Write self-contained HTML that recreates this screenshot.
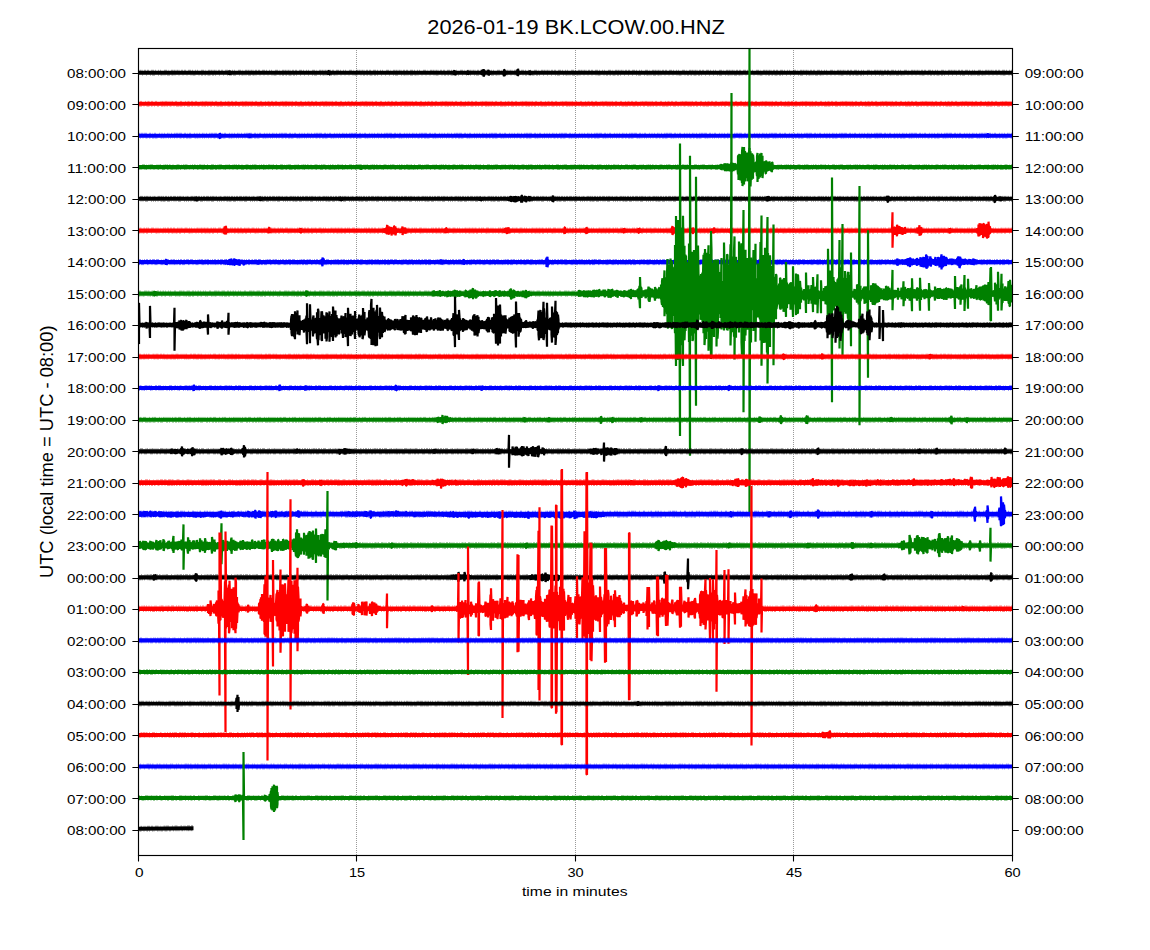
<!DOCTYPE html><html><head><meta charset="utf-8"><style>html,body{margin:0;padding:0;background:#fff;overflow:hidden}svg{display:block}text{font-family:"Liberation Sans",sans-serif;fill:#000}</style></head><body>
<svg width="1150" height="950" viewBox="0 0 1150 950">
<rect width="1150" height="950" fill="#fff"/>
<text x="427.3" y="33.8" font-size="19.6" textLength="297.5" lengthAdjust="spacingAndGlyphs">2026-01-19 BK.LCOW.00.HNZ</text>
<line x1="356.5" y1="48" x2="356.5" y2="855" stroke="#000" stroke-width="0.5" stroke-dasharray="0.8 1.2"/>
<line x1="575.5" y1="48" x2="575.5" y2="855" stroke="#000" stroke-width="0.5" stroke-dasharray="0.8 1.2"/>
<line x1="793.5" y1="48" x2="793.5" y2="855" stroke="#000" stroke-width="0.5" stroke-dasharray="0.8 1.2"/>
<defs><clipPath id="ax"><rect x="138" y="48" width="874.5" height="807"/></clipPath></defs>
<g clip-path="url(#ax)">
<path d="M138 72.7L1012 72.7" stroke="#000000" stroke-width="4.10" fill="none"/>
<path d="M138 70.3L1012 70.3" stroke="#000000" stroke-width="0.80" stroke-dasharray="1.0 3.0 3.0 1.5 0.5 2.0 2.0 0.5 2.0 1.0 2.0 1.0 0.5 1.0 2.0 1.0 2.0 2.0 3.0 1.0 1.0 2.0 1.0 1.0" stroke-dashoffset="15" fill="none" opacity="0.55"/>
<path d="M138 75.1L1012 75.1" stroke="#000000" stroke-width="0.80" stroke-dasharray="1.0 3.0 1.0 3.0 1.0 3.0 1.0 3.0 1.0 1.0 3.0 3.0 1.0 1.5 2.0 1.0 0.5 0.5 1.0 1.5 3.0 1.5 2.0 1.0" stroke-dashoffset="4" fill="none" opacity="0.55"/>
<path d="M227 72.2V73.4l.5 -1.2v1.1l.5 -.1v-.8l.5 -.3v1.3l.5 .6v-2.2l.5 -1.1v4.2l.5 -.7v-2.6l.5 .1v2.2l.5 -.6v-1.1l.5 .1v1l.5 .2v-1.1M326.5 71.9V73.4l.5 -1.5v1.5l.5 0v-1.5l.5 .1v1.3l.5 1.4v-3.7l.5 -.3v3.9l.5 -.2v-2.9l.5 .8v.9l.5 0v-1.1l.5 -.3v1.8l.5 -.5v-.9M452 72.1V73.3l.5 -1.2v1.1l.5 0v-1.4l.5 -.1v1.8l.5 .5v-2.7l.5 -1v4.8l.5 -.9v-2.8l.5 -.2v3l.5 -.6v-1.7l.5 .4v.9l.5 .4v-1.6M465.5 72.1V73.3l.5 -1.3v1.4l.5 -0v-1.1l.5 -.4v1.9l.5 -.2v-1.7l.5 -1.2v4l.5 -.9v-2l.5 .2v1.2l.5 .1v-1.3l.5 -.2v1.4l.5 -.1v-1.1M480 71.9V73.5l.5 -1.8v1.6l.5 -.1v-1.2l.5 -.1v1.6l.5 1.4v-4.1l.5 -.7v4.7l.5 -.7v-2.4l.5 -2.6v7.3l.5 -.6v-5.7l.5 1.4v2l.5 .5v-2.3l.5 .5v1.1l.5 .2v-1.4l.5 -.3v1.6l.5 -.3v-.9l.5 -.3v1.3l.5 .4v-2.2l.5 -1.6v5.5l.5 -.5v-3.6l.5 -.4v3.2l.5 -.7v-1.3l.5 .2v1.2l.5 -0v-1.3l.5 .1v1.1M502 71.9V73.4l.5 -1.2v1.1l.5 -0v-1.1l.5 -.2v1.8l.5 2.6v-6.9l.5 .6v5.6l.5 -1v-3.5l.5 .9v1.4l.5 -.2v-1.5l.5 .2v1.3l.5 0v-1.3M515 72.2V73.3l.5 -1.5v1.8l.5 -.2v-1.6l.5 .3v1.1l.5 .7v-2.5l.5 -2v6.4l.5 -.6v-6.4l.5 3v1.7l.5 .4v-2.1l.5 .3v1.4l.5 -.3v-1.1l.5 .1v1.1M527.5 72.2V73.2l.5 -1v1l.5 -.1v-1l.5 -.1v1.4l.5 -0v-1.5l.5 -1.3v4.2l.5 -.8v-2.2l.5 .4v1l.5 -0v-1l.5 -.2v1.3l.5 -.1v-1.1" stroke="#000000" stroke-width="2.20" fill="none" stroke-linejoin="miter" stroke-miterlimit="1"/>
<path d="M138 103.8L1012 103.8" stroke="#ff0000" stroke-width="4.10" fill="none"/>
<path d="M138 101.4L1012 101.4" stroke="#ff0000" stroke-width="0.80" stroke-dasharray="2.0 3.0 2.0 3.0 1.0 1.5 2.0 1.5 2.0 2.0 2.0 3.0 0.5 1.0 2.0 1.0 3.0 1.0 1.0 1.0 1.0 0.5 1.0 2.0" stroke-dashoffset="3" fill="none" opacity="0.55"/>
<path d="M138 106.2L1012 106.2" stroke="#ff0000" stroke-width="0.80" stroke-dasharray="1.0 1.5 3.0 0.5 3.0 1.5 1.0 2.0 3.0 1.5 1.5 1.5 1.0 2.0 2.0 2.0 2.0 0.5 2.0 1.0 1.5 1.5 2.0 2.0" stroke-dashoffset="5" fill="none" opacity="0.55"/>
<path d="M138 135.7L1012 135.7" stroke="#0000ff" stroke-width="4.10" fill="none"/>
<path d="M138 133.3L1012 133.3" stroke="#0000ff" stroke-width="0.80" stroke-dasharray="1.0 2.0 1.5 1.0 0.5 1.0 1.0 2.0 1.0 0.5 3.0 0.5 3.0 2.0 2.0 1.5 0.5 1.0 2.0 3.0 1.0 1.5 1.0 1.5" stroke-dashoffset="9" fill="none" opacity="0.55"/>
<path d="M138 138.1L1012 138.1" stroke="#0000ff" stroke-width="0.80" stroke-dasharray="1.0 1.0 1.0 1.0 0.5 1.5 1.0 1.5 1.0 2.0 2.0 1.5 1.5 1.5 2.0 0.5 3.0 3.0 1.5 0.5 2.0 1.0 1.0 1.5" stroke-dashoffset="4" fill="none" opacity="0.55"/>
<path d="M218 135.2V136.2l.5 -1.3v1.4l.5 .4v-1.7l.5 -1v3.9l.5 .6v-5.6l.5 2.3v1.2l.5 -.2v-1.1l.5 0v1.4l.5 -.1v-1.1M247 135.2V136.3l.5 -1.1v1l.5 .2v-1.4l.5 -0v1.3l.5 .2v-1.5l.5 -1.2v4.1l.5 -.8v-2.2l.5 .5v1.2l.5 .1v-1.4l.5 0v1.1l.5 .2v-1.5M985.5 135V136.6l.5 -1.5v1.2l.5 -.1v-1l.5 -0v1l.5 .1v-1.3l.5 -1.7v4.3l.5 -1.3v-1.4l.5 -.1v1.7l.5 -.4v-1.3l.5 .3v.9l.5 -.2v-.9" stroke="#0000ff" stroke-width="2.20" fill="none" stroke-linejoin="miter" stroke-miterlimit="1"/>
<path d="M138 167.1L1012 167.1" stroke="#008000" stroke-width="4.10" fill="none"/>
<path d="M138 164.7L1012 164.7" stroke="#008000" stroke-width="0.80" stroke-dasharray="1.5 2.0 0.5 1.0 2.0 0.5 1.0 1.0 1.5 2.0 1.0 3.0 3.0 1.5 0.5 1.5 1.0 0.5 3.0 3.0 0.5 1.0 1.0 1.0" stroke-dashoffset="13" fill="none" opacity="0.55"/>
<path d="M138 169.5L1012 169.5" stroke="#008000" stroke-width="0.80" stroke-dasharray="2.0 1.0 0.5 1.0 1.0 3.0 1.0 0.5 1.0 3.0 0.5 3.0 1.0 3.0 1.5 3.0 3.0 2.0 1.5 2.0 3.0 0.5 0.5 1.0" stroke-dashoffset="2" fill="none" opacity="0.55"/>
<path d="M358.5 166.6V167.7l.5 -1.3v1.7l.5 -.1v-1.4l.5 -.2v1.6l.5 .4v-2l.5 -1.7v5l.5 -1.8v-1.3l.5 -.2v1.7l.5 -0v-1.5l.5 .2v.9l.5 .2v-1.2M718 166.3V167.7l.5 -1.1v.9l.5 .2v-1.3l.5 -.1v1.5l.5 .7v-3l.5 -.2v3l.5 .3v-3.1l.5 -1.4v5.9l.5 -1.2v-3.1l.5 -.4v3.1l.5 1v-4.9l.5 1.4v2.1l.5 .2v-3l.5 -1.5v6.6l.5 -.1v-6l.5 -.4v7.2l.5 -2.4v-3.6l.5 -1.4v6.1l.5 1.4v-7.7l.5 2.2v3l.5 2.4v-7.2l.5 1.3v4.2l.5 -.2v-4.1l.5 .2v2.9l.5 3.1v-7.5l.5 2.2v2.1l.5 1.7v-5.9l.5 -1v8.7l.5 -1.2v-6.8l.5 1v4.7l.5 -.1v-5.2l.5 -.7v7.9l.5 -2.8v-2.8l.5 -.8v3.8l.5 1.7v-6.2l.5 -.2v5.4l.5 -.9v-3.4l.5 1.3v1l.5 .4v-1.7l.5 -1.7v4.6l.5 5.5v-17.9l.5 -1.3v24.8l.5 -3.9v-19.2l.5 -2.8v25.6l.5 -4.2v-16.1l.5 -3.9v25l.5 -4.9v-19.8l.5 -.5v22.2l.5 5.6v-30.9l.5 -5.2v39.2l.5 -10.9v-18.9l.5 4.5v12.1l.5 11.7v-37.5l.5 11.6v14.9l.5 7.9v-30.4l.5 9.7v11.7l.5 .9v-13.3l.5 -6.7v24.5l.5 -1v-24.3l.5 1.2v27.5l.5 -5.5v-15.9l.5 .8v14.2l.5 5.2v-27.9l.5 -4.2v33.1l.5 -7v-16.3l.5 -6.6v35.3l.5 -11.8v-16l.5 -2.9v24.1l.5 -3.7v-22.9l.5 4.5v16.1l.5 4.9v-24.1l.5 5v12.7l.5 -2.2v-7.3l.5 2.6v2.8l.5 .3v-3.9l.5 -2.4v7.5l.5 2v-9.8l.5 .1v9.6l.5 4.5v-19.7l.5 -3.6v29l.5 -9.9v-9.7l.5 -7.1v23.7l.5 -3.8v-16.2l.5 2.8v8.6l.5 7.1v-23.8l.5 6.2v11.2l.5 4.5v-19.1l.5 -3.5v23l.5 -1.3v-14.5l.5 -4.4v22.4l.5 -6.5v-9.8l.5 1.8v6.3l.5 -.2v-6.9l.5 -1.3v10.1l.5 -2.5v-4.7l.5 -3.3v12.2l.5 .1v-12.9l.5 1.8v9l.5 -.2v-8.4l.5 .4v6.5l.5 1.5v-9l.5 .8v7.5l.5 -1.7v-3.6l.5 -3.8v9.1l.5 -.7v-5.2l.5 .6v3.1l.5 .3v-4.2l.5 -1.5v9.1l.5 -.6v-9.3l.5 .8v7l.5 -2.2v-1.7l.5 -.2v2l.5 -.1v-1.7l.5 -.1v1.8l.5 -.2v-1.2" stroke="#008000" stroke-width="2.20" fill="none" stroke-linejoin="miter" stroke-miterlimit="1"/>
<path d="M138 198.8L1012 198.8" stroke="#000000" stroke-width="4.10" fill="none"/>
<path d="M138 196.4L1012 196.4" stroke="#000000" stroke-width="0.80" stroke-dasharray="2.0 1.0 1.0 1.0 2.0 1.0 3.0 1.0 1.0 0.5 3.0 1.0 1.5 1.5 1.0 0.5 1.5 2.0 3.0 0.5 1.5 0.5 1.0 1.0" stroke-dashoffset="6" fill="none" opacity="0.55"/>
<path d="M138 201.2L1012 201.2" stroke="#000000" stroke-width="0.80" stroke-dasharray="1.0 1.0 1.0 1.5 1.0 2.0 1.5 0.5 3.0 1.5 3.0 1.0 0.5 2.0 1.0 1.0 0.5 0.5 0.5 1.0 3.0 3.0 1.0 1.0" stroke-dashoffset="18" fill="none" opacity="0.55"/>
<path d="M194 198.1V199.7l.5 -1.5v1.3l.5 .2v-1.7l.5 .4v1.1l.5 .5v-1.7l.5 -1.5v4.4l.5 -1.6v-1.4l.5 -.1v1.5l.5 .2v-1.6l.5 .2v1l.5 .2v-1.2M258 198.2V199.3l.5 -1.2v1.2l.5 0v-1l.5 -.4v1.8l.5 .7v-2.8l.5 -.7v3.8l.5 -1.2v-1.4l.5 -.2v1.7l.5 -.3v-1.2l.5 0v1.1l.5 .3v-1.3M338.5 198.3V199.3l.5 -1.3v1.6l.5 -0v-1.4l.5 .2v.9l.5 .4v-1.6l.5 -1.1v3.9l.5 -.9v-1.9l.5 -0v1.8l.5 -.1v-1.6l.5 -0v1.6M478 198.2V199.4l.5 -1.3v1.3l.5 .1v-1.2l.5 -.2v1.7l.5 -.1v-1.8l.5 -1v4.1l.5 -.9v-2l.5 -.3v2.2l.5 -.5v-1.2l.5 .1v1.1l.5 -.2v-1.1M506.5 198.1V199.3l.5 -1.3v1.7l.5 -.3v-1.2l.5 -.5v2.2l.5 -.1v-2l.5 .4v1.3l.5 1.2v-3.3l.5 .1v2.8l.5 .2v-3l.5 -1.4v5.7l.5 -1.4v-3.2l.5 .8v1.8l.5 1.7v-4.6l.5 .9v2.3l.5 0v-2l.5 -1.5v5.5l.5 -1v-3.6l.5 -.9v5l.5 -.2v-4.3l.5 -.8v5.6l.5 -1.7v-2.8l.5 .1v4l.5 -1.4v-2l.5 .1v1.8l.5 .5v-3.1l.5 -.7v3.8l.5 -.6v-1.8l.5 -.2v1.6l.5 .8v-3.2l.5 .2v3.7l.5 1.6v-7.1l.5 .1v6.8l.5 -2.3v-2.8l.5 0v2.6l.5 1v-4.3l.5 1.3v1.8l.5 1.2v-4.1l.5 -.2v4.8l.5 -1.1v-3.2l.5 -.8v5.9l.5 -2.3v-2l.5 -.1v1.7l.5 1v-3.2l.5 .7v1.7l.5 .1v-2.5l.5 -1.1v4.9l.5 -.6v-4.2l.5 .8v3.1l.5 -.9v-1.4l.5 -.2v1.9l.5 -.2v-1.3l.5 -.2v1.3l.5 .2v-1.3l.5 0v1.1l.5 .3v-1.7M550.5 198.2V199.3l.5 -1.3v1.4l.5 .2v-1.4l.5 -.5v2.3l.5 1.2v-4.2l.5 -1.4v6.5l.5 -1.9v-2.5l.5 .8v1l.5 .3v-1.5l.5 -.1v1.5l.5 -.1v-1.5M764.5 198V199.6l.5 -1.4v1.1l.5 -0v-1.2l.5 -.2v1.9l.5 -.4v-1.4l.5 -.9v3l.5 1.3v-5.2l.5 1.4v2.1l.5 1.2v-4.4l.5 1.2v2.3l.5 -.6v-1.4l.5 -.1v1.5l.5 -.2v-1.1M885 198.2V199.3l.5 -1v1l.5 .1v-1.3l.5 -.3v1.8l.5 .8v-3.7l.5 -.4v4.7l.5 1.6v-6.7l.5 1.7v2.5l.5 .6v-3.6l.5 1.1v1.3l.5 .2v-1.6l.5 -0v1.6l.5 -.1v-1.5l.5 .1v1.2M992 198.3V199.2l.5 -1.1v1.5l.5 -.3v-1l.5 -.6v2.2l.5 0v-2.1l.5 -1.2v5.3l.5 .7v-7.6l.5 1.8v3.4l.5 -.4v-1.6l.5 -.3v1.7l.5 -.1v-1l.5 -.5v1.4l.5 -.1v-1l.5 -.1v1.1l.5 0v-1.1l.5 -.5v2.3l.5 -.5v-1.3l.5 -1.5v4.5l.5 -1.4v-2.3l.5 0v2.5l.5 -.5v-1.5l.5 .3v1l.5 .2v-1" stroke="#000000" stroke-width="2.20" fill="none" stroke-linejoin="miter" stroke-miterlimit="1"/>
<path d="M138 230.6L1012 230.6" stroke="#ff0000" stroke-width="4.29" fill="none"/>
<path d="M138 228.1L1012 228.1" stroke="#ff0000" stroke-width="0.88" stroke-dasharray="0.5 2.0 1.5 0.5 1.0 1.0 2.0 1.0 2.0 1.0 2.0 2.0 1.5 1.0 1.0 0.5 1.5 2.0 3.0 1.5 1.0 1.0 1.0 2.0" stroke-dashoffset="11" fill="none" opacity="0.55"/>
<path d="M138 233.1L1012 233.1" stroke="#ff0000" stroke-width="0.88" stroke-dasharray="0.5 0.5 1.5 1.0 1.0 3.0 1.0 2.0 0.5 2.0 1.5 2.0 2.0 1.0 1.0 0.5 1.0 0.5 0.5 1.0 2.0 3.0 1.0 3.0" stroke-dashoffset="16" fill="none" opacity="0.55"/>
<path d="M222.5 229.8V231.4l.5 -1.3v1l.5 .3v-1.5l.5 -1v3.7l.5 1.4v-7.5l.5 2.4v3.1l.5 2.5v-8.5l.5 .8v7.6l.5 -3v-2.1l.5 -.4v3.3l.5 -1v-1.4l.5 -0v1.8l.5 -.4v-1.1l.5 -.3v1.3M266 229.9V231.2l.5 -1.3v1.5l.5 -.2v-1.3l.5 -.4v2l.5 0v-1.9l.5 -.1v1.9l.5 1.9v-5.6l.5 -.3v5.4l.5 -1.4v-1.7l.5 -0v1.6l.5 -.1v-1.3l.5 .1v1.3l.5 -0v-1.3M298 229.8V231.2l.5 -1.5v1.6l.5 -.3v-1.1l.5 -.1v1.5l.5 .5v-2.4l.5 -1.3v4.9l.5 -.6v-3.2l.5 .6v1.5l.5 -0v-1.4l.5 .1v1.4l.5 -.1v-1.3l.5 -.1v1.6M382 229.8V231.5l.5 -1.8v1.4l.5 .1v-1.5l.5 -.1v1.8l.5 .3v-2.5l.5 -0v2.9l.5 -0v-2.7l.5 -.3v2.4l.5 1.6v-5.4l.5 .7v4.5l.5 1.2v-8.3l.5 -.6v9l.5 -1.8v-3.7l.5 -.1v4.6l.5 1.4v-8l.5 1.1v5.8l.5 -1.4v-3.5l.5 -.2v4.5l.5 -1.1v-2.8l.5 -1.9v8.5l.5 -3.6v-2.9l.5 -1.4v6l.5 -1.8v-2.6l.5 -.1v2.6l.5 2.4v-7.9l.5 -.1v8l.5 -1v-5.7l.5 -1v8.9l.5 -2.5v-4.5l.5 1.4v1.8l.5 .8v-2.9l.5 -.3v2.4l.5 .1v-2.1l.5 .2v1.5l.5 -.1v-1.2l.5 -.2v1.5l.5 .3v-1.6l.5 -.1v1.7l.5 1.1v-3.4l.5 .2v2.5l.5 -.3v-2.6l.5 -2.6v8.4l.5 -1.6v-4.9l.5 -.4v4.7l.5 .8v-5.2l.5 -0v3.8l.5 .9v-5l.5 .7v5.1l.5 -2.6v-1l.5 -.1v1.1l.5 .4v-1.8l.5 .3v1.4l.5 -0v-1.4M443 230V231.5l.5 -1.7v1.7l.5 -.4v-1.1l.5 -.1v1.3l.5 1.2v-3.7l.5 .7v2.3l.5 1.4v-5l.5 .1v4.6l.5 -1.1v-2.2l.5 -0v2.4l.5 -.6v-1.6l.5 .3v1.5l.5 -.1v-1.3M502 230V231.2l.5 -1.4v1.6l.5 -.1v-1.2l.5 -.2v1.1l.5 1.2v-2.8l.5 .3v1.8l.5 .9v-3.8l.5 -0v3.9l.5 -1v-2.1l.5 -.7v3.6l.5 1.6v-6.3l.5 1.4v3.9l.5 -.5v-3.6l.5 -1.5v5.8l.5 -1.4v-2l.5 .1v1.6l.5 -.1v-1.4l.5 -.1v1.5l.5 .1v-1.5l.5 .1v1.1l.5 .2v-1.7M561.5 230V231.3l.5 -1.2v1l.5 .4v-1.7l.5 -0v1.6l.5 -.1v-1.5l.5 -0v1.9l.5 2.2v-6.5l.5 -.1v6.2l.5 -1.6v-2.6l.5 .8v1.2l.5 .2v-1.8l.5 .4v1.3l.5 .1v-1.8M583.5 229.9V231.4l.5 -1.4v1.2l.5 -0v-1.1l.5 -.2v1.5l.5 1.1v-4.3l.5 1.3v2.6l.5 1.9v-7l.5 2.3v3.5l.5 -.7v-2.6l.5 .3v1.9l.5 -0v-1.5l.5 0v1.4l.5 .1v-1.4M621 230.1V231.3l.5 -1.4v1.4l.5 .1v-1.4l.5 -.5v2.1l.5 -.4v-1.4l.5 -.5v3.2l.5 .6v-4.9l.5 1v2.5l.5 .2v-2.6l.5 .9v1.2l.5 -.1v-1l.5 -.1v1.1l.5 0v-1.1M636 229.8V231.6l.5 -1.6v1.3l.5 0v-1.5l.5 0v1.3l.5 .2v-1.5l.5 -1.2v4.2l.5 .2v-4.8l.5 .7v3.7l.5 -1.5v-1.1l.5 -.2v1.7l.5 -0v-1.7l.5 .1v1.2l.5 .1v-1.5M669 230V231.4l.5 -1.7v1.9l.5 -.5v-1.2l.5 -.3v1.6l.5 .2v-1.7l.5 -.4v2.3l.5 1.1v-4.7l.5 -2.1v9.2l.5 -2.9v-3.4l.5 -1.5v5.8l.5 -.1v-5.4l.5 1.7v2.3l.5 -.1v-1.8l.5 .3v1.1l.5 .1v-1.4l.5 .1v1.5M690 229.9V231.2l.5 -1.3v1.5l.5 .1v-1.7l.5 .3v1.3l.5 1.1v-4.7l.5 1.7v2.5l.5 1.9v-6.3l.5 2.2v1.7l.5 -0v-1.7l.5 .2v1.4l.5 -0v-1.5l.5 .1v1.4l.5 .3v-1.8M711 230V231.3l.5 -1.3v1.1l.5 .3v-1.8l.5 -.5v2.6l.5 1.2v-3.9l.5 .2v3l.5 1v-5.8l.5 2.3v2.1l.5 -.4v-1.8l.5 -.1v1.9l.5 .1v-1.7l.5 -0v1.6M728 230.1V231.1l.5 -1.1v1.5l.5 0v-1.7l.5 .2v1.2l.5 .5v-2l.5 -.1v2l.5 1.3v-4.8l.5 .5v4.2l.5 -1.4v-1.9l.5 .1v1.6l.5 -.1v-1l.5 -.2v1.4l.5 0v-1.4M891 230.1V231.3l.5 -1.3v1.2l.5 .2v-1.5l.5 -17.6v35.4l.5 -15.1v-3.8l.5 .2v3.5l.5 .6v-5.7l.5 .1v7.2l.5 -2.5v-3.5l.5 -1.1v6.6l.5 -.8v-6.7l.5 1.2v4.8l.5 3.6v-11.6l.5 2.1v6.8l.5 -.2v-7l.5 2.7v3.4l.5 1v-5.5l.5 -1.9v7.7l.5 -1.6v-3.8l.5 .4v3.7l.5 -.6v-3.3l.5 -1.6v6.9l.5 -2.3v-2.2l.5 -1.8v7.3l.5 -3.3v-2l.5 -.9v4l.5 .1v-4.6l.5 1.4v1.5l.5 2.8v-7l.5 2.9v1.2l.5 .1v-1.2l.5 -.1v1.4l.5 .3v-1.8l.5 .2v1.1l.5 .2v-1.7M915 229.8V231.3l.5 -1.3v1.3l.5 .1v-1.3l.5 -.4v1.9l.5 -.1v-1.3l.5 -2.8v6.1l.5 -1.5v-3l.5 -.2v3.4l.5 .3v-4.1l.5 -3.2v10.6l.5 -3.4v-4.2l.5 -.4v5.6l.5 1.9v-8.1l.5 1.3v4.8l.5 -1.8v-1.7l.5 -.1v2l.5 -.5v-1l.5 -.3v1.5l.5 .1v-1.4M947 229.8V231.3l.5 -1.3v1.1l.5 .3v-1.6l.5 .2v1.3l.5 .1v-1.7l.5 -.5v3.1l.5 .9v-4.9l.5 .9v3l.5 -.9v-1.5l.5 .2v1.1l.5 .4v-1.7l.5 0v1.6l.5 -.2v-1.5M974.5 229.9V231.3l.5 -1.3v1.2l.5 -0v-1.7l.5 .4v1.2l.5 .3v-1.5l.5 -.4v1.9l.5 1.6v-5l.5 .8v3.1l.5 4.5v-11.8l.5 1.5v9.3l.5 .6v-12.8l.5 5.8v2.7l.5 1.2v-5.6l.5 1.6v2.5l.5 3.5v-11.3l.5 5.1v3.6l.5 -.7v-3l.5 -4.2v13.5l.5 -1.7v-12.3l.5 -.2v13l.5 -4v-4.9l.5 1.3v2.5l.5 1v-5.6l.5 -2.6v11.9l.5 .3v-10.7l.5 -1.8v14.5l.5 -6.8v-2.5l.5 -5.2v13.4l.5 -.8v-15l.5 5.9v6.4l.5 -0v-7.4l.5 -.1v7l.5 -2.2v-2l.5 -.1v2l.5 -.3v-1.5l.5 .3v1.1l.5 -0v-1.2" stroke="#ff0000" stroke-width="2.20" fill="none" stroke-linejoin="miter" stroke-miterlimit="1"/>
<path d="M138 262.1L1012 262.1" stroke="#0000ff" stroke-width="4.29" fill="none"/>
<path d="M138 259.6L1012 259.6" stroke="#0000ff" stroke-width="0.88" stroke-dasharray="0.5 1.5 0.5 1.0 2.0 0.5 2.0 1.5 2.0 0.5 2.0 1.5 0.5 1.0 1.0 1.0 2.0 1.5 1.5 1.0 3.0 1.0 3.0 2.0" stroke-dashoffset="11" fill="none" opacity="0.55"/>
<path d="M138 264.6L1012 264.6" stroke="#0000ff" stroke-width="0.88" stroke-dasharray="2.0 1.5 1.0 1.0 1.0 1.0 2.0 1.0 1.0 1.5 2.0 1.0 3.0 3.0 1.5 3.0 1.0 2.0 3.0 3.0 3.0 1.0 0.5 1.0" stroke-dashoffset="13" fill="none" opacity="0.55"/>
<path d="M164 261V262.8l.5 -1.5v1.7l.5 0v-2l.5 .3v1.7l.5 1.6v-4.7l.5 -.5v5.5l.5 -1.9v-1.7l.5 .1v1.5l.5 .4v-2.5l.5 .6v1.3l.5 0v-1.1l.5 -.2v1.3M224 261.6V262.8l.5 -1.3v1.3l.5 0v-1.3l.5 .1v1.2l.5 1.5v-3.8l.5 .3v2.6l.5 -.4v-1.7l.5 -1v3.7l.5 .2v-3.9l.5 .8v2.4l.5 1v-5l.5 .4v4l.5 .8v-4.3l.5 .7v2l.5 1.9v-6.3l.5 1.3v4.2l.5 -1v-2l.5 -.4v2.5l.5 1.9v-5.5l.5 1v2.8l.5 1.3v-6.2l.5 1.1v5.2l.5 .2v-5.6l.5 .5v4.1l.5 .5v-4.6l.5 .5v2.7l.5 -.2v-1.9l.5 -1.5v5.5l.5 -1.7v-2.1l.5 -0v2.2l.5 .7v-3.7l.5 -.8v6.1l.5 -2.3v-2l.5 .3v1.4l.5 .5v-3.1l.5 1.1v1.6l.5 -.3v-1.1l.5 -.3v1.6l.5 -.1v-1.5l.5 -.7v2.8l.5 1.6v-5.3l.5 1.8v1.7l.5 -.1v-1.6l.5 .1v1.5l.5 -.2v-1.5l.5 .2v1.3M255.5 261.3V263l.5 -1.5v1.3l.5 -.1v-1.4l.5 .1v1.7l.5 -.1v-1.7l.5 -.6v2.7l.5 1.1v-4.4l.5 1.2v1.9l.5 .2v-2.2l.5 .3v1.8l.5 -.3v-1.5l.5 0v1.7l.5 -.2v-1.5M319.5 261.3V263l.5 -1.7v1.4l.5 .1v-1.6l.5 .2v1.2l.5 1v-3.9l.5 0v4.6l.5 1.9v-8.8l.5 3v2.8l.5 1.2v-5.9l.5 2.7v1.6l.5 -.2v-1.5l.5 .2v1.4l.5 -.2v-1.3l.5 .2v1M439 261.6V262.6l.5 -1.4v1.7l.5 -.2v-1.1l.5 -.6v1.9l.5 1.2v-3.5l.5 -1.1v4.8l.5 -1.1v-2.3l.5 .2v1.5l.5 0v-1.4l.5 -.2v1.6l.5 -0v-1.4M461.5 261.4V262.8l.5 -1.1v.9l.5 .1v-1.1l.5 -.1v1.3l.5 1.5v-4.4l.5 -.2v5l.5 -1.6v-2l.5 -.3v2.1l.5 -.2v-1.2l.5 -0v1.1l.5 .2v-1.5M544 261.4V263.1l.5 -1.6v1.4l.5 0v-1.6l.5 .2v1l.5 .3v-1.8l.5 -3.3v9.2l.5 -2v-5l.5 -3.1v10.5l.5 -3.2v-3.9l.5 -.4v4.3l.5 -1.3v-1.3l.5 -.3v1.7l.5 -.4v-1.2l.5 0v1.2l.5 .3v-1.6M590.5 261.6V262.7l.5 -1.6v1.8l.5 -.1v-1.6l.5 -.2v1.9l.5 -.2v-1.5l.5 -0v1.6l.5 1v-3.8l.5 1.1v1.7l.5 -.2v-1.5l.5 .2v1.2l.5 .3v-1.5l.5 -.2v1.6M894 261.1V262.8l.5 -1.5v1.3l.5 .2v-1.7l.5 .1v1.7l.5 -.1v-1.4l.5 -1.5v3.8l.5 1v-4.7l.5 -1.4v7.1l.5 -2.5v-2.4l.5 -.4v3.4l.5 -.1v-3.8l.5 .4v2.9l.5 -.2v-1.9l.5 -.1v1.9l.5 .3v-2.1l.5 -.3v2.3l.5 0v-2.9l.5 -.1v3.2l.5 1.3v-4.8l.5 .7v3.6l.5 -.6v-3l.5 .1v3.1l.5 -.2v-3.2l.5 .5v2.4l.5 1v-5.1l.5 1.2v2.7l.5 1.6v-6l.5 2.1v2.3l.5 3v-7.8l.5 1v5.2l.5 -.5v-3.4l.5 -2.4v6.7l.5 2.1v-9.3l.5 2.1v5l.5 -1.1v-3.3l.5 -1.9v6.6l.5 -.5v-5.1l.5 1.4v2l.5 1.9v-5.4l.5 .2v5.1l.5 -1.3v-2.6l.5 -.8v3.5l.5 -.8v-1.7l.5 -.7v3.3l.5 .5v-5.1l.5 .6v4.2l.5 2v-7.6l.5 1.4v4.6l.5 .2v-4.2l.5 -.6v4.2l.5 1v-5.5l.5 .8v3.7l.5 .2v-3.5l.5 -3.2v9.4l.5 -1v-7.7l.5 2.4v3.2l.5 1.8v-6.3l.5 -1.3v9.4l.5 -1.3v-8.1l.5 -.2v9.5l.5 -1.2v-7.6l.5 .2v7.1l.5 1.1v-9.5l.5 2.2v6.1l.5 2.1v-12.2l.5 -.2v13.7l.5 -2.5v-9l.5 -1.4v11.7l.5 -3.2v-4.6l.5 .3v3.3l.5 .1v-3.4l.5 0v3.1l.5 2.3v-7.2l.5 -1.9v9.8l.5 -.6v-7.1l.5 1.8v3.1l.5 .9v-4.6l.5 -.1v3.8l.5 .2v-3.3l.5 -.5v3.8l.5 .5v-4.8l.5 .4v3.8l.5 .3v-4.5l.5 -2.2v8.7l.5 -1.6v-4.4l.5 .1v3.5l.5 .4v-4.6l.5 .7v3.4l.5 2.1v-8.3l.5 1.2v6.4l.5 -1.7v-3l.5 -2.8v10.2l.5 -3.4v-4.6l.5 -.3v5.2l.5 .9v-7.6l.5 -3.3v15.2l.5 -5.8v-5.3l.5 -.8v9.1l.5 -.2v-10.5l.5 1.6v8.2l.5 -.7v-9l.5 2.3v6l.5 1.2v-7.9l.5 1.6v4.5l.5 2.3v-9l.5 1.1v5.7l.5 .1v-5l.5 .9v3.5l.5 -.5v-2.8l.5 -.2v3.8l.5 -.3v-3.7l.5 .2v3l.5 .4v-3.8l.5 -.2v4.6l.5 -.5v-3.9l.5 -0v3.4l.5 2.2v-5.7l.5 -.3v4.7l.5 -1.3v-2.2l.5 -1.5v5.2l.5 -1.6v-2l.5 -.7v4.1l.5 -1.5v-1.5l.5 -1v3.8l.5 -.1v-3.3l.5 -.6v3.9l.5 .1v-4.5l.5 -.9v7l.5 -.4v-8.3l.5 1.8v6.4l.5 1.4v-8.7l.5 -.3v11l.5 -1.9v-9.4l.5 1.6v6.6l.5 -.3v-5.6l.5 1.2v2.7l.5 .1v-2.9l.5 .4v2.4l.5 .4v-3.4l.5 -.8v5.5l.5 -1.2v-3.2l.5 -.5v4.1l.5 .1v-4.6l.5 -.1v5l.5 -1.8v-2.1l.5 -.6v3.7l.5 -.8v-1.9l.5 -.9v3.8l.5 -0v-3.9l.5 .7v2.2l.5 .1v-2.3l.5 -1.4v4.9l.5 -.4v-4.2l.5 1.1v2.5l.5 -.1v-2.5l.5 -.9v5.3l.5 -1.9v-2.2l.5 -.6v3.2l.5 -.4v-2.3l.5 -2.2v6.7l.5 -1.4v-4l.5 .8v2.9l.5 .6v-4.4l.5 .7v3.4l.5 -.5v-3l.5 .2v2.7l.5 -.7v-1.7l.5 .1v1.7l.5 -0v-1.4l.5 -.2v1.5l.5 .1v-1.8" stroke="#0000ff" stroke-width="2.20" fill="none" stroke-linejoin="miter" stroke-miterlimit="1"/>
<path d="M138 293.6L1012 293.6" stroke="#008000" stroke-width="4.29" fill="none"/>
<path d="M138 291.1L1012 291.1" stroke="#008000" stroke-width="0.88" stroke-dasharray="1.0 3.0 2.0 3.0 3.0 0.5 2.0 1.5 0.5 0.5 3.0 2.0 2.0 1.0 1.0 1.0 0.5 0.5 1.0 1.0 1.0 2.0 1.0 1.0" stroke-dashoffset="3" fill="none" opacity="0.55"/>
<path d="M138 296.1L1012 296.1" stroke="#008000" stroke-width="0.88" stroke-dasharray="1.5 0.5 1.0 3.0 1.5 0.5 0.5 1.0 2.0 3.0 1.0 0.5 0.5 0.5 1.0 1.0 3.0 1.0 2.0 3.0 1.5 2.0 1.5 3.0" stroke-dashoffset="5" fill="none" opacity="0.55"/>
<path d="M152 292.9V294.2l.5 -1.5v1.8l.5 -.3v-1.3l.5 0v1.6l.5 .7v-3.7l.5 .6v2.6l.5 1.4v-4.8l.5 1.2v2l.5 .2v-2.9l.5 1v1.5l.5 -0v-1.6l.5 .2v1.2l.5 .1v-1.3M304 292.6V294.5l.5 -1.6v1.4l.5 .1v-1.7l.5 .3v1.2l.5 .9v-3.1l.5 -1.4v5.1l.5 .4v-5.1l.5 1.7v1.5l.5 .2v-1.8l.5 0v1.8l.5 -.2v-1.3l.5 -.2v1.3l.5 .3v-1.9M430.5 292.9V294.3l.5 -1.5v1.3l.5 .1v-1.1l.5 -.5v1.8l.5 -.1v-1.6l.5 -1v3.1l.5 1.7v-5.7l.5 .6v4.1l.5 -1.2v-1.8l.5 -.2v2.7l.5 .8v-4.6l.5 1.7v1.4l.5 .3v-2.4l.5 .1v2.7l.5 .4v-3.2l.5 -.6v3.5l.5 .5v-4.4l.5 1.7v1.6l.5 .5v-3.4l.5 -1.3v6.3l.5 -1.2v-3.4l.5 .4v2.3l.5 .9v-4l.5 1.3v1.5l.5 .9v-3.4l.5 -.4v4.3l.5 -1.3v-1.8l.5 -.4v2.3l.5 .4v-2.3l.5 -.4v3l.5 .7v-4l.5 .6v2.6l.5 -.4v-2.2l.5 -.1v2.9l.5 1.7v-6.2l.5 .8v4.6l.5 -1.2v-2.7l.5 -1.5v5.2l.5 -1.7v-1.7l.5 -.8v4.2l.5 -.3v-3.6l.5 -0v3l.5 -.7v-1.5l.5 -.8v3.3l.5 .4v-4.9l.5 .5v4.4l.5 -.8v-2.9l.5 .9v1.6l.5 1.2v-4.7l.5 -1.2v7.4l.5 -.2v-6.6l.5 2.1v2.3l.5 -.2v-2.1l.5 -2.4v5.7l.5 -.3v-4.2l.5 .8v2.5l.5 -.2v-1.7l.5 -1.8v5.5l.5 -1.7v-2.4l.5 -1.8v5.4l.5 -1.5v-1.9l.5 -.3v2.9l.5 .3v-3.5l.5 .4v2.1l.5 .1v-1.8l.5 -.8v3.5l.5 -.7v-2.1l.5 -0v2l.5 -0v-1.9l.5 -.1v2.6l.5 1.8v-6.6l.5 -.1v5.8l.5 .2v-5.2l.5 1.3v3.2l.5 -.8v-1.9l.5 -1v4.8l.5 -.9v-4.3l.5 -.3v6.8l.5 -2.4v-3.1l.5 -1.7v6.6l.5 -.6v-7.4l.5 1.9v5.7l.5 -1.5v-4.4l.5 .3v4.7l.5 1.3v-8.2l.5 -1.1v10.9l.5 -3.2v-4.1l.5 .8v2.8l.5 .2v-3.7l.5 -2.5v8l.5 -1.8v-4.1l.5 -1.2v7.2l.5 .5v-7.6l.5 1.7v3.6l.5 -1.2v-2l.5 -.4v4.2l.5 -1.1v-2.9l.5 -.4v3.5l.5 -.8v-1.9l.5 -.4v2.6l.5 -.4v-1.5l.5 -0v1.7l.5 -.1v-1.7l.5 -.6v2.6l.5 -.2v-2.2l.5 -.9v4.3l.5 .1v-4.1l.5 -.4v4.3l.5 -.8v-3.4l.5 1.2v2.3l.5 .6v-3.5l.5 .3v2l.5 -.1v-1.9l.5 0v2.3l.5 -.1v-2.2l.5 -.6v3.2l.5 -.7v-1.7l.5 -.1v2.1l.5 .8v-3.8l.5 -1.2v6.1l.5 -.7v-4.2l.5 .8v1.9l.5 .2v-1.9l.5 -.3v1.9l.5 .6v-2.6l.5 -.9v4.4l.5 -1.5v-1.5l.5 -1v4.1l.5 .2v-5.5l.5 1.9v1.8l.5 1.4v-5.6l.5 2.5v2l.5 -.3v-1.5l.5 -.2v2.1l.5 -.1v-1.8l.5 -1.7v4.8l.5 -1.2v-2.2l.5 -.5v3.1l.5 1.6v-5l.5 -1.3v5.5l.5 -.9v-3l.5 -.1v4.1l.5 -.9v-2.7l.5 .4v1.8l.5 .6v-3.1l.5 -.5v4l.5 -.8v-2.1l.5 -1v3.7l.5 .8v-4.6l.5 -.1v4.1l.5 -1.1v-1.7l.5 -.5v2.8l.5 .5v-3.4l.5 .1v2.7l.5 .6v-4.2l.5 1.1v2.8l.5 .7v-4.6l.5 .9v2.7l.5 .6v-3.4l.5 -2.8v7.6l.5 -.9v-5.1l.5 -2.6v11l.5 -2.5v-5.4l.5 .5v3.5l.5 3.1v-8.4l.5 1.2v4.2l.5 1v-6l.5 -.7v7.7l.5 -.8v-5.8l.5 1.5v2.7l.5 -.2v-2.7l.5 -.9v4l.5 -.5v-2.2l.5 -1v3.8l.5 .6v-4.3l.5 -.3v4.6l.5 -.7v-3.3l.5 -.3v4.7l.5 -1.5v-1.7l.5 -.8v3.2l.5 -.2v-2.7l.5 -.7v4.1l.5 -1.3v-1.7l.5 -.1v1.8l.5 2.1v-6.3l.5 .7v5.1l.5 -1.5v-2.2l.5 -1.1v4.3l.5 .8v-5.5l.5 1.9v1.7l.5 3v-6.6l.5 -1.4v8l.5 -1v-5.2l.5 1.5v1.9l.5 .2v-2.6l.5 .1v2.3l.5 1.8v-5.9l.5 2v1.9l.5 -.1v-1.5l.5 -.5v2.2l.5 -.3v-1.6l.5 -.2v2l.5 -.1v-1.4M576 293V294.2l.5 -1.3v1.4l.5 -.1v-1.4l.5 -0v1.7l.5 -.1v-2.1l.5 .5v1.5l.5 2.5v-6.9l.5 2.5v2.5l.5 -.5v-1.9l.5 -2.2v6.1l.5 -1.5v-3l.5 -.4v3.5l.5 -0v-3.2l.5 .3v2.5l.5 .5v-3.3l.5 -.3v3.4l.5 2v-5.8l.5 -.2v6.2l.5 -1v-4.2l.5 .4v2.4l.5 2.3v-6.3l.5 2v2.1l.5 .2v-3.1l.5 -1.1v5.6l.5 .5v-5.8l.5 .3v5l.5 -1.5v-2.3l.5 0v2l.5 1.1v-4l.5 -.8v6.1l.5 -1.7v-3.3l.5 -1.1v6.1l.5 -1.7v-3.6l.5 .3v3l.5 .1v-3.9l.5 -1.1v6.9l.5 -.4v-6.7l.5 1v4.7l.5 .6v-5.6l.5 1v3.9l.5 1.1v-6l.5 .2v5.2l.5 -0v-6.2l.5 1.5v4l.5 -.1v-3.2l.5 -1v4.3l.5 1.8v-7.6l.5 .4v6l.5 -.8v-3.4l.5 -.1v3.5l.5 -.2v-3.7l.5 .5v3l.5 .8v-3.8l.5 .6v2.2l.5 0v-2.4l.5 -2.5v6.3l.5 -.8v-3.5l.5 -.5v4.6l.5 1.5v-7.4l.5 1.9v3.1l.5 -.3v-2.3l.5 -.8v4.7l.5 -1.6v-2l.5 -.9v3.5l.5 -0v-3l.5 -3.1v8.8l.5 -2.3v-3.5l.5 .6v2.2l.5 1v-5l.5 -1v7.5l.5 -.2v-7l.5 .2v5.7l.5 .3v-6.8l.5 .2v6.3l.5 -.1v-4.3l.5 -0v3.7l.5 -.2v-3.9l.5 .2v3.6l.5 -.1v-3.2l.5 -.2v3.7l.5 1.4v-6.2l.5 .6v3.9l.5 -.6v-1.7l.5 -2.7v7.8l.5 -2.7v-3l.5 .5v1.9l.5 1.2v-4.3l.5 .6v3.1l.5 -.1v-2.3l.5 -0v2.3l.5 .9v-4l.5 -.9v5.8l.5 -1.9v-2.4l.5 -0v3l.5 .1v-3.4l.5 .2v2.8l.5 2.1v-6.7l.5 .9v4.2l.5 -.5v-2.3l.5 -1.6v4.9l.5 -.7v-3.3l.5 -1.2v5.8l.5 -1.3v-3.3l.5 .2v2.5l.5 1v-4.3l.5 -.3v6l.5 -1v-4.8l.5 -1.7v6.7l.5 1.2v-7.7l.5 .6v5.3l.5 3.2v-10.1l.5 2.8v3.6l.5 -.4v-3l.5 -1.2v6l.5 -.7v-5.3l.5 0v5.6l.5 -1.2v-3.4l.5 -1.4v6.3l.5 -.3v-5.3l.5 .4v5.3l.5 -1.2v-4l.5 .5v2.8l.5 -.3v-2.1l.5 -2.9v6.5l.5 1.3v-8.5l.5 .5v10.2l.5 -1.5v-8l.5 -4.1v14.5l.5 7.8v-31.2l.5 13.4v5.5l.5 2v-10.9l.5 1.9v8.8l.5 -3.1v-2.8l.5 -1.5v5.4l.5 -.4v-3.1l.5 -1.2v4.5l.5 .1v-5.1l.5 .8v3.9l.5 .4v-4.7l.5 -1v8.3l.5 -1.2v-7.5l.5 1.9v4.9l.5 -.5v-5.8l.5 1.2v4l.5 -0v-3.8l.5 -4.9v13l.5 1.8v-13.4l.5 -.2v14.2l.5 -3.7v-9.6l.5 1.1v7.6l.5 -1.9v-4.2l.5 -.6v5.4l.5 1.2v-7.7l.5 -.3v7.8l.5 -.5v-5.6l.5 -.4v6.5l.5 -1.1v-5.4l.5 .3v5.7l.5 4.2v-13.7l.5 1.9v8.9l.5 -1.9v-5.1l.5 -2.3v9.9l.5 -2.1v-6.1l.5 1.5v4l.5 .7v-4.7l.5 -2.1v8l.5 .1v-9.4l.5 -.9v11l.5 -2.5v-4.1l.5 -1.6v6.3l.5 2.8v-14.8l.5 2.7v14.3l.5 3.3v-23.6l.5 -3v25.4l.5 3.1v-26.4l.5 3v20.1l.5 4.3v-26.9l.5 -10.4v45.9l.5 -12v-23.9l.5 .8v21.9l.5 4.7v-30.6l.5 10.4v14.2l.5 12.3v-40.4l.5 -14.7v64l.5 5.6v-64.1l.5 13v28.9l.5 11.9v-48.4l.5 .4v55.5l.5 -13.9v-40.1l.5 -13.2v65.6l.5 -2.7v-60.7l.5 .4v66.3l.5 1.5v-67.7l.5 18.2v30.3l.5 -1.7v-27.8l.5 -11.4v46.6l.5 -.3v-39.4l.5 -9.1v52.9l.5 13.6v-88.1l.5 10v63.3l.5 47.5v-150l.5 55v56.2l.5 4v-84.4l.5 -6.2v107.2l.5 12.2v-140l.5 34.9v72.4l.5 8.1v-74l.5 2.2v61.9l.5 110.6v-292.4l.5 112.5v68l.5 21.2v-117.9l.5 22v94.8l.5 -8.8v-70.3l.5 -21.4v112l.5 10.2v-150.2l.5 36.6v88l.5 -6.1v-83.5l.5 -5v94.6l.5 -13v-71.9l.5 -.7v76.3l.5 -12.2v-63l.5 14.9v42.7l.5 10.7v-61.9l.5 2.1v58.3l.5 -11.7v-38.9l.5 2.8v35.7l.5 31.5v-98.5l.5 33.2v37.4l.5 141.6v-299.9l.5 103.2v76.5l.5 -3.1v-67.9l.5 -11v75.3l.5 -2.4v-74.4l.5 1.2v87.8l.5 -1.9v-85.4l.5 25.1v28.9l.5 25.8v-83.6l.5 25.5v32.1l.5 4.1v-35.5l.5 4.2v32.4l.5 93.1v-229.1l.5 91.2v56.9l.5 -15.9v-29.1l.5 -7.1v41.4l.5 14.5v-83l.5 29.6v32.9l.5 4.7v-34.8l.5 -1.2v37.7l.5 -7.9v-30.2l.5 -.2v43.6l.5 -2v-43.9l.5 4.5v35.7l.5 5.6v-44.9l.5 -2.1v49.2l.5 -6.6v-42l.5 -18.6v78.6l.5 -14.8v-48.1l.5 -17.6v92.3l.5 -7.8v-88.2l.5 12.9v74l.5 2.9v-86.1l.5 9.9v52.9l.5 1.4v-46l.5 -1.9v49.8l.5 12.7v-71l.5 -15.4v105.6l.5 -19.5v-75.7l.5 -1.5v90.5l.5 -26.8v-47.4l.5 -6.1v56.6l.5 38v-127.8l.5 19.3v104.5l.5 -42.2v-40.6l.5 2.4v36.9l.5 21.1v-69.5l.5 9.6v40l.5 24.3v-77l.5 11.4v49.5l.5 1.8v-62.8l.5 5.5v51.7l.5 -7.4v-39.5l.5 -10.6v86.9l.5 -32.7v-43.2l.5 -10.5v78.8l.5 -7.8v-71.5l.5 16.1v38.5l.5 -4.5v-33.1l.5 -4.6v39.4l.5 1.4v-36.1l.5 1.5v40l.5 -7.4v-28.1l.5 -24.6v71.4l.5 -19.6v-26.7l.5 -1.3v25.1l.5 3.4v-29.2l.5 1.2v22.9l.5 25.3v-88l.5 25.3v47l.5 2v-47.6l.5 -6v65.1l.5 -13.2v-36l.5 -6.9v38.6l.5 19.1v-75.7l.5 1.1v75.3l.5 -8.7v-57.4l.5 10.8v35.4l.5 18.6v-60l.5 .6v53.6l.5 -1.1v-56.3l.5 -21.7v101l.5 -16.2v-64.3l.5 -171.8v219.2l.5 20v-75.7l.5 7.3v64.3l.5 -10.2v-40.7l.5 -10.1v53.3l.5 16.3v-85.3l.5 -15.1v123.2l.5 -47.6v-42.7l.5 3.7v41.6l.5 23.2v-80.9l.5 16.7v48.6l.5 1.9v-61.4l.5 1v54.2l.5 -.1v-45l.5 -4.5v44.5l.5 19.7v-90.9l.5 8.7v73l.5 -17.4v-23.6l.5 -12.3v53.6l.5 -8.2v-45.9l.5 -26.3v98.9l.5 12.7v-107.7l.5 -.9v107l.5 -29.9v-68l.5 -45.2v202.2l.5 -99.4v-37.8l.5 -13.4v79.3l.5 -30.5v-32.1l.5 -28.7v85.8l.5 -20.6v-36.7l.5 -7.3v48.7l.5 -12.7v-22l.5 -27v71.8l.5 -16.3v-36.9l.5 2.4v32.5l.5 6.1v-41.7l.5 -227.1v464l.5 -203.1v-28.8l.5 -11.4v45.6l.5 27.4v-85l.5 22.3v30.2l.5 -3.1v-25.8l.5 -.5v28.6l.5 .4v-33.7l.5 -25.7v80.8l.5 -19.6v-28.7l.5 -6.8v31.1l.5 1.8v-33.1l.5 -31.8v98l.5 -31.4v-28.7l.5 -3.5v28.5l.5 2.3v-25.6l.5 -1.5v23.8l.5 11.7v-54l.5 6.4v45.6l.5 -2.6v-42l.5 9.4v35.3l.5 3.9v-45.2l.5 -32.2v98.5l.5 -11.2v-66.5l.5 -47.2v150.1l.5 -35.2v-60.1l.5 3v44.6l.5 2.6v-50.4l.5 -15.2v88l.5 -26.7v-39.6l.5 -2.3v35.8l.5 28.3v-90.7l.5 8.7v86.2l.5 -6.6v-70.6l.5 -1.6v54.3l.5 34.3v-107.7l.5 -27.9v166.5l.5 -40.3v-90l.5 12.1v58.7l.5 -8.7v-45.9l.5 -2v55l.5 24.8v-91.8l.5 16v42.9l.5 -2.5v-30.9l.5 -1.4v27.8l.5 15.9v-56.8l.5 .9v55.7l.5 -14.2v-28.8l.5 -55.3v140.7l.5 -57.5v-29.2l.5 -1.9v33.1l.5 0v-28.3l.5 2.9v24l.5 10.8v-45.2l.5 2.1v32.9l.5 -3.9v-19.5l.5 .9v17.1l.5 -1.6v-16.8l.5 1.6v16.3l.5 .9v-20.4l.5 4.1v12.7l.5 8.4v-31.1l.5 1.5v30.5l.5 -7.8v-15.7l.5 .4v16.4l.5 5.6v-28.9l.5 7.2v12.3l.5 1.9v-14l.5 -8.1v32.7l.5 -3v-30.8l.5 11.2v10.3l.5 1.1v-11.8l.5 -1.3v16.6l.5 12.9v-55l.5 28.2v8l.5 10.2v-25.8l.5 8.6v8.4l.5 3.4v-17.7l.5 -.1v19l.5 -5.8v-8.1l.5 -4.4v18.3l.5 -2.3v-18.4l.5 -0v26.4l.5 -8v-14.3l.5 -5.3v22.6l.5 -4.4v-13.9l.5 -2.2v19.2l.5 13.4v-50.7l.5 22.8v12.1l.5 3.1v-16.7l.5 .3v15.1l.5 -1.2v-13.7l.5 -.7v16.5l.5 11.3v-41.5l.5 6v28.5l.5 -3.6v-16.7l.5 -13.5v39.4l.5 -1.5v-37.3l.5 8.7v22.2l.5 -0v-18.8l.5 .7v13.8l.5 7.7v-28.3l.5 7v14.1l.5 .6v-15l.5 3.1v8.6l.5 -2.2v-5.2l.5 -.1v4.5l.5 .7v-5.1l.5 -.4v6.3l.5 2.6v-11.1l.5 1.1v8.3l.5 -2.1v-3.4l.5 -.9v4.3l.5 16.4v-40.4l.5 19.3v6.4l.5 .8v-8.9l.5 2.2v4.6l.5 .6v-5.2l.5 -7.2v18.7l.5 -5.1v-7.4l.5 -1.2v9.3l.5 .6v-9.6l.5 -.7v9.6l.5 -2.1v-5.7l.5 -6.5v18.6l.5 -3.6v-11.1l.5 1.6v6.9l.5 14.6v-35l.5 11.9v10.9l.5 -2v-6l.5 -.3v6.7l.5 6v-17.6l.5 3.5v10.6l.5 -3.6v-5.8l.5 -4.8v18.1l.5 -3.3v-15l.5 -12.2v39l.5 -14.6v-7.5l.5 0v7.1l.5 0v-6.7l.5 1.5v4.1l.5 1.7v-7.4l.5 2.1v2.7l.5 17v-33l.5 10v8.8l.5 -2.5v-3.3l.5 -2.2v9.1l.5 0v-9.2l.5 1.7v4.6l.5 4v-13.1l.5 4.3v5.8l.5 1.1v-9.3l.5 -3.8v18.1l.5 -4.8v-9.9l.5 -2v13.1l.5 4v-18.9l.5 2.6v11.9l.5 31.1v-82.6l.5 28.5v33.8l.5 1.3v-35.6l.5 -.8v39.3l.5 -9.4v-21.2l.5 -14.1v45.1l.5 -11.6v-19.6l.5 -6.9v31.4l.5 93.3v-224.7l.5 108v19.9l.5 -1.6v-20l.5 -6.9v33.3l.5 -2v-27.5l.5 7.7v12l.5 5.3v-23.8l.5 4.7v19.8l.5 -5.9v-11.6l.5 -1.6v16.7l.5 -3.6v-11.2l.5 -10v28.5l.5 -3.8v-21.8l.5 -4.3v32.3l.5 -4.7v-22.1l.5 -43.3v108.5l.5 -36.8v-33.5l.5 -11.1v59.4l.5 6.1v-61.9l.5 5.3v38.3l.5 -3.3v-30.1l.5 -56.9v130.8l.5 -41v-35.5l.5 1.2v26.8l.5 2.4v-28l.5 -3.1v32.9l.5 .6v-40.2l.5 4.9v37.8l.5 -4.9v-24.4l.5 .6v22.1l.5 1.2v-26.1l.5 -4.1v32.1l.5 8.5v-45.8l.5 -.9v47.9l.5 -3.5v-41.6l.5 7.5v30.8l.5 -8.8v-19.4l.5 3.6v11.4l.5 46.3v-93.8l.5 39.4v5.7l.5 -1.4v-4.2l.5 .8v2.8l.5 1.9v-6.2l.5 2.1v1.8l.5 .2v-2.5l.5 -3.9v9.7l.5 .1v-9.1l.5 .9v6.8l.5 -.8v-4.3l.5 -2.7v9.6l.5 3.6v-18.2l.5 1.2v17l.5 -2.7v-14.4l.5 -1.3v20.3l.5 -5v-11.5l.5 -102.1v239.2l.5 -127.6v-7.5l.5 -4.4v15.4l.5 -3v-7.8l.5 .9v6.4l.5 -.8v-4.7l.5 -.8v5.8l.5 1v-8.2l.5 -1.9v11.2l.5 -.9v-9.3l.5 -2.6v17.4l.5 -3.7v-11l.5 2.1v6.5l.5 1.2v-8.6l.5 -3.9v16.6l.5 -5.9v-6l.5 -.4v6.9l.5 80.2v-147.5l.5 59.7v9.8l.5 -3.2v-4.6l.5 0v4.1l.5 .8v-5.3l.5 -1.3v6.3l.5 5.4v-16.8l.5 3.6v10.3l.5 -0v-9.7l.5 -4.3v18l.5 1.6v-21.4l.5 2v19l.5 -5.8v-9.7l.5 -4.2v20.5l.5 -2v-17.5l.5 -2.2v19.9l.5 -4.5v-10.7l.5 1.4v9.7l.5 2.9v-15.7l.5 -.5v16.7l.5 -2.8v-13.5l.5 3.3v7.5l.5 4.9v-13.9l.5 -.3v11.3l.5 -.6v-8.4l.5 .2v7.2l.5 1.7v-8.7l.5 -2.3v10.8l.5 -2.6v-4.9l.5 -.3v5.5l.5 1.1v-6.9l.5 -0v6.8l.5 2.4v-11.6l.5 2.5v5.4l.5 1.5v-8.8l.5 2.1v5.1l.5 4v-14.4l.5 1.9v11.1l.5 -2v-5.6l.5 -3.6v11.7l.5 .4v-13.4l.5 4v7.2l.5 -.5v-5.8l.5 -3.6v11.5l.5 -3v-4.1l.5 -.5v4.3l.5 -0v-3.9l.5 -2.4v9.9l.5 -1.3v-10.5l.5 -17.8v40.4l.5 -14.5v-3.9l.5 -2.1v7.3l.5 -1.1v-4.8l.5 -1v7.1l.5 .1v-7.3l.5 1.8v3.7l.5 1.4v-7l.5 1.9v3.7l.5 .4v-4l.5 -.6v4.6l.5 3.7v-11.9l.5 3.3v5.1l.5 -.6v-3.9l.5 .5v4.2l.5 .1v-4.3l.5 .2v3.2l.5 -.1v-2.9l.5 -5.1v11.7l.5 -1.6v-6.7l.5 1.1v4.5l.5 -.3v-5.2l.5 -9.7v25l.5 -9.9v-4.4l.5 -1.4v6.3l.5 3.8v-13.7l.5 4.3v5.4l.5 0v-5.4l.5 -.5v5.8l.5 .8v-5.9l.5 -2.4v8.8l.5 .2v-10l.5 3.9v4.1l.5 1.9v-7.7l.5 -.8v11.1l.5 -1.4v-10.5l.5 .1v10.3l.5 -2.6v-4.7l.5 -2.5v9.3l.5 12.7v-33l.5 13.6v4.2l.5 1v-6.1l.5 -.1v5.9l.5 1.4v-9l.5 2.7v4.7l.5 1.7v-8.8l.5 1.3v5l.5 .2v-4l.5 -1v5.7l.5 4v-12.5l.5 -.1v10.7l.5 -2.5v-4.8l.5 -.8v5.6l.5 2v-10.6l.5 3.1v5.6l.5 14.4v-33l.5 12.8v7l.5 2.4v-10.5l.5 1.5v5l.5 -.2v-3.5l.5 -1.2v6.1l.5 -.8v-5.1l.5 -.2v4.8l.5 -.3v-4.2l.5 -2.1v9.9l.5 -3.5v-3.7l.5 -1.1v6.1l.5 -1v-5.8l.5 -.7v8.4l.5 -1.9v-4.3l.5 -.3v4.3l.5 .2v-4.3l.5 -.4v4.8l.5 14.7v-27.7l.5 8.3v4.3l.5 2.7v-8.5l.5 2.2v4l.5 0v-5l.5 .4v4.9l.5 -.4v-4.3l.5 -.7v5l.5 -.6v-3.3l.5 -1v5.1l.5 -.7v-3.4l.5 -1.7v5.9l.5 4.4v-14l.5 3.4v6.7l.5 1.6v-9.4l.5 1.3v5.9l.5 -1v-3l.5 -.5v3.6l.5 3.6v-10.8l.5 4.4v2.8l.5 3.7v-10.8l.5 2.9v5.8l.5 1.4v-10.2l.5 1.8v7.6l.5 -.3v-5.8l.5 .4v4.3l.5 2.9v-10l.5 2.2v4.6l.5 1.3v-7.5l.5 .5v7.4l.5 2.4v-11.3l.5 3.4v3.7l.5 -.3v-3.4l.5 -.5v4.7l.5 3.6v-11.5l.5 .1v11.6l.5 -4.8v-3.6l.5 -.3v4.1l.5 2.9v-9.5l.5 .3v8.1l.5 -.9v-5.7l.5 .6v6.1l.5 -.4v-6.5l.5 -1.7v10l.5 -3.2v-3.7l.5 -2.9v8.8l.5 -2.3v-3.4l.5 -2.4v8.4l.5 -2.5v-3.4l.5 -1.3v6l.5 -.8v-3.8l.5 -.2v4.2l.5 12.9v-33l.5 16.1v3.5l.5 .3v-4.3l.5 .3v3.8l.5 2.2v-10.8l.5 3.4v7.1l.5 -2v-4.7l.5 -.5v8.3l.5 0v-11.4l.5 2.3v7.1l.5 -.2v-6.3l.5 -4.2v18.7l.5 -8.2v-6l.5 -6.1v15.2l.5 -2.1v-7.8l.5 .5v8.3l.5 -.7v-8.2l.5 -.2v10.2l.5 -2.1v-8.1l.5 -14.4v36l.5 -12.4v-11l.5 3.6v4.4l.5 2.7v-7.9l.5 -.6v8.5l.5 -2.3v-5l.5 -.3v4.9l.5 13.2v-30l.5 12.1v4.7l.5 1.1v-8l.5 2.9v3.9l.5 .9v-5.7l.5 .3v4.3l.5 3.1v-9.9l.5 1v7.8l.5 -1.7v-4.9l.5 .5v5.4l.5 .6v-6.9l.5 .3v6.1l.5 2v-9.8l.5 1.2v6.7l.5 -1.6v-3.6l.5 -.7v5.3l.5 1.6v-8.6l.5 -4v14.1l.5 -.2v-9.7l.5 -1.4v9.4l.5 .6v-10l.5 1.5v8.2l.5 -.8v-8.1l.5 -1.7v13l.5 -3.4v-7.2l.5 -2.9v12.9l.5 .3v-10.6l.5 .5v7.1l.5 -1.1v-4.8l.5 -4.5v12.9l.5 -2.2v-6.5l.5 -5.3v15.2l.5 -2.7v-7.9l.5 .7v5.8l.5 4.4v-16.2l.5 3.1v13.7l.5 -3.9v-7.7l.5 -1.1v10.5l.5 4.2v-18.4l.5 1.1v15.8l.5 -3.7v-8.2l.5 -8v23l.5 -4.2v-13l.5 3.7v4.5l.5 5.6v-13.5l.5 -20v52l.5 1v-54l.5 24.2v5.2l.5 -.9v-3.9l.5 .2v3.7l.5 .2v-3.9l.5 -1.2v5.9l.5 -.7v-5.5l.5 .2v5.1l.5 5.8v-18.8l.5 7.2v7.5l.5 1.6v-11.2l.5 -3.6v20.3l.5 -6.7v-7.5l.5 -2.8v10.2l.5 13v-39l.5 13.6v14l.5 -1.6v-8.4l.5 -1.4v10.2l.5 -1.4v-7l.5 .6v6.8l.5 -.2v-6.8l.5 -16.3v36.7l.5 -9.4v-16.2l.5 -1.3v19.4l.5 -6.2v-6.2l.5 -2.2v9.4l.5 -.5v-6.9l.5 .2v5.3l.5 5v-13.2l.5 -1.2v11.6l.5 -2.1v-5.3l.5 -2.6v9.9l.5 2.7v-13.3l.5 2.6v6.5l.5 .6v-7.4l.5 -8.6v21l.5 1.6v-17.7l.5 -4.6v24.5l.5 .3v-26.4l.5 7.9v9.3l.5 3v-14.5l.5 .7v16.3l.5 -7.7v-3.5" stroke="#008000" stroke-width="2.20" fill="none" stroke-linejoin="miter" stroke-miterlimit="1"/>
<path d="M138 325L1012 325" stroke="#000000" stroke-width="4.29" fill="none"/>
<path d="M138 322.5L1012 322.5" stroke="#000000" stroke-width="0.88" stroke-dasharray="1.5 3.0 0.5 1.5 1.0 2.0 2.0 2.0 1.5 2.0 1.0 1.5 3.0 1.0 1.0 0.5 1.5 1.5 0.5 3.0 1.0 2.0 1.5 1.0" stroke-dashoffset="0" fill="none" opacity="0.55"/>
<path d="M138 327.5L1012 327.5" stroke="#000000" stroke-width="0.88" stroke-dasharray="0.5 1.0 3.0 1.5 1.5 0.5 1.0 3.0 1.0 3.0 0.5 1.5 1.5 0.5 1.5 3.0 2.0 1.0 1.0 1.5 2.0 3.0 0.5 0.5" stroke-dashoffset="2" fill="none" opacity="0.55"/>
<path d="M138 324.5V325.6l.5 -1.4v1.6l.5 18.3v-41.2l.5 21.3v1.6l.5 .1v-1.3l.5 -.1v1.4M144 324.4V325.6l.5 -1.5v1.8l.5 -.4v-1.1l.5 -.3v1.8l.5 .2v-1.9l.5 -2.3v6.5l.5 -2.1v-2.5l.5 -.4v3.5l.5 -1v-1.6l.5 .3v1.3l.5 -.1v-1.2l.5 -.1v1.5l.5 12v-32.1l.5 18.7v1.1l.5 .5v-1.7l.5 -0v1.3M173 324.1V325.8l.5 -1.7v1.9l.5 .1v-2l.5 -16.4v43l.5 -25v-1.4l.5 .1v1.5l.5 2.1v-6l.5 2.3v1.9l.5 .2v-2.4l.5 -.3v2.7l.5 1.7v-6.4l.5 2.1v3l.5 -.2v-3.2l.5 -2.9v9l.5 -2.9v-3.5l.5 .6v2.4l.5 2.4v-7.8l.5 -.3v10.1l.5 -4.1v-3.6l.5 .6v3.8l.5 3.4v-9.7l.5 .2v8.1l.5 -1v-6.9l.5 .8v5.5l.5 -1.5v-2.6l.5 -1.5v6l.5 .7v-7.6l.5 -1.1v9l.5 -2.8v-3.3l.5 .8v2.3l.5 1.1v-4.9l.5 -0v4.7l.5 .9v-6.6l.5 1.7v4.5l.5 -.8v-4.5l.5 1.9v1.8l.5 -.1v-1.4l.5 -.1v1.5l.5 -.1v-1.1M193 324.1V325.9l.5 -1.3v1l.5 .2v-1.3l.5 -.2v1.7l.5 -.4v-1.3l.5 -1.3v4.1l.5 -.3v-4.3l.5 1.1v2.1l.5 1.3v-4.1l.5 -.7v4.9l.5 -1.3v-2.1l.5 -.9v3.9l.5 .9v-4.6l.5 .3v2.9l.5 2.6v-8.1l.5 .2v6.4l.5 .7v-5.7l.5 -.2v6l.5 -1.3v-3.8l.5 .3v3.4l.5 -1v-1.9l.5 -.9v4l.5 .7v-6l.5 2.5v1.5l.5 .4v-2.1l.5 0v1.6l.5 2.1v-5.8l.5 1.9v2l.5 .3v-2.9l.5 -.9v4.8l.5 7.6v-20.2l.5 8.5v3.3l.5 .6v-3.9l.5 .6v2.5l.5 -.2v-2.2l.5 -1v5.3l.5 -1.9v-2.4l.5 .5v1.4l.5 .5v-2.4l.5 .3v1.5l.5 0v-1.4l.5 .1v1.1l.5 .3v-1.6l.5 .1v1.7l.5 -.2v-1.3l.5 -.8v2.6l.5 -.1v-2.2l.5 -.1v2.2l.5 .1v-2.4l.5 -1.9v7.1l.5 -2.2v-3.8l.5 .4v3.6l.5 .3v-4.1l.5 .8v2.1l.5 .7v-3.3l.5 -.8v4.9l.5 -.7v-4.2l.5 .1v4.8l.5 1.1v-7.8l.5 1.9v4.5l.5 -.9v-2.9l.5 -.3v4.1l.5 -1.2v-2.7l.5 .2v2.9l.5 -.1v-2.3l.5 -1.9v5.8l.5 -.9v-3.6l.5 -.6v4.2l.5 1v-7l.5 2.4v3.2l.5 -.2v-3l.5 -10.4v22l.5 -8.3v-3.8l.5 1.2v1.8l.5 -.3v-1.5l.5 .2v1.3l.5 1.7v-4.2l.5 .9v2l.5 0v-2.2l.5 -.4v2.6l.5 0v-2l.5 .1v1.6l.5 .6v-3l.5 .2v3.2l.5 .9v-4.9l.5 .7v3l.5 -.3v-2.3l.5 -.5v2.6l.5 1.3v-4.5l.5 .2v4.5l.5 -1.5v-2l.5 -.8v4.1l.5 -.5v-3.8l.5 .7v2.4l.5 0v-2.3l.5 -.4v2.9l.5 .2v-2.6l.5 .4v1.7l.5 .3v-2.4l.5 .2v1.9l.5 .1v-2l.5 -.3v3.3l.5 .1v-3.4l.5 -.1v3.6l.5 -1v-2l.5 .2v1.5l.5 .3v-2.1l.5 -1v3.6l.5 .4v-3.8l.5 -.3v4.5l.5 -0v-3.9l.5 .4v1.9l.5 .4v-2.1l.5 -.1v1.7l.5 .8v-3.2l.5 .1v3.2l.5 .4v-3.4l.5 -.1v3l.5 .1v-3l.5 -.3v3l.5 -.2v-2.6l.5 .6v2l.5 -.3v-2l.5 .2v2l.5 .5v-2.9l.5 -.3v4.2l.5 -1.5v-2.1l.5 .2v2.2l.5 -.5v-2l.5 -0v2.3l.5 .8v-3.5l.5 .7v2.2l.5 -.2v-2.2l.5 -0v2l.5 -.1v-2l.5 .1v2l.5 .2v-2.2l.5 -1.8v4.6l.5 -1v-2l.5 -0v2.8l.5 .1v-3.2l.5 -.1v3.3l.5 .7v-5.3l.5 1.9v2.1l.5 .6v-3.4l.5 .3v2.9l.5 -.2v-2l.5 -1.3v4.4l.5 -.8v-2.8l.5 -.1v3l.5 -.4v-2.1l.5 -.7v3.8l.5 -1v-2.1l.5 -.5v3.5l.5 -.4v-2.9l.5 -1.3v5.3l.5 -1.6v-2.3l.5 -.6v3.5l.5 1v-5.3l.5 1.1v3l.5 -.6v-1.9l.5 -.7v3.1l.5 .1v-3l.5 -1v4.1l.5 -.8v-2l.5 0v2l.5 1.4v-3.8l.5 .4v2.4l.5 .2v-2.9l.5 -.4v3.8l.5 -.3v-3.2l.5 .1v2.6l.5 .5v-3.7l.5 .6v2.6l.5 -.1v-2.4l.5 -.6v4l.5 -.3v-3.9l.5 1.1v2.1l.5 -.3v-2.1l.5 -.6v3.6l.5 -.1v-3.5l.5 .5v2.8l.5 -.3v-2.2l.5 .2v1.6l.5 .6v-2.6l.5 -.5v3.4l.5 -.6v-1.8l.5 -.7v3.1l.5 .8v-4l.5 .4v2.6l.5 -.2v-2.3l.5 -.1v2.5l.5 1v-3.7l.5 .4v1.9l.5 .1v-1.6l.5 -0v1.6l.5 3.9v-9.7l.5 -4.5v17.3l.5 3.2v-22l.5 4.1v17l.5 -7.4v-5.6l.5 -4.8v16.9l.5 2.1v-21l.5 -.8v21.1l.5 3.5v-28l.5 7.6v11.9l.5 -2.9v-5.5l.5 -4.1v13.1l.5 -1.6v-8.3l.5 -11v24.1l.5 -7v-5.6l.5 -2.6v11.7l.5 -2.8v-5.5l.5 -7.5v20l.5 -7.1v-5.7l.5 -0v4.6l.5 1.1v-6.5l.5 -.2v6.2l.5 2.2v-8.2l.5 .1v7l.5 1.1v-9.9l.5 3.6v3.5l.5 5.6v-13.1l.5 2.9v4.8l.5 1.5v-7.2l.5 -2.9v12.3l.5 -1.2v-9.6l.5 -4.5v16.9l.5 11.8v-41l.5 17.9v8.9l.5 1.7v-13.7l.5 5v4.6l.5 -.5v-3.5l.5 -.8v4.9l.5 15.5v-39l.5 14.5v11.7l.5 -2.5v-5.8l.5 -2.6v9.8l.5 .4v-10.4l.5 4.3v4l.5 8.7v-18.3l.5 -2.7v18.8l.5 -3.5v-12.4l.5 3.7v7.8l.5 -.7v-7.7l.5 1v6.8l.5 3.8v-15.2l.5 1.5v11.2l.5 8.7v-27l.5 2.6v23.5l.5 7v-36.5l.5 2.6v28.9l.5 -13.1v-3.8l.5 -2.7v9.5l.5 1.6v-11.1l.5 -2.8v17.3l.5 -6.2v-7.6l.5 -10.1v28l.5 1.6v-29.5l.5 6.6v14.1l.5 -5v-3.1l.5 -8.7v18.1l.5 -5v-5.7l.5 -.7v7.1l.5 -2.3v-2.8l.5 -7.7v22.5l.5 -12v-3.1l.5 -11.5v29.3l.5 -4.4v-24l.5 8.1v7.2l.5 -1.5v-4.1l.5 -3.3v12.7l.5 -5.4v-3.6l.5 -11.8v30.4l.5 -12.1v-10l.5 .2v10.3l.5 .5v-14.7l.5 4.7v9.3l.5 7v-23.1l.5 3.9v14.2l.5 9v-34.4l.5 5.9v22.6l.5 -2.9v-15l.5 1.2v13.5l.5 -4v-4.9l.5 -12.4v26.8l.5 -9.7v-4.7l.5 -8v21.2l.5 -4.7v-13.4l.5 1v13.7l.5 -3v-10.8l.5 1.7v9l.5 4.7v-16l.5 5.1v3.3l.5 -.4v-3l.5 -2.9v8.4l.5 .1v-8.2l.5 -5.3v17.9l.5 -6.5v-4.3l.5 -1.2v8.1l.5 8.5v-21.2l.5 .4v16.6l.5 -7v-3.2l.5 -4.1v12.7l.5 -5.4v-3.7l.5 -10v24l.5 -7.7v-9.1l.5 -2.9v18.4l.5 -9.4v-2.6l.5 -6.1v15.8l.5 12.6v-38.4l.5 11.4v14.2l.5 2.2v-19.5l.5 7v3.9l.5 3.3v-10l.5 -6.4v22.3l.5 -2.1v-17.3l.5 .9v14.9l.5 2v-18.8l.5 7.7v3.1l.5 5.6v-16.6l.5 8.3v2.3l.5 .9v-3.8l.5 -3v10.5l.5 8.3v-28l.5 11.9v4.6l.5 .9v-7l.5 1v5.5l.5 1.5v-10.5l.5 2.4v9.3l.5 -2.8v-5.4l.5 -4.6v15.5l.5 2.2v-19.4l.5 -1.4v22.6l.5 -2.4v-17.5l.5 1v12.8l.5 1.8v-15.6l.5 -.5v18.4l.5 -4.7v-13.8l.5 -1.8v24.1l.5 -1.8v-29.2l.5 8.4v15.8l.5 -0v-16.7l.5 -3.6v23.3l.5 -4.9v-10.5l.5 1.2v7.2l.5 .7v-9.7l.5 1.8v7.7l.5 .4v-7.7l.5 -3.9v13.2l.5 -1.7v-7.3l.5 -2v10l.5 7.4v-24.2l.5 -2.9v28l.5 -.6v-25.9l.5 7v14.1l.5 6.3v-34.1l.5 -6v46l.5 -4.4v-31.7l.5 2.5v25.8l.5 -2.4v-17.6l.5 -9.3v37.4l.5 -10.2v-22.7l.5 .1v24l.5 -4.9v-12.8l.5 -7.1v34.7l.5 -14.8v-14.2l.5 -7.5v29.1l.5 6.8v-40.8l.5 13v14l.5 .1v-15.4l.5 3.4v10.5l.5 -.2v-11.8l.5 -2.4v19.3l.5 3.6v-31.5l.5 9.8v13.8l.5 -0v-14.8l.5 -4.6v22l.5 3.6v-25.2l.5 8.4v10.3l.5 2.2v-17.2l.5 5v8.1l.5 -1.4v-5.7l.5 -5.2v15.2l.5 -1.5v-10.7l.5 2.8v5.5l.5 -.9v-5.2l.5 .5v5.4l.5 .2v-5.7l.5 -2.2v9.3l.5 .9v-11.3l.5 .2v10.3l.5 -.8v-8.8l.5 0v10.5l.5 -1v-9.3l.5 .4v8.4l.5 .7v-9.3l.5 .8v7.2l.5 -.2v-5.7l.5 .5v4l.5 .5v-4.8l.5 -1.7v8.3l.5 -.4v-7.9l.5 .7v6.6l.5 2.1v-11.2l.5 3.9v4.8l.5 .7v-7l.5 1.3v4.9l.5 .2v-5.4l.5 -3.5v11.1l.5 -2.9v-4.7l.5 -2.1v9.7l.5 -2.4v-5.3l.5 .1v4.7l.5 1.5v-6.8l.5 -2.7v11.4l.5 -3.1v-4.6l.5 -1.8v8.5l.5 -.8v-7.4l.5 -5.1v14l.5 -1v-9l.5 1.7v7l.5 3.9v-15.2l.5 -1.1v14.5l.5 3.4v-16l.5 -3.4v18.9l.5 -5.6v-6.9l.5 .5v6.4l.5 .1v-7.4l.5 -.9v10.6l.5 -2.7v-5.9l.5 -2.1v8.2l.5 .4v-6.5l.5 -1.1v7.6l.5 1.7v-9.7l.5 .2v8.6l.5 1.4v-13.2l.5 .9v12.7l.5 -1.1v-9.4l.5 .4v7.9l.5 5.7v-19.1l.5 1.5v16.4l.5 -2.7v-13.7l.5 1.2v13.1l.5 3.8v-18.6l.5 5.1v6.3l.5 3.9v-12.4l.5 -4.4v19.7l.5 -.9v-16.5l.5 2.6v9.7l.5 1.8v-12.2l.5 .4v10.6l.5 2.3v-15l.5 .6v12.1l.5 -.1v-11.1l.5 2.2v7.4l.5 4.2v-14.8l.5 1v9.2l.5 1.1v-8.9l.5 1.9v5.9l.5 .4v-8.5l.5 1.1v5.7l.5 .1v-4.8l.5 -2.2v9.6l.5 -2.2v-5.3l.5 -4.1v11.1l.5 -1v-8.1l.5 -2.4v13.3l.5 .6v-15.2l.5 4.9v6.8l.5 -1.1v-5.6l.5 -.9v9.5l.5 -1.1v-9.5l.5 2.6v5.4l.5 2.9v-10.5l.5 2v6l.5 1.7v-12.2l.5 3.3v7.8l.5 .1v-7l.5 .9v4.9l.5 -.2v-5.1l.5 -1.8v9l.5 1.2v-11.4l.5 1.7v7.6l.5 -1.2v-5.2l.5 -3.6v10.8l.5 -1.5v-6l.5 .3v5l.5 1.4v-8.4l.5 2.7v4.3l.5 3.7v-11.4l.5 -1.6v12.5l.5 -1.6v-9.4l.5 1v8.8l.5 1.3v-12.1l.5 1v11.6l.5 -2.2v-9.3l.5 2.4v6.5l.5 -1v-5.2l.5 -2.4v10.5l.5 -.3v-9l.5 .9v5.8l.5 .7v-5.5l.5 -.2v4.7l.5 1.3v-8.5l.5 1.5v7.4l.5 -1.9v-4.6l.5 -2.1v8.5l.5 -1.1v-6.3l.5 -2.8v11.7l.5 -.2v-9.5l.5 2.1v4.1l.5 2.8v-8.1l.5 .7v5.3l.5 -.4v-3.7l.5 -3.5v9.1l.5 -.4v-7.7l.5 -1.1v10.4l.5 .4v-12.4l.5 2.8v7.6l.5 .3v-9.2l.5 -6.4v21.2l.5 1.2v-18.9l.5 .3v13.6l.5 16.5v-50.4l.5 22.6v9.8l.5 3.4v-14.3l.5 -4v20.1l.5 -3.2v-10.5l.5 -6.1v17.8l.5 -1.1v-13.4l.5 .4v15.5l.5 6.2v-30l.5 7.2v13.7l.5 -1.1v-11l.5 3v8l.5 -2.9v-4.6l.5 -.4v6.7l.5 1.4v-10l.5 3v3.9l.5 5v-13.5l.5 1.4v9l.5 1.9v-10.6l.5 .3v9.9l.5 -2v-7.7l.5 -.3v9.7l.5 -1.1v-8.2l.5 .3v8.8l.5 -1v-7.6l.5 .9v5.4l.5 -.1v-5.2l.5 -1.1v7.1l.5 -.7v-5.4l.5 -1.5v7.7l.5 -1.1v-5.3l.5 -2.2v10l.5 -1.5v-6.4l.5 .9v4.4l.5 3.6v-10.5l.5 3v3.8l.5 3.5v-13l.5 -2v16l.5 -.9v-13.6l.5 -2.7v21.3l.5 -1.5v-16.7l.5 .4v14.7l.5 2.7v-19.2l.5 2.1v15.5l.5 .2v-15.7l.5 -2.8v21.3l.5 -8.4v-8l.5 -3.4v16.3l.5 -3.8v-8.7l.5 1.4v6.1l.5 -1.2v-4l.5 -2.2v8.4l.5 -1.7v-4.3l.5 -1.5v6.4l.5 .5v-8.1l.5 2.5v4.1l.5 .7v-5.6l.5 -.4v7.5l.5 -1.8v-4.9l.5 .3v4.7l.5 1.6v-7.7l.5 .4v6.2l.5 -0v-6.2l.5 -1.1v9.2l.5 .9v-11.9l.5 1.2v10l.5 2.4v-15.5l.5 3.9v6.5l.5 5v-14.9l.5 4.9v4.8l.5 1.8v-8.8l.5 2.2v4.9l.5 -.8v-3.7l.5 -.8v5.8l.5 1.8v-10.7l.5 -1.3v14.5l.5 -.1v-12.5l.5 -2.1v15.1l.5 .7v-19.4l.5 5.8v9.6l.5 3.7v-16.1l.5 .4v12.3l.5 14.2v-45.6l.5 17.7v17.3l.5 -1.5v-16.1l.5 1.3v13.9l.5 14.9v-40l.5 13.5v13.9l.5 8.5v-29.9l.5 6.6v12.5l.5 13v-39l.5 12.4v15.1l.5 4.4v-21.9l.5 4.7v11.5l.5 .1v-13.9l.5 -1.5v18l.5 -4.9v-9.3l.5 1.1v10.6l.5 .2v-12.2l.5 -3.5v17.2l.5 -2.3v-11.6l.5 -3.5v18.4l.5 -5.1v-9.7l.5 1.2v7.6l.5 .3v-8.1l.5 .6v7.4l.5 -.9v-5.9l.5 .6v5.4l.5 .4v-6.4l.5 -3.4v13.2l.5 .3v-13.3l.5 1v10.1l.5 3.1v-15.4l.5 1.8v14.5l.5 -3.6v-8.6l.5 -4.7v16.8l.5 -.1v-16.6l.5 .3v16.1l.5 -.8v-12.2l.5 -5.2v18.7l.5 -3.3v-11.5l.5 -1.6v17.4l.5 13.4v-46l.5 17.8v9.6l.5 2v-11l.5 -1.3v11l.5 .4v-10.5l.5 -6.4v23.6l.5 -4.3v-19.4l.5 5.8v10.6l.5 3.1v-14.6l.5 1.4v12.2l.5 -3.3v-8.8l.5 3.6v3.7l.5 -1.1v-2.8l.5 -.3v5.2l.5 -.7v-4.7l.5 .9v2.8l.5 -.4v-2.5l.5 .2v2.4l.5 2.1v-6.6l.5 2.1v2.7l.5 2.1v-7.8l.5 3.1v2.7l.5 -.1v-3.5l.5 -.6v5.7l.5 -1.4v-3.3l.5 .2v3.1l.5 1v-4.7l.5 0v3.7l.5 .5v-3.8l.5 -1.2v5.5l.5 -1.2v-2.6l.5 -.1v2.5l.5 1.7v-5.4l.5 .4v3.8l.5 2.4v-7.2l.5 .9v5.1l.5 -1.2v-3.5l.5 .2v2.9l.5 1.6v-5.5l.5 -0v4.7l.5 1v-6l.5 .8v3.9l.5 -.6v-2.4l.5 -3.7v9.7l.5 1.1v-11.1l.5 -8.8v23.9l.5 5.8v-28.5l.5 1.2v25.1l.5 -1.1v-24.5l.5 -2.5v26.1l.5 1.2v-25.5l.5 2.9v23.1l.5 -.6v-23.6l.5 2.4v18.7l.5 -.1v-19.1l.5 -13.8v38.3l.5 -3.1v-28.6l.5 5v20.5l.5 -2.8v-13.4l.5 3.1v8.9l.5 -.5v-9.3l.5 .3v10.9l.5 15.7v-44l.5 18.3v6.2l.5 2.3v-10.3l.5 3.1v5.4l.5 1.7v-10.3l.5 2.5v6.5l.5 1.8v-11.9l.5 .4v10.2l.5 1.5v-11.1l.5 -1v16.5l.5 8.1v-36l.5 10.1v15l.5 -1.6v-11.6l.5 -6.1v24.4l.5 -.2v-23.9l.5 2.3v18.3l.5 .4v-20l.5 -12.9v44.2l.5 -6.5v-27.1l.5 1.7v21.4l.5 .5v-22.6l.5 6.5v13.8l.5 -.1v-18l.5 5.3v9.5l.5 -3.4v-1.9l.5 0v1.8l.5 -.3v-1.2l.5 -.2v1.4M651 324.3V325.8l.5 -1.4v1.2l.5 .4v-1.9l.5 .1v1.6l.5 .8v-2.8l.5 .5v1.7l.5 2v-5.7l.5 1.4v2.6l.5 .5v-3.7l.5 -.2v4.2l.5 .7v-4.9l.5 1.4v1.8l.5 .2v-2.5l.5 -1.5v4.8l.5 -1v-2.1l.5 -1.4v5l.5 -1v-2.6l.5 -1v5.2l.5 -2.3v-1.4l.5 -1.2v4.4l.5 -1.6v-2l.5 -.3v3l.5 -.9v-2l.5 .2v1.7l.5 .4v-2l.5 -.7v2.9l.5 -.1v-2.2l.5 .3v1.5l.5 .5v-2.3l.5 -1.6v4.8l.5 -1.3v-2.4l.5 .5v1.7l.5 .1v-1.8l.5 .1v1.9l.5 .7v-3.8l.5 -0v4.3l.5 -.5v-3.8l.5 1v2.5l.5 .3v-3.6l.5 .2v3.5l.5 -.7v-2.1l.5 -1.1v4.3l.5 -.8v-2.5l.5 .3v1.9l.5 .5v-2.8l.5 -2v5.6l.5 -1.4v-1.9l.5 -.6v2.8l.5 -.4v-1.7l.5 -2v4.9l.5 -.2v-3.4l.5 -1.2v5.5l.5 -1.6v-3.3l.5 .7v2.1l.5 .6v-2.9l.5 -.3v3.2l.5 -.3v-2.2l.5 -.8v4l.5 -.4v-3.2l.5 .5v1.8l.5 -.1v-1.6l.5 -.5v2.6l.5 -.2v-2.2l.5 -.5v3.3l.5 .8v-4.4l.5 -.3v4.2l.5 -1.2v-1.9l.5 -1v4.4l.5 .7v-6.1l.5 2v2.1l.5 .5v-3.2l.5 -.3v4l.5 .6v-5.8l.5 2v2.2l.5 -.3v-1.8l.5 -.1v2.2l.5 -0v-2l.5 0v1.7l.5 .5v-2.4l.5 -.7v3.6l.5 -.9v-1.9l.5 -.5v3.6l.5 .4v-4.5l.5 .7v3l.5 -.1v-2.9l.5 -1v5.2l.5 -1.6v-2.1l.5 -.1v2.5l.5 .1v-3l.5 -.9v5.6l.5 -.9v-4.1l.5 -1v4.9l.5 1.6v-7.3l.5 -1.5v10.2l.5 -2.4v-5.4l.5 1.1v3.1l.5 -.4v-2.1l.5 -.2v3.2l.5 -.4v-3.1l.5 -.1v3.4l.5 -.5v-2.3l.5 -.8v4.1l.5 -.8v-3.6l.5 .9v2.3l.5 .7v-4.9l.5 .2v5.9l.5 -1.9v-2.7l.5 -1.4v5.6l.5 -1v-3.4l.5 -.4v3.8l.5 -.4v-2.9l.5 -1.8v6.6l.5 -2v-2.8l.5 .7v1.8l.5 1.3v-3.9l.5 .6v2l.5 .1v-2.2l.5 .1v2.1l.5 .4v-3.3l.5 .7v2.1l.5 .7v-2.7l.5 -.8v3.8l.5 2v-6.4l.5 -1.4v7.8l.5 -2.5v-2.4l.5 -2.4v6.1l.5 -1.6v-2.2l.5 -.1v2.7l.5 .7v-3.9l.5 -.2v4.3l.5 -1.7v-1.6l.5 -.7v3.7l.5 .9v-5l.5 1.1v1.9l.5 .7v-3.6l.5 -.1v4.2l.5 -.1v-4.8l.5 -.4v6.4l.5 -2.3v-1.6l.5 -1.2v3.4l.5 -.1v-3l.5 -.1v3.5l.5 -1v-1.6l.5 -.1v2.3l.5 0v-2.3l.5 .1v1.8l.5 1.3v-4.4l.5 1.2v2.1l.5 .4v-3.4l.5 -.6v4.6l.5 -.5v-2.9l.5 -.9v4.8l.5 -1.6v-1.9l.5 -.8v3.3l.5 -.4v-3l.5 -.3v4.3l.5 -1v-2.8l.5 -.5v3.5l.5 1.6v-6.3l.5 .8v4.3l.5 .1v-3.5l.5 -0v2.9l.5 .4v-3.3l.5 -1.3v5.2l.5 -.6v-3.2l.5 .6v1.9l.5 .3v-2.5l.5 -.1v2.1l.5 .8v-4.2l.5 -.4v5.1l.5 -.9v-2.5l.5 -.6v4l.5 .7v-5l.5 .8v3.1l.5 -.2v-3.4l.5 .2v2.8l.5 -.4v-1.8l.5 .1v1.6l.5 1.7v-5.3l.5 2v1.7l.5 1.5v-4.7l.5 .4v3.8l.5 -.7v-2.5l.5 .4v1.8l.5 .4v-2.2l.5 -0v2.2l.5 1.1v-4.5l.5 1.4v1.7l.5 1.4v-4.7l.5 -.5v5.4l.5 -1.4v-1.8l.5 -.9v3.5l.5 -.8v-2.5l.5 -1.6v5.7l.5 -1.7v-2.1l.5 -.2v2.5l.5 .4v-2.8l.5 -.8v3.6l.5 -0v-2.9l.5 -.1v3.4l.5 .4v-4.8l.5 .3v3.7l.5 -0v-3.4l.5 -.4v5l.5 -1.6v-2.4l.5 .2v2.4l.5 -.3v-2.3l.5 -1v4.5l.5 -1.3v-1.9l.5 -0v1.7l.5 .4v-2.9l.5 -.8v4.3l.5 -1v-2l.5 .2v1.7l.5 1.3v-3.8l.5 -.8v4.7l.5 -.2v-4.1l.5 .7v3l.5 -.5v-2.1l.5 .1v2.1l.5 .9v-3.9l.5 .9v2.1l.5 -.1v-2l.5 -1v4.5l.5 -.9v-3l.5 .5v1.8l.5 .1v-2.1l.5 .1v2.1l.5 -.4v-1.3l.5 -1.6v5.1l.5 -1.9v-1.8l.5 .1v1.6l.5 .2v-1.8l.5 -.7v3.1l.5 .3v-4.6l.5 1.8v1.8l.5 .6v-3l.5 -1.6v5.2l.5 -.3v-3.4l.5 .7v2.2l.5 .8v-4.2l.5 1.4v1.7l.5 1.6v-4.4l.5 1.2v1.7l.5 .3v-2.6l.5 -0v3l.5 -.9v-1.7l.5 -1.7v4.7l.5 -.8v-2.4l.5 .1v1.8l.5 1.2v-4.1l.5 -.1v4.1l.5 -.3v-2.9l.5 -.6v4l.5 .5v-5.4l.5 .6v3.8l.5 -.7v-1.6l.5 -.1v1.8l.5 .9v-3.7l.5 1v2.1l.5 -.3v-1.7l.5 -.8v3.2l.5 -.9v-1.4l.5 -.4v2.2l.5 1.2v-3.9l.5 -0v3l.5 -.3v-2.6l.5 -1.3v5.2l.5 -.5v-4.5l.5 -.3v5.2l.5 -.4v-4.9l.5 1.7v1.9l.5 -.1v-1.9l.5 -.2v2.7l.5 .9v-5l.5 .6v4.5l.5 -.2v-4.7l.5 -1v7.3l.5 -.6v-6.7l.5 2.5v2.4l.5 .3v-3.4l.5 -.4v4.4l.5 .9v-5l.5 -.7v5l.5 0v-4.1l.5 -.1v3.3l.5 .6v-3.9l.5 1.1v1.6l.5 .1v-1.7l.5 -.8v3.3l.5 -.6v-2.1l.5 -1.1v4.2l.5 -1.4v-1.5l.5 -.1v1.7l.5 1v-4.6l.5 .9v3.7l.5 1.3v-5.9l.5 1.6v2.6l.5 -.3v-2.5l.5 -.2v3.3l.5 -.8v-2l.5 -1v4.1l.5 -1.1v-1.8l.5 -.4v2.6l.5 -.6v-1.6l.5 -.9v3.1l.5 -.1v-2.8l.5 -.6v3.7l.5 -.7v-1.8l.5 -1v3.6l.5 -.5v-2.3l.5 .3v1.6l.5 .1v-2l.5 -1.1v4.1l.5 -.6v-2.5l.5 -.5v3.7l.5 -1.1v-1.8l.5 -1.2v3.9l.5 -.9v-1.5l.5 -1v3.3l.5 -.8v-1.6l.5 -2.1v5l.5 -1.1v-2l.5 0v1.8l.5 .6v-3.1l.5 -.1v3.7l.5 -.2v-3.6l.5 -1.1v5.7l.5 1.3v-8.2l.5 -.1v7.9l.5 -2.6v-2.4l.5 -1v4l.5 .6v-4.8l.5 1.2v2.6l.5 .4v-3.1l.5 .5v1.7l.5 .1v-1.9l.5 -1.7v4.7l.5 -.8v-2.3l.5 -1.3v4.9l.5 -.8v-3.5l.5 -1.2v5.3l.5 .6v-4.9l.5 .8v2.2l.5 1v-4.7l.5 1.5v2.1l.5 -0v-1.6l.5 -1.3v3.6l.5 1v-5.7l.5 .2v5.5l.5 -.1v-5l.5 -.9v6.5l.5 4.2v-14.3l.5 -2.9v23l.5 -10.7v-5.6l.5 .5v5.1l.5 5.7v-15.2l.5 -4.6v21l.5 -1.8v-17.4l.5 2.7v15.3l.5 -6.2v-5l.5 -7v17.7l.5 .1v-17.7l.5 -1.7v24.7l.5 -4.5v-15.9l.5 -.4v13l.5 1.3v-12.7l.5 .8v11.3l.5 -.4v-12.1l.5 -10.3v34.6l.5 -11.9v-12l.5 1.1v10.7l.5 7.3v-32.1l.5 14.1v10.3l.5 6.5v-29.6l.5 9.8v16.2l.5 -4.4v-8.8l.5 -3.2v13.3l.5 1v-14.7l.5 -4.8v29.2l.5 -6.6v-15.9l.5 -3.9v18.7l.5 -2.7v-12.1l.5 3.8v7l.5 -1.9v-4.1l.5 .3v3.3l.5 -1.5v-1.2l.5 -.2v1.5l.5 .1v-1.7l.5 .1v2l.5 2.2v-6.5l.5 .5v5.4l.5 -1.3v-3.4l.5 -2.4v8l.5 -2.8v-1.9l.5 -3.8v10.7l.5 -5.4v-1.3l.5 -3.2v7.6l.5 -.5v-6.6l.5 0v5.6l.5 .2v-4.7l.5 -1.4v6.4l.5 -1.6v-2.4l.5 -.6v3.3l.5 .2v-4.4l.5 1.2v2.9l.5 .6v-4.3l.5 1.2v2.2l.5 -.4v-1.6l.5 .3v1.2l.5 -0v-1.4l.5 -.1v1.6l.5 .2v-1.6l.5 .2v1.3l.5 1v-3.2l.5 -.1v3.9l.5 1.5v-8.7l.5 -.1v9.1l.5 -.7v-7.3l.5 .3v8.3l.5 5v-18.5l.5 2.4v12.2l.5 .6v-13.2l.5 -4v19.5l.5 -2.2v-10.7l.5 -1.7v13.7l.5 -3.7v-7.9l.5 -1v8.8l.5 -1.8v-4.5l.5 1.1v2.5l.5 4.2v-10.1l.5 2v5.6l.5 5.3v-17.5l.5 -3.8v22.7l.5 .5v-22.1l.5 .2v19.2l.5 -2.8v-9.8l.5 -9.9v30.7l.5 -8.5v-13.9l.5 -2.2v16.3l.5 -.8v-13.6l.5 1.6v13.1l.5 -4.2v-6.9l.5 2.4v2l.5 .5v-2.5l.5 .4v1.1l.5 .1v-1.2l.5 -0v1.2M878 324.2V326l.5 -1.6v1.1l.5 .2v-1.3l.5 -18.4v33l.5 -13.1v-1.8l.5 .1v1.4l.5 .1v-1.2l.5 -.1v1.5l.5 -.2v-1.2l.5 -.3v1.6l.5 15.3v-31l.5 14.3v1.4l.5 -.3v-1.1l.5 -.2v1.7M898 324.3V325.8l.5 -1.2v.9l.5 -0v-1.1l.5 -.1v1.4l.5 -.1v-1.5l.5 .1v1.6l.5 1.5v-4.5l.5 .7v3.8l.5 -1.8v-1.3l.5 .1v1.1l.5 .3v-1.5l.5 .1v1.3l.5 .2v-1.6" stroke="#000000" stroke-width="2.20" fill="none" stroke-linejoin="miter" stroke-miterlimit="1"/>
<path d="M138 356.6L1012 356.6" stroke="#ff0000" stroke-width="4.10" fill="none"/>
<path d="M138 354.2L1012 354.2" stroke="#ff0000" stroke-width="0.80" stroke-dasharray="3.0 2.0 0.5 0.5 1.0 1.0 1.0 1.0 1.5 3.0 2.0 1.0 3.0 1.5 2.0 1.0 1.5 3.0 0.5 3.0 0.5 1.0 1.0 2.0" stroke-dashoffset="0" fill="none" opacity="0.55"/>
<path d="M138 359L1012 359" stroke="#ff0000" stroke-width="0.80" stroke-dasharray="1.0 0.5 1.0 0.5 3.0 1.0 3.0 0.5 3.0 1.0 1.0 0.5 1.0 2.0 0.5 2.0 1.5 0.5 1.0 0.5 2.0 1.0 0.5 2.0" stroke-dashoffset="6" fill="none" opacity="0.55"/>
<path d="M781 355.9V357.1l.5 -1.3v1.3l.5 .3v-1.6l.5 0v1.5l.5 1.2v-4.5l.5 .4v4.7l.5 .3v-4.9l.5 .9v2.7l.5 -.6v-1.9l.5 .2v1.4l.5 .2v-1.5l.5 -.2v1.6M819 356V357.1l.5 -1.4v1.8l.5 -.2v-1.3l.5 -.1v1.6l.5 -0v-1.7l.5 -.4v2.2l.5 1.6v-4.9l.5 -.3v5.2l.5 -1.8v-1.7l.5 .5v1.1l.5 -0v-1.5l.5 .2v1.3l.5 .1v-1.1M927 356.1V357.1l.5 -1.2v1.4l.5 -.2v-1.3l.5 -0v1.3l.5 .4v-2.2l.5 -0v2.6l.5 1v-4.9l.5 1.6v1.5l.5 .5v-2.7l.5 .9v1.2l.5 .2v-1.6l.5 .1v1.4" stroke="#ff0000" stroke-width="2.20" fill="none" stroke-linejoin="miter" stroke-miterlimit="1"/>
<path d="M138 388L1012 388" stroke="#0000ff" stroke-width="4.10" fill="none"/>
<path d="M138 385.6L1012 385.6" stroke="#0000ff" stroke-width="0.80" stroke-dasharray="0.5 0.5 1.0 1.0 0.5 2.0 2.0 3.0 3.0 1.0 2.0 0.5 1.0 3.0 2.0 1.0 3.0 2.0 0.5 2.0 0.5 3.0 3.0 2.0" stroke-dashoffset="4" fill="none" opacity="0.55"/>
<path d="M138 390.4L1012 390.4" stroke="#0000ff" stroke-width="0.80" stroke-dasharray="1.0 0.5 0.5 0.5 0.5 0.5 0.5 3.0 1.0 1.5 1.0 1.0 1.5 1.5 0.5 3.0 1.0 0.5 1.0 3.0 1.0 1.5 0.5 1.0" stroke-dashoffset="6" fill="none" opacity="0.55"/>
<path d="M190.5 387.5V388.4l.5 -1.1v1.2l.5 .2v-1.4l.5 -.6v2.5l.5 -.3v-1.8l.5 -.1v1.8l.5 2.1v-5.9l.5 .5v5.1l.5 -2v-1.7l.5 .1v2.1l.5 -.8v-1l.5 -0v1.2l.5 -.1v-1.4M276.5 387.2V388.6l.5 -1.3v1.4l.5 -.1v-1.4l.5 .3v1.1l.5 .9v-3l.5 .6v1.4l.5 2.5v-6.2l.5 1.1v3.7l.5 0v-3.1l.5 -.2v2.9l.5 -.4v-1.6l.5 .2v1.5l.5 -.2v-1.6M303.5 387.3V388.7l.5 -1.3v1.2l.5 -0v-1.1l.5 -1.3v3.5l.5 .2v-3.3l.5 -.8v4.1l.5 -.6v-2.9l.5 .7v1.8l.5 -.2v-1.1l.5 -.2v1.5l.5 0v-1.5M392.5 387.4V388.7l.5 -1.1v.9l.5 .3v-1.4l.5 -.8v2.5l.5 .3v-2.7l.5 .5v1.6l.5 1.4v-4.7l.5 0v5l.5 -.3v-3.9l.5 0v3.3l.5 -.4v-2.9l.5 .8v1.7l.5 -.1v-1.3l.5 -.2v1.6l.5 -.3v-1.1M479 387.4V388.7l.5 -1.2v1l.5 -0v-1l.5 0v1.1l.5 .2v-1.4l.5 -1v3l.5 1v-4.7l.5 1.2v1.8l.5 0v-1.5l.5 .1v1.3l.5 .1v-1.8l.5 .2v1.5l.5 -.2v-1.2M655.5 387.2V388.7l.5 -1.2v1.1l.5 0v-1.1l.5 -.9v2.8l.5 -.7v-1.6l.5 .1v1.8l.5 1.9v-5.5l.5 1.6v2l.5 -.2v-1.7l.5 -.4v2.7l.5 -.8v-1.1l.5 -.1v1.1l.5 .2v-1.3M726 387.6V388.4l.5 -.9v1l.5 .2v-1.5l.5 .2v1.1l.5 .9v-3.1l.5 .1v3.6l.5 .1v-4.6l.5 .6v3l.5 -.7v-1.2l.5 .1v1.1l.5 .2v-1.2l.5 0v1.2l.5 -.2v-1.2" stroke="#0000ff" stroke-width="2.20" fill="none" stroke-linejoin="miter" stroke-miterlimit="1"/>
<path d="M138 419.8L1012 419.8" stroke="#008000" stroke-width="4.10" fill="none"/>
<path d="M138 417.4L1012 417.4" stroke="#008000" stroke-width="0.80" stroke-dasharray="0.5 1.5 1.5 1.0 1.0 1.0 1.0 1.0 1.0 1.5 1.0 1.5 2.0 1.5 3.0 3.0 1.0 2.0 1.5 0.5 2.0 3.0 1.0 1.0" stroke-dashoffset="12" fill="none" opacity="0.55"/>
<path d="M138 422.2L1012 422.2" stroke="#008000" stroke-width="0.80" stroke-dasharray="1.0 2.0 2.0 1.0 2.0 1.0 1.0 0.5 1.0 1.0 1.5 2.0 3.0 0.5 3.0 1.0 3.0 2.0 1.5 1.0 3.0 3.0 2.0 1.0" stroke-dashoffset="9" fill="none" opacity="0.55"/>
<path d="M434 419.1V420.6l.5 -1.4v1l.5 .4v-1.5l.5 .2v1.1l.5 -0v-1.4l.5 -.5v2.6l.5 -.6v-2.1l.5 -.8v4.4l.5 .6v-5.7l.5 1.4v3.2l.5 -.7v-2.2l.5 -1.3v4.6l.5 -.4v-3.6l.5 .5v2.5l.5 1v-4.8l.5 1.6v2.1l.5 -.1v-2.1l.5 -3.6v9l.5 -2.1v-4.4l.5 1.1v2.2l.5 1.4v-5.8l.5 2v2.4l.5 .8v-4l.5 -1.9v7.2l.5 -1.3v-3.8l.5 -.1v3.7l.5 1v-6.3l.5 2.2v3l.5 -.7v-1.9l.5 -1.2v4.3l.5 -1.1v-1.9l.5 -.4v2.1l.5 .8v-3.5l.5 .5v2.6l.5 -.6v-1.5l.5 -0v1.5l.5 -0v-1.5M522 419V420.5l.5 -1v.8l.5 .1v-1.4l.5 0v1.3l.5 .7v-2.4l.5 -1.4v5.2l.5 -1.1v-2.4l.5 .2v1.7l.5 -.2v-1.4l.5 -.1v1.5l.5 -.2v-1M546 419.1V420.6l.5 -1.5v1.4l.5 -.1v-1.3l.5 -.2v1.8l.5 .9v-3.8l.5 .8v1.9l.5 1.7v-4.8l.5 1.7v1.5l.5 -.2v-1.3l.5 -0v1.4l.5 -.3v-.8l.5 -.2v1.3l.5 -.1v-1.1M598 419.2V420.4l.5 -1.2v1.1l.5 0v-1l.5 -.1v1.2l.5 .3v-1.7l.5 -1.2v4.1l.5 1.8v-7.5l.5 1.4v4.1l.5 -1v-1.3l.5 -.2v1.4l.5 -.2v-.9l.5 -.3v1.7l.5 -.4v-1M609.5 419.1V420.4l.5 -1.3v1.3l.5 .1v-1.5l.5 -.3v2.4l.5 -0v-2.6l.5 -0v2.6l.5 1.8v-5.9l.5 1.8v2.1l.5 -.2v-1.7l.5 .1v1.4l.5 -0v-1.3l.5 .1v1.3l.5 0v-1.6M638 419.4V420.4l.5 -1.4v1.3l.5 .3v-1.6l.5 -0v1.3l.5 -0v-1.1l.5 -.8v2.5l.5 1.2v-4.6l.5 1.3v1.8l.5 -.1v-1.6l.5 .2v1.2l.5 .3v-1.6l.5 -0v1.3l.5 .2v-1.5M756.5 418.9V420.7l.5 -1.8v1.7l.5 -.2v-1.2l.5 -.4v2.1l.5 -.1v-1.9l.5 .1v1.7l.5 2v-6.1l.5 1.3v3.9l.5 -.1v-3.8l.5 .5v2.8l.5 -.7v-1.4l.5 .1v1.3l.5 -.2v-1.2l.5 -.3v1.8M777.5 419.1V420.6l.5 -1.5v1.3l.5 -.1v-1l.5 -.4v2.1l.5 .4v-3.3l.5 .3v2.8l.5 1.2v-5.1l.5 -1.9v8.6l.5 -2.8v-3.1l.5 -1.2v5.4l.5 -1.8v-1.7l.5 .4v1.3l.5 -.1v-1.2l.5 -.3v1.5M803.5 419.3V420.5l.5 -1.2v.9l.5 .2v-1.2l.5 -.1v1.4l.5 1.5v-4.3l.5 .5v3l.5 2.5v-7.4l.5 -.4v7.9l.5 -1v-7.1l.5 2.8v2l.5 -.2v-1.3l.5 .1v1.2l.5 -0v-1.3l.5 -.1v1.7M888 419.1V420.6l.5 -1.7v1.8l.5 -.3v-1.1l.5 0v.9l.5 1v-2.6l.5 .2v1.7l.5 1.4v-4.7l.5 .9v3l.5 .4v-3.7l.5 1.3v1l.5 0v-.9l.5 -.4v1.5l.5 0v-1.3M948 419.1V420.4l.5 -1.5v1.6l.5 -0v-1.4l.5 -0v1.3l.5 .4v-1.8l.5 -1.4v4.6l.5 .2v-5.2l.5 -1.4v8.4l.5 -2.5v-3.6l.5 .6v2.4l.5 .1v-2.1l.5 .2v1.6l.5 -0v-1.5l.5 .2v1.2l.5 -.1v-1.2l.5 .1v1.1M964 419.3V420.3l.5 -1.2v1.2l.5 .2v-1.3l.5 -.2v1.7l.5 .1v-1.9l.5 -1v4.7l.5 -.5v-4.5l.5 1.5v1.7l.5 .7v-3.2l.5 1.2v1.2l.5 -.1v-1.2l.5 .1v1.2" stroke="#008000" stroke-width="2.20" fill="none" stroke-linejoin="miter" stroke-miterlimit="1"/>
<path d="M138 451.3L1012 451.3" stroke="#000000" stroke-width="4.29" fill="none"/>
<path d="M138 448.8L1012 448.8" stroke="#000000" stroke-width="0.88" stroke-dasharray="1.0 1.0 3.0 2.0 0.5 1.0 1.5 1.5 1.0 1.0 2.0 1.0 1.0 1.0 1.0 1.0 0.5 1.0 3.0 0.5 1.0 1.0 2.0 1.0" stroke-dashoffset="0" fill="none" opacity="0.55"/>
<path d="M138 453.8L1012 453.8" stroke="#000000" stroke-width="0.88" stroke-dasharray="3.0 3.0 3.0 1.0 1.5 1.0 1.0 2.0 1.0 0.5 2.0 1.0 1.0 2.0 3.0 3.0 3.0 1.5 0.5 1.0 2.0 1.5 1.5 3.0" stroke-dashoffset="17" fill="none" opacity="0.55"/>
<path d="M168.5 450.3V452.4l.5 -1.7v1.3l.5 .3v-1.7l.5 .1v1.6l.5 -.1v-1.7l.5 -.1v2.1l.5 1.2v-4.9l.5 1.9v1.6l.5 -.2v-1.6l.5 -.7v3l.5 -.4v-2l.5 .3v1.5l.5 -.2v-1.1l.5 -2v4.9l.5 -.8v-3.5l.5 1v2l.5 1.4v-4.6l.5 1.7v1.2l.5 -0v-1.3l.5 -.1v1.4l.5 0v-1.4l.5 .1v1.4l.5 -.2v-1l.5 -.7v2.4l.5 0v-2.6l.5 -1.6v5.3l.5 -.5v-3.4l.5 -3.6v9.9l.5 -3.1v-3.5l.5 -.9v5.1l.5 .6v-5.9l.5 1.5v3l.5 -.5v-2.4l.5 .8v1.1l.5 1.1v-3.4l.5 .8v2l.5 -.4v-1l.5 -1v2.8l.5 .1v-3.7l.5 .2v3.7l.5 -.8v-2.5l.5 .8v1.5l.5 .1v-2.3l.5 .5v1.6l.5 -.2v-1l.5 -2.3v5.4l.5 -1.1v-2.8l.5 -1.6v6.8l.5 .1v-8.2l.5 2.7v3l.5 .3v-3.6l.5 -.4v5.5l.5 -.6v-5.5l.5 2v1.6l.5 -0v-1.7l.5 -.1v1.9l.5 -.3v-1.4l.5 -.1v1.7M218 450.5V452.3l.5 -1.7v1.4l.5 -.1v-1.4l.5 -.1v1.7l.5 .1v-1.7l.5 .3v1.3l.5 .6v-2.8l.5 -1.8v7.2l.5 -1.7v-4.7l.5 .8v3.8l.5 .6v-6l.5 1.9v2.8l.5 1.2v-4.8l.5 1.2v1.9l.5 -.1v-1.6l.5 -.7v3.9l.5 -0v-4.6l.5 .1v4l.5 -0v-3.9l.5 1.2v1.9l.5 1v-3.7l.5 -.1v3.2l.5 -.6v-1.7l.5 -1.7v4.7l.5 -.5v-3.9l.5 1.5v1.7l.5 2.4v-6.9l.5 1.3v5.7l.5 -1.5v-3.8l.5 -.4v5.2l.5 -2v-1.6l.5 -.3v2.6l.5 -.6v-1.7l.5 .2v1l.5 .4v-1.7l.5 .1v1.4M240.5 450.6V452.3l.5 -1.5v1.1l.5 -0v-1.3l.5 -.2v1.5l.5 1.3v-4.3l.5 -.2v5.4l.5 .4v-5.7l.5 -3.6v12.3l.5 -4.4v-3.6l.5 -2.7v9.5l.5 -4.1v-2l.5 -.2v2.4l.5 -.3v-1.7l.5 .4v1l.5 .4v-1.7M294 450.7V451.8l.5 -1.1v1.2l.5 0v-1.2l.5 -.7v2.1l.5 -.4v-1.2l.5 -.5v2.1l.5 1.2v-4.7l.5 1.7v1.5l.5 -.2v-1.2l.5 -.1v1.4l.5 0v-1.5l.5 .1v1.7M337 450.5V452.1l.5 -1.3v1.3l.5 -0v-1.4l.5 .2v1.1l.5 -.1v-1.2l.5 -1.6v4.5l.5 .7v-5l.5 1.3v1.6l.5 .1v-1.8l.5 .2v1.5l.5 .6v-2.8l.5 -.1v2.7l.5 -.5v-1.7l.5 .2v1.5l.5 .8v-2.8l.5 -1.6v5.9l.5 -2v-2.3l.5 -1.8v5.8l.5 -1.8v-2l.5 .2v1.8l.5 1v-4.4l.5 1.6v1.7l.5 .1v-1.5l.5 -.1v1.4l.5 .4v-2.2l.5 -1v4.3l.5 -1v-2.5l.5 .2v1.7l.5 1.1v-3l.5 .5v1.5l.5 -.2v-1.3l.5 -.1v1.5l.5 .2v-1.8l.5 .2v1.4l.5 .1v-1.4M431.5 450.7V451.8l.5 -1.2v1.4l.5 0v-1.3l.5 -.3v1.8l.5 -.2v-1.2l.5 -.7v2.2l.5 1.3v-4.5l.5 1.5v1.9l.5 .6v-3.3l.5 1.1v1l.5 .3v-1.7l.5 .3v1.6l.5 -.3v-1.3M470 450.6V452.1l.5 -1.6v1.8l.5 -.1v-1.6l.5 -.4v2.4l.5 -.1v-2.6l.5 .6v1.7l.5 1.6v-4.9l.5 1.6v1.5l.5 -.1v-1.2l.5 -.2v1.5l.5 -.4v-1.1l.5 -.2v1.8M493.5 450.8V452l.5 -1.1v.9l.5 .4v-1.8l.5 -.2v1.8l.5 -.2v-1.5l.5 -.3v2.1l.5 2v-5.9l.5 1.6v2.8l.5 -.3v-1.9l.5 -.5v2.5l.5 1.7v-5l.5 .3v3.4l.5 1.4v-5.1l.5 1v2l.5 -.4v-1.2l.5 .1v1.2l.5 .4v-2.1l.5 .2v1.7M507.5 450.5V452.1l.5 -1.3v1.1l.5 -.1v-1.2l.5 -15.7v32.8l.5 -16v-1.2l.5 -.1v1.5l.5 .1v-1.6l.5 -.2v1.6l.5 .7v-2.5l.5 .6v1l.5 3.6v-8.7l.5 2.7v4l.5 -.3v-3.1l.5 -1.5v6.4l.5 -1.4v-4.7l.5 2v1.3l.5 3.6v-8.7l.5 2.3v4.6l.5 .1v-5.3l.5 -1.7v8.5l.5 -1.8v-4.4l.5 1v2.1l.5 -0v-1.5l.5 -2.2v6.5l.5 -2v-3.3l.5 .3v2.3l.5 -.4v-1.1l.5 -3.3v7.9l.5 -3.5v-1.2l.5 -4.6v10.2l.5 -2.3v-5.6l.5 2v1.5l.5 4v-9.6l.5 3.4v2.8l.5 -.4v-1.5l.5 -2.2v6.1l.5 -2v-2.6l.5 -1.7v5.9l.5 -1.2v-2.8l.5 -3.7v9l.5 -2.8v-2.2l.5 -1.2v5.2l.5 1.6v-7.8l.5 2.2v1.7l.5 2v-5.6l.5 1.8v2.3l.5 -.5v-1.3l.5 -3.4v6.7l.5 -1.3v-3.2l.5 -2.5v9.2l.5 -3.5v-2.9l.5 -3.7v10.3l.5 -2.5v-4.7l.5 -1.5v7.7l.5 -.1v-7.3l.5 .1v5.8l.5 2.7v-9.5l.5 1.3v5.2l.5 -.9v-2.7l.5 -1.7v5.7l.5 -.7v-3.6l.5 -3.7v10.8l.5 -1v-10.2l.5 1.6v7.2l.5 -1.7v-3.5l.5 .8v2.4l.5 -.5v-1.3l.5 -.7v2.5l.5 .1v-3.3l.5 1v1.9l.5 1.6v-6.4l.5 2.4v3.1l.5 -.8v-2.3l.5 -1.5v7l.5 -3v-2.2l.5 -.7v3.4l.5 -.5v-2.3l.5 .8v1l.5 .2v-1.4l.5 .1v1.1l.5 0v-1.3M587.5 450.7V452l.5 -1.5v1.7l.5 -.2v-1.7l.5 .1v1.4l.5 .3v-1.8l.5 -.7v2.7l.5 -.4v-1.4l.5 -1.7v4.5l.5 .1v-4.1l.5 .6v2.9l.5 .7v-4.6l.5 1.6v1.5l.5 2.7v-5.7l.5 -.2v4.6l.5 -1v-2.2l.5 -.9v3.8l.5 .9v-5.9l.5 1.7v2.8l.5 -.7v-1.4l.5 -1.7v5.6l.5 -1.8v-2.4l.5 -1.5v4.8l.5 -1.5v-1.3l.5 -0v1.1l.5 .4v-1.7l.5 .2v1.5l.5 .2v-2.1l.5 -.1v2.3l.5 2.5v-6.6l.5 2.3v1.5l.5 -.2v-1.2l.5 -.5v2.1l.5 -.1v-2.1l.5 -7.7v19.1l.5 -8v-4.6l.5 1v2.7l.5 -.9v-1l.5 -3.2v7.9l.5 -1v-6.8l.5 1.2v4.2l.5 2.2v-7.1l.5 .1v5.9l.5 -1.1v-3.1l.5 -.8v3.8l.5 .1v-3.1l.5 -.6v4.4l.5 1.3v-7.3l.5 1.1v4.8l.5 1.7v-7.4l.5 2.8v1.8l.5 -0v-1.9l.5 -1.5v4l.5 -.2v-2.6l.5 -1.6v5.2l.5 .3v-4.7l.5 -1.2v6.7l.5 -3v-1.3l.5 -2.7v6l.5 -.7v-4.1l.5 -.5v5.1l.5 -1.4v-1.9l.5 .1v1.4l.5 .4v-2.3l.5 .7v1.2l.5 .1v-1.4l.5 -.3v1.9M662.5 450.6V451.9l.5 -1.2v1.1l.5 .1v-1.3l.5 -.4v1.9l.5 -.2v-1.4l.5 -1.5v4l.5 1.7v-7.5l.5 -.9v9.8l.5 -2.4v-4.4l.5 .3v2.8l.5 -.2v-1.6l.5 -.3v1.7l.5 -.1v-1.3l.5 -.1v1.3l.5 .2v-1.4M739 450.6V452l.5 -1.5v1.5l.5 .1v-1.5l.5 -.6v2.7l.5 -.7v-1.4l.5 -1.4v5l.5 0v-5.6l.5 1.6v1.9l.5 -.1v-1.6l.5 -.1v2.3l.5 -.7v-1.1l.5 -.1v1.2l.5 .3v-1.8M815 450.9V451.8l.5 -1.3v1.2l.5 .2v-1.2l.5 -.1v1.6l.5 -.1v-1.6l.5 -1.8v5.1l.5 .8v-6.7l.5 .8v4.7l.5 -1.5v-1.4l.5 -.2v2l.5 -.3v-1.4l.5 .1v1.2l.5 -0v-1M916.5 450.6V452l.5 -1.6v1.5l.5 -.1v-1.4l.5 .1v1.4l.5 1v-3.4l.5 .2v2.6l.5 1.3v-4.9l.5 1.6v1.5l.5 1.1v-3l.5 .7v1.2l.5 -.1v-1l.5 -0v1.2M933.5 450.5V452.1l.5 -1.6v1.5l.5 0v-1.5l.5 .2v1.3l.5 .6v-2.6l.5 .2v1.9l.5 2.5v-6.5l.5 .8v4.4l.5 -1.5v-1.5l.5 .1v1.5l.5 -.1v-1.7l.5 .5v1.1l.5 -.2v-.9M1002 450.5V452.2l.5 -1.5v1.1l.5 .3v-1.9l.5 .4v1.4l.5 .4v-1.8l.5 -.4v2.5l.5 1.5v-5.6l.5 -.4v5.5l.5 -1.4v-1.5l.5 .1v1.2l.5 0v-1l.5 -.3v1.4l.5 -.1v-1.2" stroke="#000000" stroke-width="2.20" fill="none" stroke-linejoin="miter" stroke-miterlimit="1"/>
<path d="M138 482.6L1012 482.6" stroke="#ff0000" stroke-width="4.58" fill="none"/>
<path d="M138 479.9L1012 479.9" stroke="#ff0000" stroke-width="1.00" stroke-dasharray="3.0 3.0 1.0 3.0 3.0 1.0 1.0 3.0 0.5 3.0 1.0 1.0 0.5 1.0 3.0 1.0 2.0 0.5 0.5 1.0 3.0 0.5 2.0 3.0" stroke-dashoffset="3" fill="none" opacity="0.55"/>
<path d="M138 485.3L1012 485.3" stroke="#ff0000" stroke-width="1.00" stroke-dasharray="3.0 0.5 3.0 0.5 1.0 1.0 1.5 1.5 1.0 0.5 1.0 1.5 1.0 1.0 2.0 1.0 1.5 2.0 2.0 2.0 1.0 2.0 1.0 1.5" stroke-dashoffset="5" fill="none" opacity="0.55"/>
<path d="M300.5 481.5V483.6l.5 -1.6v1.2l.5 .4v-1.9l.5 -.1v2l.5 -.1v-1.7l.5 -2v5.9l.5 .2v-6.4l.5 1.3v3l.5 -.2v-2l.5 -0v1.4l.5 .3v-1.6l.5 -0v1.4l.5 .1v-1.6M318 481.9V483.1l.5 -1.2v1.6l.5 .3v-2.2l.5 .2v1.7l.5 .5v-3.1l.5 -.5v4.9l.5 -.3v-5.1l.5 1.9v1.7l.5 0v-1.7l.5 .2v1.5l.5 -.1v-1.7l.5 .3v1.7M398.5 481.8V483.3l.5 -1.3v1.4l.5 .1v-1.5l.5 -.1v1.4l.5 0v-1.4l.5 -.3v2.2l.5 .6v-3.3l.5 -.7v4.7l.5 -.1v-4.7l.5 .6v3.3l.5 .8v-4.5l.5 .8v2.5l.5 0v-3.2l.5 -.8v4.8l.5 -.8v-2.6l.5 -2v6.8l.5 -.6v-6.3l.5 1.6v3.3l.5 .3v-3.8l.5 .7v2.5l.5 .7v-4.9l.5 2.1v1.9l.5 .7v-2.9l.5 -.5v4.1l.5 -1.4v-1.7l.5 -1.1v3.6l.5 0v-4.3l.5 .9v3.1l.5 .3v-3.3l.5 -1.7v5.5l.5 -1v-2.9l.5 .6v2.2l.5 -0v-2.5l.5 .3v1.9l.5 -.2v-1.4l.5 .1v1.8l.5 0v-1.8M430.5 481.5V483.7l.5 -2.1v1.8l.5 -.1v-1.5l.5 -.1v1.7l.5 .1v-1.7l.5 -1.8v5l.5 -1.4v-1.9l.5 -.1v2l.5 .3v-2.2l.5 -0v2l.5 0v-2.5l.5 -.7v4.9l.5 -1.4v-2.5l.5 -.8v4.3l.5 1.1v-7.3l.5 2.6v3.2l.5 1.1v-5.1l.5 .2v4.5l.5 -.6v-3.9l.5 -.8v5.1l.5 .2v-4.7l.5 -1.8v9.8l.5 -3v-5.1l.5 -1.2v5.9l.5 1.4v-6.8l.5 -.2v6.5l.5 -.6v-5.7l.5 .9v3.3l.5 -.1v-2.3l.5 -1.9v6.2l.5 -1.6v-2.7l.5 -.2v2.6l.5 .2v-3.8l.5 1.4v1.7l.5 -.2v-1.3l.5 -.4v2.1l.5 .9v-4.1l.5 .4v3.9l.5 -.4v-3.9l.5 1.4v1.4l.5 1.1v-3.8l.5 1.1v2.1l.5 -.1v-2.1l.5 .2v1.9l.5 -.1v-1.6l.5 -.1v1.8l.5 -.2v-1.3l.5 -.1v1.2l.5 .4v-1.6l.5 -1v3l.5 .2v-3.4l.5 -.5v4.6l.5 -.7v-2.8l.5 .7v1.1l.5 .4v-1.8l.5 .3v1.1l.5 .2v-1.5M629 482V483.4l.5 -1.9v2.2l.5 -.5v-1.2l.5 -.1v1.6l.5 .5v-2.7l.5 -1v4.7l.5 -1.5v-1.9l.5 -.7v4.3l.5 -1.5v-1.9l.5 0v2l.5 -.1v-1.9l.5 0v1.8M672 481.7V483.4l.5 -1.7v1.8l.5 -.1v-1.8l.5 .2v1.6l.5 1.1v-3.1l.5 -.3v3.2l.5 -.5v-2.1l.5 -.9v3.7l.5 -.9v-2.6l.5 -1.1v5.3l.5 .9v-6.7l.5 1v5.4l.5 .5v-7.7l.5 2.1v4.5l.5 -1.4v-2.2l.5 0v2.3l.5 2.9v-7.1l.5 -.3v7.2l.5 .7v-8.5l.5 -.4v7.3l.5 2.2v-10.5l.5 .2v9.5l.5 .7v-10.6l.5 2.9v4.9l.5 -.1v-4.5l.5 -1.7v7.1l.5 -1.6v-2.8l.5 -1.7v5.3l.5 2.2v-9l.5 3.7v1.6l.5 .2v-2l.5 .1v1.8l.5 1.8v-5.4l.5 -.3v5.1l.5 -1.1v-2l.5 -1.4v5.1l.5 -.9v-3.3l.5 -.2v3.7l.5 -1.2v-1.4l.5 -1.3v4.8l.5 -1.5v-3l.5 .3v2.5l.5 -.5v-1.3l.5 -.1v1.3l.5 .2v-1.6M729 481.4V483.4l.5 -1.6v1.4l.5 .1v-1.3l.5 -.5v2.2l.5 .3v-3.1l.5 .9v1.7l.5 .3v-2.2l.5 -1.2v5.6l.5 -2.3v-2.2l.5 -.7v3.8l.5 -.7v-2.7l.5 .2v2.5l.5 -0v-2.8l.5 -2v6.8l.5 -.7v-4.4l.5 -1.6v6.7l.5 -.4v-7l.5 2.7v2.7l.5 3v-8.5l.5 1.8v6.2l.5 -2.6v-2.4l.5 -.9v3.8l.5 -.7v-2.3l.5 -.6v3.8l.5 -1.1v-1.8l.5 -.4v3l.5 .8v-5.2l.5 1.4v2.7l.5 -.5v-1.7l.5 -.8v4.1l.5 -1.3v-2.5l.5 .1v2.2l.5 1v-4.1l.5 1v3l.5 2.3v-7.7l.5 1.6v3.9l.5 -.9v-2.3l.5 -2v6.6l.5 -1.4v-3.4l.5 .6v2.2l.5 -0v-2.3l.5 -.1v3.1l.5 -.1v-3.1l.5 .2v2.5l.5 -.5v-1.5l.5 -.4v1.9l.5 .2v-1.7M798.5 481.9V483.2l.5 -1.5v1.8l.5 .2v-1.9l.5 -.3v2.2l.5 0v-2.4l.5 -.3v3l.5 .6v-3.6l.5 .6v1.9l.5 -.2v-1.8l.5 -.1v2.2l.5 .3v-2.6l.5 -.4v3.8l.5 -.6v-3.3l.5 1.1v1.5l.5 0v-1.9l.5 -1.2v4.5l.5 -1.5v-1.8l.5 -.1v1.9l.5 1.2v-4l.5 0v3.4l.5 -.7v-1.8l.5 -1v3.9l.5 -.8v-2.5l.5 .4v1.6l.5 .8v-2.8l.5 -.1v2.4l.5 1.8v-5.6l.5 1.2v3.9l.5 -.2v-3.9l.5 -2.2v7.9l.5 -2.4v-2.4l.5 -.1v2.7l.5 .9v-4.9l.5 1.4v2.9l.5 .5v-4.6l.5 .2v4.4l.5 .2v-4.3l.5 -1.1v5.8l.5 -1.9v-2.1l.5 -.4v2.6l.5 .6v-3.9l.5 -.3v4.3l.5 -.5v-2.1l.5 -0v1.7l.5 1.5v-4.3l.5 .5v2.8l.5 -.3v-1.8l.5 -1.6v5l.5 -1.7v-1.9l.5 -.6v3.5l.5 -.9v-1.9l.5 -.9v4l.5 -1.1v-2l.5 -1.3v4l.5 -.8v-1.6l.5 -1.3v4.5l.5 -1v-2.3l.5 .1v2.1l.5 .3v-3l.5 -.1v2.9l.5 -.3v-2l.5 .2v1.4l.5 .4v-2.3l.5 .2v2.3l.5 .1v-2.7l.5 -.9v4.1l.5 .6v-4.5l.5 -0v3.6l.5 .3v-4.2l.5 -.1v4.6l.5 -1.2v-2.1l.5 .5v1.6l.5 1.2v-4.2l.5 1.1v2l.5 1v-3.9l.5 .6v3.3l.5 -.9v-2.5l.5 0v2.6l.5 -.1v-2.1l.5 -2.1v6.1l.5 .3v-6.3l.5 1.3v4.1l.5 -1.4v-2.3l.5 -.9v4.3l.5 -1.3v-1.7l.5 -.1v1.9l.5 .8v-3.7l.5 .5v2.4l.5 .1v-2.2l.5 -.6v4.2l.5 -1.1v-2.6l.5 .5v1.7l.5 .6v-3.4l.5 1v1.6l.5 .3v-1.7l.5 -.6v2.7l.5 -.3v-2.5l.5 .6v1.8l.5 .1v-2.1l.5 .1v1.7l.5 .7v-2.4l.5 -.1v1.9l.5 1.6v-4.5l.5 -0v4.2l.5 .6v-4.5l.5 -.8v4.6l.5 -1v-1.9l.5 .1v1.7l.5 1.3v-3.9l.5 1v1.6l.5 2.2v-5.3l.5 0v5.2l.5 -2v-2l.5 .2v1.7l.5 1.6v-4.6l.5 -.1v4.3l.5 -1.1v-1.9l.5 .1v2.1l.5 .2v-3.2l.5 .1v2.8l.5 .1v-2.2l.5 -1.5v5.4l.5 -1.6v-2.2l.5 -.3v2.4l.5 0v-2.3l.5 -.4v3l.5 .6v-4.4l.5 1.6v1.6l.5 .9v-4.2l.5 1.1v2.8l.5 1.1v-5l.5 1v2.7l.5 -.2v-2.6l.5 -.4v3.8l.5 -.1v-3.5l.5 -.7v4.2l.5 1.5v-6.4l.5 .5v4.3l.5 .1v-4l.5 1.1v2l.5 .3v-2.7l.5 -.9v4.9l.5 -1.8v-1.5l.5 -1.4v4.4l.5 -.3v-4l.5 .9v1.8l.5 .6v-2.8l.5 .6v1.9l.5 .4v-2.8l.5 .4v1.9l.5 .2v-2.9l.5 .7v2.2l.5 -.3v-1.9l.5 -.3v2.5l.5 .2v-2.6l.5 -.6v3.6l.5 -.3v-3l.5 .4v2l.5 1.1v-4.7l.5 -.2v5l.5 -.9v-2.4l.5 .1v2l.5 .5v-3l.5 .1v3.4l.5 -.1v-4.2l.5 -.4v4.8l.5 -1.4v-1.6l.5 -.3v2.1l.5 -.3v-1.4l.5 -.3v2.2l.5 -.1v-2l.5 -.3v3.1l.5 -1.1v-1.5l.5 -.5v2.5l.5 -.5v-1.6l.5 -.8v3.7l.5 -1.4v-1.5l.5 -1.3v3.7l.5 -.2v-3.5l.5 .8v3.2l.5 .3v-4.2l.5 1.3v1.6l.5 -.1v-1.6l.5 0v1.6l.5 1.7v-4.8l.5 1v2.1l.5 -.1v-1.8l.5 -1v3.4l.5 -.8v-1.6l.5 -1.8v4.6l.5 -1v-1.8l.5 -1.6v5l.5 -1.4v-1.9l.5 -1.5v4.3l.5 -.2v-3.3l.5 -0v3.4l.5 .9v-4.8l.5 1v2.4l.5 -.1v-2.7l.5 -1v5.1l.5 -.8v-3.5l.5 .8v1.6l.5 1.5v-4.3l.5 .6v2.6l.5 .5v-3.6l.5 .3v3.1l.5 .4v-4.3l.5 .6v3.8l.5 -1.4v-1.5l.5 -1.2v4.4l.5 -1.6v-1.5l.5 -1.8v4.4l.5 -.4v-2.9l.5 .6v1.4l.5 1.4v-3.2l.5 .4v1.8l.5 .4v-2.6l.5 -1v3.8l.5 -.7v-1.6l.5 -.7v2.5l.5 1.3v-5.1l.5 1.5v2.2l.5 -.1v-2.1l.5 .3v1.8l.5 .6v-3.4l.5 .8v1.9l.5 0v-1.7l.5 -0v1.5l.5 .7v-2.5l.5 -.2v2.7l.5 2.2v-6.9l.5 .3v5.8l.5 -1.9v-2.1l.5 -1.1v4.6l.5 -.2v-4.2l.5 1.3v2l.5 .5v-3l.5 .2v2.4l.5 0v-2.5l.5 -.1v2.8l.5 -.3v-2.2l.5 -.4v3.4l.5 .4v-4.4l.5 1.3v2l.5 -.1v-2.1l.5 -1.3v4.4l.5 .2v-4.7l.5 1.1v3.1l.5 .2v-3.3l.5 .1v2.7l.5 .2v-3.4l.5 .6v2.7l.5 1v-4.8l.5 .8v3.3l.5 -.5v-2.3l.5 -1.5v4.9l.5 -.6v-3.8l.5 -0v3.8l.5 .4v-4.8l.5 .6v4.1l.5 .5v-4.9l.5 1.3v2.6l.5 -.5v-2.5l.5 .4v2.1l.5 -.2v-2.1l.5 .1v2l.5 2v-5.3l.5 .9v3.2l.5 -.6v-2.6l.5 -.6v4.1l.5 -1.4v-1.9l.5 -.7v4.3l.5 -1.7v-1.6l.5 -1.8v4.7l.5 -1.3v-1.8l.5 -.1v2.2l.5 .3v-2.2l.5 -1.5v4.6l.5 -1.3v-2l.5 -.2v2.9l.5 -.7v-2.1l.5 -.8v3.2l.5 .9v-4.3l.5 .9v2.2l.5 1.1v-4.7l.5 .6v3.7l.5 .8v-5.5l.5 1.5v3.8l.5 .2v-4.8l.5 1.2v2.7l.5 -.8v-1.9l.5 -.1v2.4l.5 -.1v-2.3l.5 .3v1.9l.5 1.4v-4.2l.5 -.6v5l.5 -.8v-4.2l.5 .4v3.5l.5 -.5v-3l.5 .7v2.3l.5 .7v-4.5l.5 .4v4.1l.5 .3v-4.9l.5 .5v4l.5 .6v-4.1l.5 .2v2.7l.5 -.4v-1.6l.5 -1.1v4.1l.5 -.6v-3.1l.5 -.2v3.1l.5 .7v-4.6l.5 -1.2v7.6l.5 -2.7v-2.5l.5 -.4v3.5l.5 -1.2v-1.2l.5 -2.1v4.9l.5 -.6v-2.7l.5 -.9v3.9l.5 -.7v-2l.5 .1v1.8l.5 1.6v-5.6l.5 2.2v1.7l.5 .3v-2.3l.5 -0v2.1l.5 1.4v-4.1l.5 .8v1.8l.5 .6v-3l.5 .5v2.8l.5 -.3v-2.5l.5 -.1v3l.5 -.8v-2.3l.5 .1v2.8l.5 .8v-5.1l.5 .2v4.4l.5 -.7v-2l.5 -.2v1.8l.5 1.2v-4.8l.5 .6v3.8l.5 -.5v-2.4l.5 -.5v4.3l.5 -.4v-4.5l.5 .9v2.7l.5 .9v-4.6l.5 .9v3.2l.5 1.3v-6.5l.5 -1.8v11.2l.5 -.5v-10.3l.5 1v10.1l.5 -4.6v-2.9l.5 -.2v3.2l.5 .7v-4.7l.5 1.2v2.7l.5 -.6v-1.9l.5 -.9v3.4l.5 .2v-2.7l.5 -.1v2.6l.5 -.1v-2.7l.5 -.8v4.4l.5 -1.2v-2l.5 -0v1.9l.5 1.4v-4l.5 -.6v4.6l.5 -.2v-4l.5 .1v3.7l.5 -.4v-3.4l.5 -.4v4.5l.5 -1.2v-1.5l.5 -1.2v3.8l.5 -1.1v-1.6l.5 -.2v1.7l.5 .6v-3l.5 .7v1.9l.5 .1v-1.7l.5 -0v1.7l.5 .3v-2.6l.5 .4v2.2l.5 -.1v-2.2l.5 -1.3v4.1l.5 .2v-3.5l.5 -1.2v5.4l.5 -1.9v-1.5l.5 0v1.7l.5 0v-2.2l.5 -.5v2.9l.5 .8v-4.3l.5 0v3.9l.5 3v-10.3l.5 4.1v4l.5 -.7v-3.3l.5 -1.5v6.2l.5 -1.2v-3.7l.5 -1.8v8.3l.5 -.4v-8.1l.5 2.1v2.8l.5 .6v-4.3l.5 .6v3.6l.5 2.7v-7.6l.5 1.9v2.9l.5 1.6v-7.4l.5 -1v8.8l.5 -1.3v-5.1l.5 0v5.9l.5 1.2v-9.4l.5 1.8v7.6l.5 -1.7v-4.3l.5 -.2v3.5l.5 .8v-4l.5 .1v3.4l.5 1.3v-6.3l.5 .5v6.7l.5 -.4v-7.9l.5 1.2v6.7l.5 -1.2v-5.1l.5 .5v3.6l.5 1.8v-7.4l.5 .7v5.7l.5 1v-6.2l.5 1.1v3.6l.5 .4v-5.2l.5 -3.2v11.3l.5 -1.1v-7.8l.5 -.2v8.6l.5 -2.9v-3l.5 -4.3v10l.5 -.1v-9.5l.5 1.9v6.8l.5 -.2v-6l.5 0v5.3" stroke="#ff0000" stroke-width="2.20" fill="none" stroke-linejoin="miter" stroke-miterlimit="1"/>
<path d="M138 514.1L1012 514.1" stroke="#0000ff" stroke-width="4.86" fill="none"/>
<path d="M138 511.2L1012 511.2" stroke="#0000ff" stroke-width="1.12" stroke-dasharray="1.5 1.0 1.5 1.5 1.0 3.0 0.5 3.0 0.5 1.0 1.5 1.0 3.0 0.5 1.5 3.0 1.0 3.0 2.0 3.0 0.5 2.0 1.5 3.0" stroke-dashoffset="16" fill="none" opacity="0.55"/>
<path d="M138 517L1012 517" stroke="#0000ff" stroke-width="1.12" stroke-dasharray="1.0 3.0 3.0 0.5 1.0 1.0 2.0 0.5 0.5 0.5 2.0 3.0 1.0 3.0 0.5 3.0 1.0 0.5 1.0 1.5 1.0 1.0 1.0 1.5" stroke-dashoffset="1" fill="none" opacity="0.55"/>
<path d="M138 512.6V515.7l.5 -2.7v2.4l.5 1.1v-4.3l.5 .4v3l.5 .5v-3.9l.5 -.1v4.2l.5 -.4v-3.8l.5 .8v2.2l.5 .6v-3l.5 .2v2.4l.5 .8v-4.5l.5 1.5v1.9l.5 .5v-2.9l.5 -1.6v5.9l.5 -1.2v-3.8l.5 1.2v1.7l.5 .5v-3.3l.5 -.2v4.1l.5 -.5v-3.3l.5 .2v3.2l.5 -.7v-1.8l.5 -.1v1.8l.5 .5v-2.1l.5 -0v1.7l.5 .9v-4.2l.5 -.1v5.4l.5 -1.5v-3l.5 .5v2.3l.5 -0v-1.7l.5 -.3v1.9l.5 1v-4.3l.5 1.1v2.4l.5 1.6v-5.3l.5 1.9v1.3l.5 .3v-1.7l.5 -2.2v5.4l.5 -1v-2.6l.5 .1v1.9l.5 -.2v-1.4l.5 -.2v1.8l.5 -0v-1.8l.5 .2v1.9l.5 .4v-3.4l.5 -.4v5.2l.5 -.8v-3.5l.5 -.5v3.6l.5 .1v-3.1l.5 -1.3v5.5l.5 -1.6v-1.8l.5 -.3v2l.5 1v-4.2l.5 1.4v2.1l.5 1v-3.6l.5 -.1v2.8l.5 -.4v-2.1l.5 -.5v3.5l.5 -.8v-1.8l.5 -.1v1.8l.5 1.2v-3.6l.5 -.3v4l.5 -.1v-3.9l.5 .6v2.2l.5 .2v-2.1l.5 -1.3v4.9l.5 -.7v-4l.5 1v2.2l.5 1.8v-4.9l.5 -.4v4.4l.5 -1.2v-1.8l.5 -1.1v4.6l.5 -1v-3.7l.5 .9v2.4l.5 .8v-3.5l.5 .4v2.4l.5 -0v-2.4l.5 -.5v3.4l.5 -0v-3.4l.5 -.7v4.7l.5 -.2v-4.3l.5 .5v3.7l.5 -.3v-2.9l.5 -.5v3.9l.5 -1v-2l.5 -0v1.8l.5 .2v-2.1l.5 -.4v3.4l.5 -.3v-3.2l.5 .8v1.4l.5 .4v-2.1l.5 -.9v3.4l.5 -.6v-1.6l.5 -.1v1.5l.5 .8v-3.1l.5 .5v2l.5 1v-3.6l.5 .6v1.9l.5 .4v-2.4l.5 .2v1.9l.5 -0v-1.6l.5 -.2v1.8l.5 1.5v-4l.5 .7v1.9l.5 0v-1.6l.5 -.5v3.2l.5 -.9v-2.3l.5 .3v2.1l.5 0v-2.3l.5 -.1v2.3l.5 -0v-2.1l.5 -1v4.4l.5 -1v-2.7l.5 -.7v3.8l.5 -.3v-2.9l.5 -.9v4.9l.5 -1.1v-2.5l.5 -1.8v5.3l.5 -.6v-3.7l.5 .1v3.2l.5 -0v-3.2l.5 .6v2.3l.5 .3v-2.9l.5 -.5v3.8l.5 -.6v-2.9l.5 0v2.7l.5 .2v-2.7l.5 -0v3.4l.5 .7v-4.8l.5 1.5v1.3l.5 .9v-3.1l.5 .8v1.7l.5 1.1v-4.5l.5 1.2v3.2l.5 -.1v-3.5l.5 .9v1.8l.5 -.1v-1.9l.5 -.1v2.2l.5 .1v-2.3l.5 -.3v2.5l.5 -0v-2.4l.5 -.2v2.7l.5 -.4v-2l.5 .2v1.7l.5 .4v-2.3l.5 .2v1.6l.5 -.1v-1.5l.5 -.4v2.3l.5 .6v-4l.5 1.6v1.7l.5 1.3v-4.8l.5 1.5v1.9l.5 .3v-2.2l.5 -.8v3.8l.5 .2v-3.8l.5 .7v2l.5 -.1v-1.8l.5 -0v2l.5 1v-3.7l.5 .5v2l.5 .7v-3.3l.5 -.3v3.6l.5 -.9v-1.6l.5 -.3v2.1l.5 -.2v-2.2l.5 -1.5v5.7l.5 -1v-3.7l.5 .3v2.8l.5 2.7v-7.8l.5 2.7v2.3l.5 1.6v-5.1l.5 1v2.9l.5 -.3v-2.4l.5 -1.5v4.8l.5 -1v-2.6l.5 -.1v3.9l.5 -.8v-2.8l.5 -1.1v5l.5 -1.5v-2l.5 -1.3v4.7l.5 -1.6v-1.5l.5 -1.7v4.3l.5 -1.2v-1.4l.5 -1.2v3.3l.5 -.3v-2.4l.5 .2v2.2l.5 -.2v-2.2l.5 -.1v2.6l.5 .6v-3.7l.5 .9v1.7l.5 .7v-3.1l.5 -1.3v5.2l.5 -.4v-3.7l.5 .2v3.1l.5 -.1v-2.7l.5 -.1v2.1l.5 -0v-2l.5 .1v1.9l.5 .8v-3.2l.5 .3v2.1l.5 -0v-1.7l.5 -.1v1.9l.5 -.4v-1.4l.5 -2.2v5l.5 -1.3v-1.9l.5 .2v1.8l.5 0v-1.8l.5 -.3v1.8l.5 0v-1.8l.5 -.4v2.4l.5 .3v-2.6l.5 -0v2.7l.5 1.2v-4.4l.5 .7v2.6l.5 -.4v-1.9l.5 -.9v4l.5 -1.3v-1.5l.5 -.8v2.9l.5 .2v-3l.5 -.2v3.3l.5 -.5v-2.4l.5 -.2v2.5l.5 .6v-4l.5 -.8v5.8l.5 -.5v-4.4l.5 .5v3.4l.5 -.8v-1.8l.5 0v1.7l.5 -.2v-1.3l.5 -.7v3.1l.5 .9v-4.9l.5 1.3v2.2l.5 1.3v-4.7l.5 -.8v5.1l.5 -.9v-2.4l.5 -.1v2.2l.5 2.3v-6.7l.5 -.2v7.8l.5 -2.2v-3.3l.5 -.1v2.8l.5 1.2v-4.9l.5 1.3v2.1l.5 .5v-2.6l.5 -.9v4.4l.5 .7v-6.9l.5 2.9v2l.5 .3v-3.3l.5 -1.3v6.8l.5 -2.1v-2.4l.5 -.7v3.4l.5 .3v-4.1l.5 .6v2.7l.5 .1v-2.9l.5 .4v2.1l.5 -.3v-1.8l.5 -.8v3.4l.5 -.6v-1.9l.5 -.2v2.1l.5 -.1v-2.4l.5 .5v2.1l.5 1.1v-3.7l.5 -.4v3.8l.5 .1v-4.1l.5 .2v3.3l.5 .1v-2.8l.5 .5v1.9l.5 .4v-3l.5 .3v2.2l.5 .3v-2.7l.5 -1v4.6l.5 .6v-5.7l.5 .7v4.2l.5 -.9v-2.3l.5 .4v1.7l.5 .4v-2.8l.5 -.9v4.4l.5 -.8v-2.6l.5 -1.8v6.1l.5 .4v-6.8l.5 1.9v2.7l.5 -.4v-1.7l.5 -.4v2.8l.5 -.2v-2.8l.5 .5v1.8l.5 .3v-2.4l.5 .3v1.8l.5 1.3v-4.1l.5 1.3v1.9l.5 .8v-3.7l.5 0v3.6l.5 -.8v-2l.5 -.7v3.3l.5 -.6v-2l.5 .2v1.7l.5 .1v-1.7l.5 0v1.5l.5 2.1v-5.2l.5 .8v2.3l.5 .3v-2.7l.5 -.3v3.5l.5 -.5v-2.1l.5 -1.3v4.4l.5 -.9v-3.2l.5 .2v3.4l.5 -.7v-2l.5 .3v1.5l.5 -0v-1.7l.5 -.9v4.2l.5 -1.1v-2.9l.5 .4v2.2l.5 .8v-3.5l.5 .1v2.7l.5 .2v-2.7l.5 .1v1.9l.5 .5v-2.1l.5 -0v1.9l.5 -.3v-1.8l.5 0v2.1l.5 .2v-2.4l.5 -.1v2.1l.5 1.8v-5.2l.5 1.1v2.1l.5 .9v-4.1l.5 -1v7.1l.5 -1.3v-4.2l.5 -0v3.5l.5 -.6v-2.3l.5 .5v1.5l.5 .5v-2.4l.5 -0v2.1M339 513.2V514.8l.5 -1.8v1.9l.5 -.1v-2l.5 .3v2l.5 -.2v-2l.5 -.8v3.2l.5 .6v-3.5l.5 .8v1.7l.5 -.3v-1.5l.5 -.3v2.7l.5 -.6v-1.9l.5 -.3v2.6l.5 -.3v-2.2l.5 .3v1.6l.5 1v-3l.5 .5v1.4l.5 1.2v-3.8l.5 1v2.1l.5 .5v-3.1l.5 -.5v3.8l.5 -1v-2l.5 -1.3v4.4l.5 -.2v-3.1l.5 .2v1.9l.5 .2v-1.8l.5 -.5v2.4l.5 -.2v-1.7l.5 -.9v3.6l.5 .1v-4.2l.5 1v2.5l.5 -.5v-1.7l.5 -.9v3.4l.5 .3v-3.3l.5 -.1v2.9l.5 .5v-3.3l.5 -.6v4l.5 .3v-4.2l.5 1.1v1.9l.5 .4v-3l.5 .6v1.8l.5 0v-1.6l.5 -1.6v4.5l.5 -1.6v-1.7l.5 .1v1.7l.5 .3v-2.2l.5 -.1v2.5l.5 -.3v-2l.5 -.6v3.1l.5 -.6v-2.1l.5 -.5v4.1l.5 -1.1v-2.6l.5 .5v1.7l.5 .3v-2.4l.5 -1v4.8l.5 -.5v-3.6l.5 -1v5.3l.5 -1.8v-1.5l.5 -.3v2.3l.5 -.3v-2.2l.5 .3v1.8l.5 .5v-3l.5 .5v2.3l.5 -.1v-2.3l.5 -2.3v7.3l.5 -0v-6.4l.5 .8v3.5l.5 -.4v-2.4l.5 -.5v2.5l.5 1v-4.3l.5 1.3v2.1l.5 .8v-3.7l.5 .7v2.3l.5 -0v-2l.5 -.2v2l.5 -0v-1.7l.5 -.2v1.9l.5 .9v-3.1l.5 .4v1.8l.5 .3v-2.4l.5 .4v1.6l.5 .3v-2.3l.5 -.5v3.4l.5 .4v-3.9l.5 .6v2.7l.5 -.1v-2.3l.5 -.7v3.7l.5 -1.2v-1.8l.5 .1v1.5l.5 .4v-2.4l.5 -.1v2.8l.5 .6v-3.9l.5 .6v2.4l.5 .1v-2.4l.5 .3v1.5l.5 .4v-2.1l.5 -.3v3.1l.5 -.4v-2.6l.5 -.3v2.3l.5 .5v-3.2l.5 .1v4l.5 -1v-2.7l.5 .2v2.4l.5 .7v-3.3l.5 -.3v3.3l.5 .1v-3.8l.5 .8v2.1l.5 -0v-2.4l.5 -0v3.6l.5 -.6v-3l.5 .4v1.9l.5 -.2v-1.5l.5 .1v1.4l.5 1.1v-3.8l.5 1.2v1.9l.5 1.7v-5.9l.5 1.5v3.2l.5 .1v-4l.5 1.6v1.3l.5 1.7v-4.2l.5 .4v3l.5 -.1v-2.5l.5 -.3v3.3l.5 0v-2.9l.5 .1v2.8l.5 -.8v-1.8l.5 0v1.5l.5 .2v-1.8l.5 -.4v2.5l.5 -0v-2.2l.5 -.1v2.5l.5 -0v-2.3l.5 -.4v3.2l.5 -.9v-1.5l.5 -1v3l.5 .6v-3.9l.5 0v3.9l.5 -.7v-2.5l.5 .9v1.2l.5 .1v-1.5l.5 -.4v2.1l.5 -.2v-1.7l.5 -.2v2.2l.5 .3v-2.5l.5 0v2.3l.5 0v-2.4l.5 .5v1.9l.5 -.2v-2l.5 -1v3.8l.5 -.4v-2.7l.5 .6v1.7l.5 .2v-2l.5 -.4v3.1l.5 .6v-4.4l.5 1.2v1.9l.5 1.3v-4l.5 .4v2.7l.5 -.3v-2l.5 -1.3v3.7l.5 -.7v-1.9l.5 -0v2.3l.5 .3v-2.9l.5 .4v2l.5 -.4v-1.5l.5 -1.3v4.5l.5 -.8v-2.5l.5 -.1v1.9l.5 .1v-1.6l.5 -1v3.7l.5 -1.1v-2l.5 0v1.9l.5 -.2v-1.4l.5 -1.3v4.2l.5 -.4v-3.3l.5 .7v1.7l.5 .7v-3.2l.5 .3v2.6l.5 -.3v-2.1l.5 -0v2.3l.5 .7v-3.4l.5 .3v2.4l.5 -.4v-1.5l.5 -1.6v3.9l.5 0v-3l.5 .5v1.6l.5 .4v-1.9l.5 -.4v2l.5 .7v-2.6l.5 -1.3v4.4l.5 -.9v-2l.5 .1v2.1l.5 -.1v-2l.5 -.1v1.9l.5 1.3v-4.4l.5 1v2.3l.5 .6v-3.5l.5 .8v2l.5 .1v-1.8l.5 -.5v2.1l.5 .5v-3l.5 .4v2.6l.5 -.5v-1.9l.5 0v2.1l.5 .2v-2.1l.5 -0v1.7l.5 .2v-1.9l.5 -.4v2.5l.5 -0v-3l.5 -.1v4.1l.5 -.9v-2.5l.5 .1v2.4l.5 .1v-3.5l.5 1.1v2.5l.5 -.4v-2l.5 -.7v3.5l.5 -.8v-1.9l.5 -.8v3.9l.5 -.7v-3l.5 .7v1.8l.5 .1v-1.8l.5 -1.7v4.4l.5 -.5v-2.8l.5 -.1v3.2l.5 .5v-4.4l.5 .1v4.3l.5 -1.1v-2.1l.5 .3v1.5l.5 .5v-2.5l.5 .6v1.6l.5 1.3v-4.6l.5 -.1v5.5l.5 -1.2v-3.3l.5 -.4v3.3l.5 .2v-2.9l.5 .5v2l.5 .4v-2.5l.5 .2v1.9l.5 1.4v-4.7l.5 1v3.4l.5 -0v-3.6l.5 .1v3.1l.5 0v-3.6l.5 .2v2.9l.5 -.2v-1.9l.5 .1v2.1l.5 .8v-3.9l.5 .7v2.2l.5 .4v-2.7l.5 .2v2.2l.5 .6v-3.2l.5 .2v2.8l.5 .1v-2.5l.5 -.2v2.7l.5 -0v-3.6l.5 .2v3.5l.5 .2v-3.8l.5 .5v2.8l.5 -.6v-1.4l.5 -1.5v3.9l.5 0v-2.8l.5 -1.1v5.1l.5 -.2v-5.3l.5 1.6v2.1l.5 .6v-3.3l.5 .5v2.3l.5 0v-2.4l.5 .1v2.1l.5 .9v-4.1l.5 .1v3.6l.5 .7v-4.2l.5 .8v2.1l.5 .9v-3l.5 -.4v3.5l.5 -.9v-1.8l.5 -.1v2.2l.5 .9v-4.2l.5 .9v2.2l.5 -.3v-2.1l.5 .3v2.2l.5 -.1v-2.1l.5 -.8v3.6l.5 -1v-1.7l.5 .1v1.4l.5 0v-1.4l.5 -.1v1.8l.5 0v-2l.5 -.8v4.2l.5 -1.5v-1.6l.5 -.8v4l.5 -1.5v-1.9l.5 -.2v2.1l.5 -0v-1.8l.5 -.9v3.6l.5 -.9v-1.7l.5 -.9v3.1l.5 .4v-3l.5 .6v1.8l.5 0v-2.3l.5 .4v1.8l.5 1.6v-4.9l.5 .4v3.5l.5 -.6v-2.2l.5 -.7v4l.5 -1.2v-1.6l.5 -.8v2.9l.5 -.4v-1.8l.5 -.1v1.7l.5 .3v-1.8l.5 .1v1.4l.5 .3v-2.2l.5 -.2v2.5l.5 -.1v-2l.5 -.7v4.2l.5 -2v-1.2l.5 -.1v1.6l.5 .9v-4.1l.5 .8v3.5l.5 -1.1v-1.7l.5 -1.3v3.8l.5 .2v-3.1l.5 -.6v3.6l.5 -.2v-3.5l.5 -1.7v7.1l.5 -1.5v-3.4l.5 .1v2.9l.5 0v-2.5l.5 .2v2.3l.5 -.5v-1.8l.5 -.3v2.4l.5 .6v-4.1l.5 -.2v4.8l.5 -1.2v-2.3l.5 -0v2.3l.5 .2v-3.2l.5 .5v2.6l.5 -0v-2.1l.5 -1.1v3.8l.5 -0v-4l.5 1.3v2.2l.5 -.1v-2.6l.5 .6v2.2l.5 -.5v-1.3l.5 -.6v1.9l.5 .6v-2.3l.5 -.2v2.1l.5 -.1v-1.7l.5 -.2v1.9l.5 -.1v-1.4l.5 -.3v2l.5 -.4v-1.5l.5 -.2v2.3l.5 -.1v-2.1l.5 -.4v2.6l.5 .4v-3.8l.5 .6v3.3l.5 -.5v-2.4l.5 .3v1.7l.5 -.2v-1.4l.5 -.1v1.8l.5 0v-2.5l.5 0v3.1l.5 -.9v-2.2l.5 -.7v4l.5 -.4v-3.5l.5 1.1v2l.5 -.1v-1.9l.5 -.4v2.8l.5 -.8v-1.3l.5 -.6v2.4l.5 .8v-3.8l.5 1.2v1.5l.5 .6v-2.7l.5 .6v2l.5 1.1v-4l.5 .7v1.8l.5 .6v-3.1l.5 .9v1.9l.5 .1v-2.5l.5 -.9v4.1l.5 .1v-4.1l.5 -1.7v7l.5 -2.1v-2.2l.5 -.1v1.9l.5 1v-3.8l.5 .3v3.2l.5 -.7v-1.6l.5 -1.2v3.1l.5 .4v-3.2l.5 .6v2.1l.5 -0v-2.6l.5 .5v1.8l.5 .9v-3.6l.5 .8v2.3l.5 -.3v-1.6l.5 -.1v1.7l.5 .1v-1.7l.5 -.7v3.2l.5 -.8v-2l.5 -.3v3l.5 -.7v-1.7l.5 -1.3v3.9l.5 .3v-3.6l.5 .6v1.8l.5 .6v-4.1l.5 1.7v1.9l.5 -0v-2.7l.5 0v2.7l.5 -0v-2.4l.5 -1v4l.5 -.8v-2l.5 -.5v3l.5 -.3v-1.9l.5 -.2v1.8l.5 1.8v-5.2l.5 1.6v2l.5 -0v-2l.5 -.3v2.2l.5 -0v-1.5l.5 -.2v1.7l.5 .3v-2.4l.5 -.9v3.7l.5 -.1v-2.9l.5 -.3v3.7l.5 -.8v-2.6l.5 -.2v2.7l.5 0v-2.4l.5 .2v1.9l.5 -.2v-2.2l.5 .6v1.6l.5 .2v-1.9l.5 .1v1.7l.5 .7v-3l.5 -1v4.5l.5 .1v-4.2l.5 .7v2.6l.5 .3v-3.3l.5 .5v2.9l.5 -.2v-3.5l.5 -0v4l.5 -.9v-2.2l.5 .2v2.1l.5 -.2v-2.3l.5 -2.1v6.4l.5 -.8v-4.6l.5 -.4v4.8l.5 1.6v-6.3l.5 1.2v2.6l.5 1.1v-5.9l.5 .6v5.6l.5 -.5v-4l.5 -1.1v5.9l.5 -.8v-4.1l.5 .6v3.5l.5 -1.2v-1.8l.5 -1v4.1l.5 -.7v-2.7l.5 -.8v3.8l.5 -.4v-2.9l.5 0v3l.5 .2v-3.5l.5 -.6v4.7l.5 -1.1v-2.5l.5 -2v6.5l.5 -1.9v-3.1l.5 -1.2v5.5l.5 -.7v-4l.5 .7v2.8l.5 -.5v-2.1l.5 -1.5v4.4l.5 -.8v-2.2l.5 .1v2.8l.5 -.1v-3.4l.5 -2.2v8.2l.5 -2.5v-3.9l.5 .6v3.1l.5 -0v-2.6l.5 -1.9v6.4l.5 -1.5v-3.8l.5 .6v2.7l.5 1v-4l.5 .5v2.1l.5 .6v-2.5l.5 -.9v3.7l.5 -.8v-2.3l.5 .2v2.2l.5 .2v-2.6l.5 0v3.1l.5 -.8v-2l.5 -0v2l.5 .9v-3.6l.5 .4v2.7l.5 1.1v-5.5l.5 1.2v4l.5 -.2v-4.5l.5 1.3v2.3l.5 -.1v-2.1l.5 -.5v3.6l.5 -.8v-2.7l.5 .3v2l.5 .2v-2.1l.5 .1v1.9l.5 1.7v-5l.5 1.6v1.6l.5 .8v-3.7l.5 -1.3v5.6l.5 -.9v-2.9l.5 -.7v4.4l.5 .2v-4.7l.5 .4v3.7l.5 -.8v-2.1l.5 -.5v3l.5 1.6v-5.8l.5 1.5v2.3l.5 .6v-3.5l.5 .7v2.2l.5 2.2v-6.3l.5 .9v4.6l.5 .3v-5l.5 1v2.6l.5 -.3v-2.1l.5 -.8v3.9l.5 -.7v-2.1l.5 -.3v2.4l.5 -.1v-2.3l.5 .3v2.2l.5 .2v-3.2l.5 .5v2.4l.5 .5v-3l.5 0v3l.5 -.7v-2.2l.5 .5v2.1l.5 -.6v-1.2l.5 -.2v1.7M728.5 513.2V514.9l.5 -1.6v1.5l.5 .6v-2.5l.5 .5v1.5l.5 1.4v-3.8l.5 -.9v5.6l.5 -.7v-4.3l.5 1.2v1.6l.5 -.2v-1.7l.5 .3v1.4l.5 .2v-2.2M766.5 513V515.1l.5 -1.7v1.5l.5 .5v-2.2l.5 0v2l.5 .5v-3l.5 -.7v4.3l.5 1v-5.9l.5 1.4v2.7l.5 -.8v-1.5l.5 .2v1.5l.5 .5v-2.2l.5 -.1v1.7M787.5 513.4V514.9l.5 -1.5v1.7l.5 -.3v-1.2l.5 -.6v2.2l.5 .6v-3.2l.5 -.2v3.9l.5 1.6v-7.2l.5 1.6v4.4l.5 -1.5v-1.9l.5 .1v1.6l.5 .2v-1.6l.5 .1v1.4l.5 .2v-2M814.5 512.8V515.1l.5 -1.8v1.4l.5 .3v-2.2l.5 .1v2.2l.5 .7v-4.5l.5 .8v3.3l.5 .7v-3.8l.5 -2.7v8.8l.5 -2v-4.4l.5 -1.5v6.5l.5 -1.7v-2.5l.5 -.1v2l.5 -0v-1.8l.5 .2v1.8l.5 -.1v-1.7M868.5 513.1V514.9l.5 -1.6v1.7l.5 .3v-2.5l.5 .1v2.1l.5 -0v-2l.5 -.1v2.5l.5 2v-6.4l.5 1.6v3l.5 .5v-3.9l.5 1.3v1.5l.5 -.2v-1.7l.5 .2v1.7l.5 .1v-1.7M929 513V515l.5 -1.6v1.7l.5 -.1v-1.9l.5 .2v1.9l.5 .3v-3l.5 -.7v6.2l.5 -.6v-6.1l.5 1.8v1.8l.5 .3v-1.7l.5 0v1.3l.5 -0v-1.7l.5 .5v1.1M972 513.3V515.3l.5 -2v1.7l.5 -.2v-1.6l.5 .1v1.9l.5 .8v-4.4l.5 -3v9.2l.5 3.7v-14.8l.5 5.3v4.6l.5 -.3v-4.9l.5 1.3v2.3l.5 -.2v-1.4l.5 -.4v1.9M984.5 513.2V515.3l.5 -1.8v1.5l.5 .2v-1.7l.5 -.3v1.7l.5 1.7v-5.7l.5 -.2v6l.5 6.1v-17.4l.5 3.7v10l.5 -4.2v-1.9l.5 -.2v2.3l.5 -.3v-1.3l.5 -.2v1.5M997 513.5V514.9l.5 -1.6v1.7l.5 .2v-2.1l.5 -.1v2.2l.5 1.8v-6.6l.5 -2.8v12.6l.5 -1.6v-9.8l.5 1.2v8.9l.5 7.3v-29.8l.5 8v21l.5 -1.3v-19.9l.5 4.9v10.3l.5 5.7v-22.8l.5 6.8v9.1l.5 6v-19.6l.5 4.9v8.2l.5 .2v-7.7l.5 2.9v2.2l.5 -.1v-2.1l.5 .4v1.5l.5 .3v-2.3" stroke="#0000ff" stroke-width="2.20" fill="none" stroke-linejoin="miter" stroke-miterlimit="1"/>
<path d="M138 545.5L1012 545.5" stroke="#008000" stroke-width="4.48" fill="none"/>
<path d="M138 542.8L1012 542.8" stroke="#008000" stroke-width="0.96" stroke-dasharray="2.0 0.5 0.5 0.5 1.0 0.5 0.5 1.5 2.0 1.0 1.5 1.0 1.0 1.0 1.0 2.0 1.0 2.0 0.5 1.5 2.0 1.0 1.5 2.0" stroke-dashoffset="18" fill="none" opacity="0.55"/>
<path d="M138 548.2L1012 548.2" stroke="#008000" stroke-width="0.96" stroke-dasharray="0.5 1.0 0.5 3.0 1.5 0.5 2.0 1.0 1.0 2.0 3.0 0.5 1.0 0.5 1.0 3.0 1.0 0.5 2.0 1.0 1.0 2.0 1.0 1.0" stroke-dashoffset="1" fill="none" opacity="0.55"/>
<path d="M138 543.7V547.4l.5 -3.8v4l.5 -.6v-3.5l.5 0v3.5l.5 1.7v-7.7l.5 2.6v4.1l.5 -.1v-4.4l.5 .3v3.5l.5 .3v-3.7l.5 -.4v4.2l.5 1.3v-6.8l.5 -.8v8.8l.5 -1.8v-5l.5 1.2v2.7l.5 -0v-3.1l.5 -3v8.3l.5 .3v-7.7l.5 1.7v3.9l.5 -.5v-3l.5 -.5v4.1l.5 -.1v-3.8l.5 -.6v5.9l.5 -1.6v-3.9l.5 .4v3.1l.5 2.3v-6.6l.5 -1.7v7.8l.5 .1v-6.6l.5 .1v6.6l.5 -1.6v-3.1l.5 -2.6v7.6l.5 -.5v-6.2l.5 2v2.5l.5 .8v-4.3l.5 .3v3.7l.5 -.3v-4.1l.5 1.2v2.2l.5 2.9v-7.2l.5 -2.2v10.3l.5 -1.8v-6.1l.5 -1v9.2l.5 -3.5v-3.5l.5 -.1v4.7l.5 1.2v-8.5l.5 2v4.9l.5 1.8v-8l.5 -1.3v8.6l.5 -.8v-4.9l.5 .9v2.8l.5 .5v-4l.5 .4v3l.5 -.1v-2.9l.5 -4.6v11.5l.5 -.7v-9.3l.5 1.4v5.8l.5 -.5v-3.6l.5 -.1v3.2l.5 -.1v-2.6l.5 -1v4.3l.5 -.8v-3.4l.5 -.7v5.4l.5 .9v-6.7l.5 -.9v6.5l.5 .9v-8l.5 3.4v2.4l.5 1.7v-5.1l.5 .5v2.7l.5 1v-4.9l.5 .2v5.3l.5 .3v-6.2l.5 .7v5.8l.5 2.6v-11.6l.5 -3.5v17l.5 -6.5v-2.3l.5 -2.7v8l.5 -3.4v-1.7l.5 -.7v3.5l.5 2v-7.4l.5 1.9v3l.5 0v-2.9l.5 -2.4v7.7l.5 .6v-8.2l.5 1.3v5.3l.5 -.7v-4.5l.5 -2v7.9l.5 -1.4v-4.6l.5 -1.4v7.2l.5 -1.2v-3.9l.5 -3.9v9.1l.5 1.5v-9.3l.5 2.5v4.6l.5 .6v-7.8l.5 -16.4v45.3l.5 -21.9v-5.1l.5 -.1v4.9l.5 .1v-5.3l.5 .3v5.2l.5 -.9v-3.9l.5 -.7v6.5l.5 -1v-4.6l.5 -1.6v8.4l.5 3.7v-16.4l.5 3.8v9.8l.5 -3.3v-3.7l.5 -4v11.2l.5 -3.5v-4.7l.5 -1.1v7.1l.5 -1.7v-3.7l.5 .5v2.6l.5 .8v-5.1l.5 1.4v3.5l.5 2.4v-9l.5 2v5l.5 -.7v-3l.5 -3.5v8.6l.5 -.9v-5.4l.5 1.1v3.8l.5 -.7v-3.2l.5 -1v4.5l.5 1.6v-8.9l.5 3.9v3.1l.5 .4v-3.8l.5 -.8v6.3l.5 -1.9v-3.3l.5 -1.3v5l.5 4.7v-13.9l.5 4v6.8l.5 -1.1v-4.9l.5 -2.9v9.9l.5 -2.3v-4.3l.5 -.8v7l.5 1v-9.2l.5 2.5v3.4l.5 1.9v-7l.5 .5v5.9l.5 4.1v-14.5l.5 2.4v9.8l.5 -3.5v-2.5l.5 -.5v3.8l.5 2v-8l.5 2.3v2.9l.5 .3v-3.2l.5 -1.7v6.4l.5 1v-7.6l.5 1v5.3l.5 -.3v-4.9l.5 1.3v2.1l.5 .5v-2.5l.5 -2.7v6.7l.5 4.9v-16.7l.5 3.8v10.4l.5 -3.9v-2.6l.5 -.2v2.7l.5 -.4v-2.3l.5 -5v12.2l.5 -1.4v-7.8l.5 1.6v3.2l.5 -.6v-1.6l.5 -2.2v6l.5 -.2v-5.2l.5 1.1v2.2l.5 2.4v-6.8l.5 2v3.1l.5 .7v-4.4l.5 .5v3.1l.5 1.6v-6.5l.5 1.5v4.5l.5 1.3v-7.9l.5 -18.5v41l.5 -16.1v-5l.5 -1.2v6.6l.5 .8v-9.2l.5 1v9.9l.5 -3.2v-4.5l.5 .4v3.6l.5 .7v-5l.5 -1.5v8l.5 -1.4v-5.1l.5 .6v3.9l.5 3.3v-9.1l.5 -.8v7.9l.5 -.1v-6.6l.5 1.2v4.7l.5 .5v-6.5l.5 1v4.1l.5 2.6v-8.3l.5 .9v6.5l.5 2.1v-11l.5 -2.4v16.2l.5 -5.3v-5.6l.5 .1v4.7l.5 -.3v-4.5l.5 -3.2v10.1l.5 -2.6v-3.2l.5 -1.8v6.8l.5 1.8v-9.8l.5 1.4v6.9l.5 -1.4v-4.9l.5 -1.3v8.8l.5 -3.4v-2.8l.5 -.7v4l.5 0v-4.4l.5 .1v4.5l.5 -.6v-3.4l.5 -.4v3.6l.5 .1v-3.9l.5 -2.2v8l.5 .6v-8.9l.5 3v3.4l.5 -.3v-2.9l.5 -.4v3.8l.5 2.4v-9.6l.5 4.1v2.8l.5 .5v-5.7l.5 1.7v3.8l.5 1.2v-6.1l.5 1.9v2.1l.5 2.6v-6.2l.5 -.6v6l.5 1.5v-8.2l.5 1.6v4.3l.5 1.4v-6.7l.5 1.9v2.7l.5 .5v-3.8l.5 -1.7v7.7l.5 -.5v-6.6l.5 1.2v3.3l.5 1.3v-6.3l.5 1.8v2.9l.5 2.3v-9.1l.5 1.5v6.9l.5 -.5v-4.4l.5 .7v3l.5 -.4v-2.5l.5 -1.1v4.6l.5 1.5v-8.1l.5 2.2v3.8l.5 .4v-4.1l.5 .4v3.3l.5 -0v-3.4l.5 -.8v4.6l.5 -.5v-3.1l.5 -3.1v8.1l.5 -1.4v-4l.5 -1.7v7.1l.5 -2.5v-2.9l.5 .4v2.7l.5 -.2v-2.3l.5 -1.7v6.6l.5 -.7v-8l.5 2v5.9l.5 -.2v-5l.5 .5v3.4l.5 2.6v-8.8l.5 -.7v9.3l.5 -2.4v-4.4l.5 1.2v2.7l.5 .1v-2.7l.5 -.1v2.6l.5 1v-4.1l.5 -.2v3.9l.5 2.5v-8.4l.5 3v2.9l.5 .1v-4l.5 .8v3l.5 1.8v-6.6l.5 1.3v3.9l.5 1.5v-6.5l.5 -1v7l.5 3.9v-12.8l.5 2.2v8.2l.5 -.2v-7.5l.5 -2.9v12l.5 -4v-3.8l.5 .5v3l.5 3.3v-9.2l.5 2.2v4.4l.5 .3v-4.2l.5 -2.1v9.5l.5 -3.5v-4.8l.5 -.4v6.4l.5 2.6v-11.2l.5 0v8.5l.5 -.7v-5.3l.5 1v4.4l.5 -.3v-4.9l.5 -1v7.3l.5 1.6v-8.9l.5 .6v5.8l.5 -.2v-6.2l.5 .6v6.1l.5 2.4v-11.4l.5 .6v10.5l.5 -2.1v-6l.5 -.1v6.5l.5 .4v-8.2l.5 .2v7.2l.5 1.4v-10.1l.5 4.4v2.4l.5 2.3v-8.8l.5 3.7v3.1l.5 -.2v-2.9l.5 -.8v6.1l.5 -.5v-6.2l.5 -1v7.7l.5 -1.8v-3.4l.5 .7v1.5l.5 1.1v-3.5l.5 -.3v3.7l.5 -.3v-2.6l.5 -4.6v10.6l.5 -3.7v-2.2l.5 -2v5.6l.5 4.1v-13.3l.5 2.6v7.2l.5 1.6v-9.2l.5 -.9v12.2l.5 4.4v-22.9l.5 -.8v21.8l.5 2.8v-28l.5 13.7v4l.5 11.1v-25.1l.5 6.6v11.2l.5 5.6v-23.2l.5 9.4v5.6l.5 -.8v-4.7l.5 -.4v5.5l.5 6.8v-17.1l.5 5.5v4.6l.5 -.6v-3.6l.5 -4.8v12.4l.5 -3.5v-4.5l.5 -.6v5.5l.5 6.8v-22l.5 10.8v3.2l.5 5v-12.7l.5 4v4.4l.5 1.5v-7l.5 -7v20.8l.5 -7.8v-5l.5 -1.4v7.5l.5 6.2v-18.3l.5 -4.4v26.2l.5 -5.2v-14.5l.5 -7.9v27.2l.5 -10.4v-4.6l.5 -11.5v24.5l.5 -.1v-19.1l.5 3.2v9l.5 1.4v-11l.5 -7.5v26.2l.5 1.3v-29.1l.5 11.3v7.4l.5 -3v-2.5l.5 -2.5v8.6l.5 4.2v-19.5l.5 6.9v8.1l.5 13.3v-34.4l.5 15.1v3l.5 3.5v-10.6l.5 -3.6v19l.5 -5.8v-8.2l.5 -5.9v21.3l.5 -5.4v-11.2l.5 3.7v3.5l.5 .2v-3.9l.5 -1.6v5.9l.5 8.9v-22.1l.5 6.3v9.2l.5 -2.3v-5.2l.5 -8.4v20.4l.5 -2.9v-13.2l.5 3.5v8l.5 4.9v-15.8l.5 -4.6v22.8l.5 -6.8v-10.8l.5 -10.1v28.5l.5 -5v-12.9l.5 3.4v4.5l.5 -.1v-4.6l.5 -52v109.4l.5 -54.5v-1l.5 -1.7v5.2l.5 .7v-6.8l.5 1.9v2.1l.5 -0v-2.2l.5 .6v1.7l.5 .3v-2l.5 -.3v2.1l.5 .2v-2.5l.5 -1v5l.5 .3v-5.8l.5 1.9v1.8l.5 .7v-3.1l.5 -3.1v9.1l.5 -3.6v-1.8l.5 0v2l.5 3.6v-9.1l.5 3.5v1.4l.5 1.8v-4.6l.5 1.1v2.1l.5 -.3v-1.5l.5 -0v1.6l.5 -.1v-1.6l.5 .1v1.7l.5 .2v-2.9l.5 1v1.5l.5 0v-1.7l.5 .2v1.6l.5 .4v-2.6l.5 .1v2.1l.5 .7v-2.8l.5 -1.1v4.5l.5 -.7v-3.2l.5 -.1v2.8l.5 -.1v-2.1l.5 .3v1.5l.5 .6v-2.9l.5 .8v1.3l.5 1.2v-3.5l.5 1v1.3l.5 .3v-1.6l.5 -.3v2.1l.5 .4v-3.1l.5 .9v1.6l.5 .5v-3.3l.5 1v1.9l.5 -.2v-1.6l.5 -.9v3.4l.5 -.3v-3.2l.5 .8v2l.5 -.1v-2l.5 .3v1.5l.5 .5v-2l.5 -.1v2l.5 -.2v-1.8l.5 -1.4v4.3l.5 .3v-4.8l.5 .2v4.2l.5 -.1v-3.5l.5 .9v1.7l.5 -.3v-1.1l.5 -.2v1.6l.5 .1v-1.8l.5 -.1v1.7M389 544.9V546.1l.5 -1.3v1.3l.5 .1v-1.3l.5 -.5v2.1l.5 -.3v-1.6l.5 -1.2v4.2l.5 .7v-5.6l.5 2.1v1.6l.5 .3v-2.1l.5 .1v1.5l.5 .4v-2.2l.5 .3v1.5l.5 -.1v-1.2M523.5 544.5V546.3l.5 -1.5v1.5l.5 -.1v-1.5l.5 .1v1.3l.5 .3v-1.6l.5 -1.7v4.8l.5 .3v-5l.5 .7v3.6l.5 -1.1v-1.7l.5 0v1.7l.5 -.1v-1.7M653 544.7V546.4l.5 -1.5v1.2l.5 .4v-2l.5 .2v1.5l.5 -0v-1.4l.5 -.4v2.1l.5 1.7v-5.8l.5 -.2v5.9l.5 .9v-6.9l.5 -.4v6.7l.5 -1v-4.1l.5 -3.3v11.1l.5 -2.1v-8l.5 2.8v3l.5 1v-5l.5 -.8v6.8l.5 -1.1v-4.8l.5 .6v3.7l.5 .4v-5.4l.5 .4v4.5l.5 1.7v-7.4l.5 1.5v5.1l.5 -.7v-3.8l.5 -2.8v8.2l.5 -.1v-7.4l.5 2.5v2.6l.5 3.5v-9.3l.5 .2v8.3l.5 -1.6v-5l.5 -1.6v7.4l.5 -.8v-5.8l.5 1.7v4l.5 1.2v-6.8l.5 1.7v3.6l.5 3.1v-9.1l.5 1.2v4.8l.5 -.1v-4.6l.5 1.1v3.2l.5 .5v-4.3l.5 .1v4l.5 .3v-4l.5 -1v4.4l.5 .3v-4.1l.5 .2v3.3l.5 .3v-3.4l.5 -.1v3.1l.5 -.7v-1.2l.5 -.4v2.1l.5 0v-2.1M726 544.7V546.2l.5 -1.2v1.1l.5 .1v-1.3l.5 0v1.2l.5 .2v-1.8l.5 -.4v2.7l.5 1.3v-5.3l.5 1.5v2.4l.5 .3v-2.9l.5 .5v1.7l.5 .3v-1.9l.5 -.1v2.1l.5 -.3v-1.5M805.5 544.6V546.3l.5 -1.5v1.5l.5 .1v-1.5l.5 -.4v2l.5 .9v-4l.5 .2v3.3l.5 1v-4.7l.5 .9v2.8l.5 -0v-2.7l.5 .8v1.3l.5 .1v-1.7l.5 0v1.5M849.5 544.7V546.3l.5 -1.4v1.2l.5 .2v-1.7l.5 .4v1.3l.5 .6v-2.8l.5 -1.8v6.1l.5 -.4v-5.1l.5 .4v5.3l.5 -2.3v-1.9l.5 .3v1.5l.5 .1v-1.7l.5 -0v1.8l.5 -0v-1.9M868.5 544.6V546.3l.5 -1.8v2l.5 -.3v-1.3l.5 -.2v1.6l.5 -.1v-1.4l.5 -1.7v4.8l.5 -1.1v-3l.5 .6v2.2l.5 -.2v-1.7l.5 0v1.6l.5 .3v-2M897.5 544.7V546.2l.5 -1.4v1.3l.5 .1v-1.4l.5 -.3v1.6l.5 1.8v-4.6l.5 .7v2.7l.5 -.4v-1.8l.5 -.4v2.7l.5 -.6v-1.7l.5 -3.6v8.2l.5 .9v-8.9l.5 1.8v4.6l.5 1.5v-7l.5 -1.5v9.1l.5 -3v-3.5l.5 .7v2.4l.5 -.2v-1.5l.5 -0v1.5l.5 2.1v-5l.5 .3v3.9l.5 -.3v-3.2l.5 .1v2.3l.5 .4v-3.6l.5 -.5v5.9l.5 5.9v-19.2l.5 2.3v15.6l.5 -1v-14.1l.5 4v5.3l.5 -.4v-4.4l.5 1v3l.5 -.3v-2.3l.5 -1.5v6l.5 -2.2v-3l.5 .1v3.2l.5 0v-2.7l.5 -5.5v12.5l.5 -3.7v-3.8l.5 -.1v3.4l.5 3.1v-9.5l.5 -4.1v17.4l.5 -.7v-17.5l.5 2.5v16.6l.5 -5.5v-7.2l.5 -4.5v14.5l.5 -5.1v-3.3l.5 .2v3.7l.5 1.9v-8.1l.5 -2.1v11.4l.5 0v-10.3l.5 -2.9v14.3l.5 -.1v-12l.5 .9v10l.5 4v-17l.5 4.5v7.3l.5 2v-11.3l.5 -1.5v13.4l.5 -4.1v-4.9l.5 -.2v5.2l.5 5.2v-13.5l.5 -0v13.4l.5 .1v-15.5l.5 6.8v2.1l.5 1.7v-5.1l.5 -2.9v9.1l.5 -1.7v-4.7l.5 -2v8.8l.5 -2.7v-3.3l.5 -.1v4.4l.5 .8v-7.4l.5 3v2l.5 4.3v-10.5l.5 2.6v5.7l.5 -1.9v-2.1l.5 .4v1.7l.5 1.4v-5.9l.5 -2.7v12.4l.5 -5v-2.6l.5 -2.7v7.9l.5 -1.6v-4.7l.5 1v3l.5 1.8v-5.8l.5 -4.4v14.9l.5 -4.2v-7.5l.5 -7.4v21.3l.5 1.5v-23.9l.5 4.8v13.5l.5 -3.9v-4.6l.5 -2.4v9.8l.5 -.8v-7.6l.5 -3.8v14.8l.5 -3.9v-8.7l.5 3v3.1l.5 3.3v-10l.5 4.1v2.7l.5 4.2v-11l.5 -.9v10.3l.5 3.6v-14.4l.5 2.5v8.9l.5 -3.3v-2.8l.5 -1.4v6.3l.5 4.1v-13.4l.5 -2.9v17l.5 -4.8v-6.4l.5 1.4v3.9l.5 1.8v-7.5l.5 2.2v2.3l.5 6.9v-15.2l.5 2.2v8.5l.5 3.6v-14l.5 -2.6v18.6l.5 -6.3v-5.4l.5 -2.5v10.2l.5 -1.6v-7.8l.5 3v2.8l.5 2.2v-7.8l.5 .3v6.7l.5 -1.7v-2.8l.5 -.2v3.6l.5 2.7v-7.6l.5 -3.7v13.2l.5 -1.2v-9.9l.5 4.1v1.9l.5 5.3v-11.8l.5 -.5v11.4l.5 -3.8v-3.6l.5 -2.9v10.3l.5 -3.5v-4.2l.5 -1.5v7.4l.5 -.2v-7.4l.5 3v1.6l.5 .2v-2.2l.5 .3v1.9l.5 -.3v-1.4l.5 -.1v1.8M967 544.4V546.5l.5 -1.8v1.6l.5 -.2v-1.2l.5 -.3v1.6l.5 .4v-2.6l.5 -1.1v5.2l.5 2.2v-9.9l.5 2.5v4.8l.5 -1.1v-2.2l.5 .3v1.6l.5 -.1v-1.6l.5 .3v1.1l.5 -0v-1.2M977 544.9V546.4l.5 -1.6v1.2l.5 .5v-1.7l.5 .1v1.3l.5 .5v-2.3l.5 -1v4.2l.5 3.9v-11.1l.5 3.3v3.4l.5 -.6v-1.9l.5 -.3v2.4l.5 -.1v-1.8l.5 .1v1.5l.5 0v-1.5M989 544.6V546.4l.5 -1.4v1.3l.5 0v-1.8l.5 -16.8v33.9l.5 -15.3v-1.4l.5 .2v1l.5 -0v-1.1" stroke="#008000" stroke-width="2.20" fill="none" stroke-linejoin="miter" stroke-miterlimit="1"/>
<path d="M138 577.3L1012 577.3" stroke="#000000" stroke-width="4.29" fill="none"/>
<path d="M138 574.8L1012 574.8" stroke="#000000" stroke-width="0.88" stroke-dasharray="2.0 1.0 1.0 1.0 3.0 1.0 1.5 2.0 1.0 1.0 1.0 0.5 2.0 3.0 1.0 2.0 0.5 1.0 1.0 0.5 1.0 0.5 1.0 0.5" stroke-dashoffset="18" fill="none" opacity="0.55"/>
<path d="M138 579.8L1012 579.8" stroke="#000000" stroke-width="0.88" stroke-dasharray="3.0 0.5 1.5 1.0 1.0 2.0 0.5 1.0 3.0 0.5 0.5 3.0 2.0 3.0 3.0 1.5 1.5 0.5 1.0 0.5 3.0 2.0 1.0 2.0" stroke-dashoffset="0" fill="none" opacity="0.55"/>
<path d="M151 576.3V578.2l.5 -1.5v1.2l.5 .3v-1.8l.5 .3v1.3l.5 .3v-1.6l.5 -.2v1.7l.5 2.2v-5.9l.5 1.7v2.4l.5 1v-5.2l.5 1v3.7l.5 -.9v-1.5l.5 .1v1.3l.5 .1v-1.8M192.5 576.5V578l.5 -1.6v1.5l.5 -.2v-1.3l.5 -.2v1.7l.5 0v-1.5l.5 -.5v2.3l.5 1.9v-5.5l.5 -1.1v7.3l.5 .1v-7.2l.5 2.5v1.7l.5 -.1v-1.1l.5 -.2v1.4l.5 -.1v-1l.5 -.2v1.3M448.5 576.6V578.1l.5 -1.5v1.2l.5 .2v-1.5l.5 .2v1.3l.5 .4v-2.2l.5 .2v1.5l.5 .8v-2.8l.5 0v2.5l.5 .6v-4.3l.5 1.4v1.8l.5 -.1v-1.6l.5 -.1v1.9l.5 1.5v-4.7l.5 .9v2.5l.5 .7v-4.1l.5 .8v2.6l.5 1.2v-4.5l.5 .8v2.7l.5 -.3v-1.9l.5 -.5v3l.5 3v-9.7l.5 2.3v5.5l.5 -1.3v-3.6l.5 -.4v4l.5 -1v-1.5l.5 -.4v2.8l.5 .8v-4.8l.5 2v1.1l.5 .4v-1.9l.5 -.4v2.5l.5 -.2v-2.3l.5 -.5v3.7l.5 2.5v-9.4l.5 2.2v5.4l.5 -1.7v-2.1l.5 .2v1.9l.5 -.5v-1.1l.5 -.1v1.1l.5 .4v-1.7l.5 -1v4.9l.5 -.8v-4.6l.5 1.7v1.4l.5 .2v-1.5l.5 0v1.3l.5 -.1v-1.1l.5 -.2v1.4l.5 -.1v-1.4M528 576.7V578l.5 -1.7v1.7l.5 0v-1.6l.5 .1v1.6l.5 -0v-1.5l.5 -0v1.5l.5 1.8v-4.7l.5 1.4v1.6l.5 .8v-3.1l.5 -1.5v5.2l.5 -1.3v-1.8l.5 -0v1.8l.5 .7v-2.8l.5 .3v1.4l.5 .5v-2l.5 -2v5.8l.5 -.8v-3.9l.5 .1v3.2l.5 -.1v-2.9l.5 -.1v3.1l.5 -.9v-1.1l.5 -.2v1.8l.5 .2v-2.4l.5 -2v5.9l.5 -1.3v-3.3l.5 1.2v1.4l.5 .6v-2.7l.5 -.5v3.4l.5 2.1v-7.1l.5 .9v5.2l.5 .8v-5.6l.5 -.3v4.8l.5 -.8v-3.4l.5 1v2l.5 1.2v-4.7l.5 -2.4v9.4l.5 -1.4v-6.3l.5 .8v4l.5 -.3v-2.7l.5 -1.9v6.6l.5 -.9v-4.8l.5 1.6v1.5l.5 1v-4.2l.5 1.8v1.3l.5 .2v-1.6l.5 .2v1.6l.5 1.5v-4.5l.5 1.5v1.3l.5 1.5v-4.2l.5 -.1v4.5l.5 -1.3v-2l.5 -1.4v5.4l.5 -2.4v-1.6l.5 -1.4v4.8l.5 -1.6v-1.6l.5 -.7v2.9l.5 -.8v-1.3l.5 -.5v1.8l.5 0v-1.4l.5 -2.3v6.2l.5 -.9v-4l.5 .9v1.5l.5 1v-3.7l.5 1.3v1.4l.5 .6v-2.5l.5 .6v1.4l.5 -.1v-1.4l.5 -.1v1.5l.5 .1v-1.6M661.5 576.7V577.8l.5 -1v1.2l.5 -.2v-1.1l.5 -.1v1.6l.5 -0v-1.6l.5 -.9v3.8l.5 4v-11.5l.5 .4v10.3l.5 -3.4v-3.6l.5 -1.1v6.5l.5 -2.8v-1.6l.5 0v1.8l.5 -.3v-1.4l.5 -0v1.6l.5 0v-1.8M685.5 576.7V577.8l.5 -1.4v1.4l.5 0v-1.1l.5 -.5v1.7l.5 4.2v-9.4l.5 -14.1v30.6l.5 -7.3v-9.8l.5 4.5v1.4l.5 -0v-1.6l.5 .4v1l.5 0v-1.1M848.5 576.6V578l.5 -1.4v1.7l.5 0v-1.9l.5 -1.1v4l.5 -.1v-3.7l.5 -.8v4.4l.5 1.3v-6.4l.5 .7v4.9l.5 -.9v-3.3l.5 1.3v1.3l.5 -.1v-1.4l.5 .2v1.1l.5 -.1v-1.1M881 576.5V577.9l.5 -1.3v1.7l.5 -.5v-1.2l.5 -.9v2.8l.5 1.3v-5.1l.5 1.1v2.6l.5 1.9v-6.3l.5 .7v5l.5 -.5v-3.8l.5 1.1v1.4l.5 -0v-1.4l.5 0v1.3l.5 -.1v-1M988 576.5V578.3l.5 -1.7v1.5l.5 -.2v-1.4l.5 -.4v2.5l.5 -.5v-1.9l.5 -.8v3.5l.5 2.6v-8.2l.5 -.3v7.6l.5 -1.6v-2.7l.5 -.3v2.8l.5 -.6v-1.3l.5 -.2v1.3l.5 .2v-1.6" stroke="#000000" stroke-width="2.20" fill="none" stroke-linejoin="miter" stroke-miterlimit="1"/>
<path d="M138 608.7L1012 608.7" stroke="#ff0000" stroke-width="4.48" fill="none"/>
<path d="M138 606L1012 606" stroke="#ff0000" stroke-width="0.96" stroke-dasharray="0.5 2.0 0.5 1.0 3.0 2.0 1.0 1.0 2.0 1.5 3.0 2.0 1.0 1.0 1.5 1.0 1.0 1.5 1.0 1.5 0.5 3.0 1.0 1.0" stroke-dashoffset="16" fill="none" opacity="0.55"/>
<path d="M138 611.4L1012 611.4" stroke="#ff0000" stroke-width="0.96" stroke-dasharray="1.5 2.0 1.5 1.0 1.0 3.0 1.0 1.5 1.0 1.5 0.5 1.5 1.0 1.0 3.0 1.0 1.0 1.5 0.5 0.5 1.5 1.0 2.0 3.0" stroke-dashoffset="5" fill="none" opacity="0.55"/>
<path d="M205.5 607.7V609.6l.5 -1.6v1.5l.5 -.1v-1.7l.5 .1v1.5l.5 .4v-1.6l.5 -4v8.8l.5 -3.3v-1.7l.5 -3.6v9.6l.5 -3.8v-2.4l.5 -.7v3.6l.5 5.5v-15.6l.5 3.3v10.2l.5 -2.9v-4.4l.5 1.2v1.8l.5 .1v-2.1l.5 -.6v3.5l.5 .8v-5.2l.5 -2.1v9.5l.5 -3.9v-1.6l.5 -1.1v3.2l.5 -.7v-1.6l.5 -5.2v11.9l.5 1.4v-13.1l.5 -2.4v15.9l.5 -1.8v-12.8l.5 .2v11l.5 10.8v-33.2l.5 11.4v11.9l.5 81.5v-162.8l.5 67v20.3l.5 -0v-87.3l.5 71.3v9.2l.5 2.6v-16.7l.5 1.8v15.4l.5 -2v-10.1l.5 -3.4v17.1l.5 -3.8v-13.2l.5 1.4v12.2l.5 .2v-13.4l.5 -19.9v56.5l.5 94.4v-200.8l.5 54.8v42.2l.5 -7.1v-21.4l.5 -4.3v26.4l.5 -2.2v-22.2l.5 -9.9v39l.5 -2.2v-36.3l.5 -3.6v48.7l.5 -4v-48.6l.5 15.9v22.1l.5 -.5v-19.7l.5 -7.4v30.8l.5 -4.7v-16.9l.5 -11.5v39.4l.5 -6.1v-25.7l.5 5.3v14l.5 14.4v-42.9l.5 11v17.2l.5 7.9v-26.1l.5 -3.6v33.9l.5 5.7v-55.5l.5 5v46.1l.5 -14v-13.5l.5 -4.4v26.1l.5 -9.8v-10.5l.5 2.8v5.5l.5 1.5v-8l.5 3.2v1.2l.5 .4v-1.8l.5 .3v1.4M245 607.9V609.5l.5 -1.6v1.5l.5 .1v-1.6l.5 -.1v1.6l.5 .4v-2.6l.5 0v3.3l.5 2v-7.8l.5 1.7v5l.5 -1.4v-2.3l.5 .2v1.8l.5 .1v-2l.5 .2v1.7l.5 -.1v-1.5M257 608.1V609.3l.5 -1.6v1.7l.5 .2v-1.8l.5 -.1v2l.5 4.4v-10.1l.5 -1.2v11.7l.5 -.7v-9.4l.5 -5.4v19.5l.5 -.6v-20.6l.5 5.4v13.5l.5 4.5v-26.8l.5 4.4v20.8l.5 -1.6v-19.6l.5 1.4v17.5l.5 5.2v-22.7l.5 -15.1v49.6l.5 .5v-41.5l.5 -16.5v60.4l.5 -8.6v-41.6l.5 -8.9v55.5l.5 -5.1v-37.9l.5 -118v288.4l.5 -142.1v-20l.5 .4v16.2l.5 1.6v-16.1l.5 .9v15.3l.5 1.3v-17.2l.5 -5.9v26.9l.5 -6.1v-12.2l.5 -5.8v18.5l.5 -2.5v-9.4l.5 -4.7v18.1l.5 48.8v-106.5l.5 45.7v6.5l.5 .3v-7l.5 -2.8v12.4l.5 -.1v-10.6l.5 -.9v11.3l.5 -.5v-10.7l.5 -10v25.7l.5 1.9v-27.3l.5 -4v36.5l.5 -12v-12.6l.5 -6.6v28.6l.5 -3.3v-20.4l.5 -8.1v38.4l.5 -13v-21.1l.5 -26.8v83.3l.5 -20.9v-43.5l.5 -.4v45.2l.5 1.5v-50.3l.5 14v22.5l.5 15.5v-51.8l.5 13.2v20.2l.5 3.7v-28.1l.5 5.2v20.1l.5 12.9v-48.5l.5 13.4v22.5l.5 .5v-20.3l.5 -1v21.1l.5 4.4v-29.7l.5 4.4v24.6l.5 -.8v-28.1l.5 -17.2v54.6l.5 -2.8v-42.1l.5 11.8v22.7l.5 -.3v-20.7l.5 -101v210.2l.5 -91.2v-17.2l.5 -20.1v52.2l.5 -5.9v-40.3l.5 14.9v14.5l.5 6.8v-28.9l.5 -9.5v44.5l.5 -12.8v-18.5l.5 -17.8v53.5l.5 -6.7v-41.3l.5 2.4v50.8l.5 -18.8v-26.7l.5 -14.7v50.6l.5 -10.1v-23.9l.5 -27.5v83.5l.5 -21.3v-43.1l.5 10.2v24.4l.5 -3.2v-18.9l.5 1.9v13.9l.5 -1v-10.9l.5 -4.7v17.8l.5 -5.6v-4.4l.5 1.4v1.5l.5 -.1v-1.2l.5 -.2v1.5M303.5 608V609.7l.5 -1.8v1.5l.5 -0v-1.5l.5 0v1.5l.5 1.4v-4.9l.5 1.5v2.4l.5 2.5v-7.4l.5 -1v9.6l.5 -2.2v-5.5l.5 1v4l.5 -.4v-3.6l.5 1.2v1.4l.5 .2v-2.1l.5 .3v1.4l.5 .1v-1.3M320 608.1V609.3l.5 -1.3v1.7l.5 -.1v-1.5l.5 -.2v1.5l.5 .6v-2.5l.5 -1.9v6.1l.5 .2v-7.9l.5 -.1v9.8l.5 -2.7v-4.2l.5 1v1.7l.5 -0v-1.4l.5 -.2v1.6l.5 -.1v-1.4l.5 -.1v1.3M350 607.7V609.5l.5 -1.6v1.4l.5 .3v-1.8l.5 .2v1.6l.5 .4v-2.4l.5 -3.6v9.2l.5 1.5v-10.6l.5 -1.7v12.6l.5 -.2v-11.7l.5 3.8v4.6l.5 -2.1v-1.6l.5 0v1.4l.5 .1v-1.5l.5 -0v1.5l.5 -.2v-1.1l.5 -.2v1.8l.5 -.2v-1.8l.5 -3.7v8l.5 -2.7v-1.6l.5 -2.3v7.4l.5 -2.9v-2.4l.5 -.2v3.3l.5 -.9v-2l.5 -.3v2.3l.5 5.5v-13.4l.5 5.5v2.7l.5 .6v-3.7l.5 .7v1.9l.5 .6v-2.8l.5 -5.5v13.6l.5 -2.9v-8.6l.5 1.9v6.7l.5 -2.9v-1.7l.5 -6.4v14.2l.5 -5.8v-2l.5 -.2v2.4l.5 .1v-2.9l.5 .3v2.4l.5 -.3v-1.7l.5 0v1.6l.5 4.3v-10.3l.5 3.6v3.7l.5 2.7v-9.9l.5 2.8v4.6l.5 5.1v-14.4l.5 1.6v9.7l.5 -2.8v-3.6l.5 -1.1v5.1l.5 -1.3v-1.5l.5 -5.4v11.2l.5 -2.1v-5.8l.5 1.3v2.9l.5 5v-11.1l.5 1.5v7.5l.5 -3.3v-1.9l.5 -2.2v6l.5 -1.2v-3.8l.5 1.3v1.7l.5 .1v-1.9l.5 -1.6v4.4l.5 -1.3v-1.5l.5 -0v1.7l.5 -.2v-1.3M385.5 607.9V609.4l.5 -1.8v1.8l.5 -.2v-1.3l.5 -14.4v34.7l.5 -19.1v-1.3l.5 .1v1.3l.5 .1v-1.4M429 608.1V609.6l.5 -1.9v1.9l.5 -0v-1.7l.5 -0v2l.5 0v-2.2l.5 0v2.4l.5 2v-6.7l.5 2v2.4l.5 -0v-2.5l.5 .5v1.8l.5 -.3v-1.4l.5 .2v1.3l.5 .3v-1.9M455 608V609.2l.5 -1v1.3l.5 -.1v-1.3l.5 -.9v2.8l.5 1.4v-5.7l.5 2.2v2.1l.5 1.2v-4.4l.5 -33.7v69.3l.5 -30.9v-4.9l.5 -4.2v13.8l.5 2.6v-16.8l.5 2.7v8.5l.5 1.2v-9.1l.5 -.9v8.6l.5 4.9v-17.4l.5 5.8v4.6l.5 6.5v-15l.5 4.8v3.9l.5 .3v-4.5l.5 .2v4.3l.5 3.3v-9.7l.5 -4.9v15.8l.5 1.4v-14l.5 3.4v4.7l.5 .5v-5.1l.5 -1.5v7.6l.5 62.1v-128.6l.5 59v8.1l.5 -.9v-6.3l.5 -1v6.3l.5 .9v-7l.5 -0v7.7l.5 3.3v-14.7l.5 3.1v7.7l.5 2.2v-10.1l.5 3.2v2.7l.5 -0v-2.4l.5 -.2v2.7l.5 2.1v-6.3l.5 -.1v5.5l.5 -1.3v-3.3l.5 -.3v3.7l.5 6.8v-14.3l.5 4.3v3.6l.5 -.3v-3.4l.5 -.9v6.2l.5 -1.9v-2.9l.5 -25.5v53.3l.5 -.3v-54l.5 25.7v3.5l.5 2.1v-7.7l.5 1.7v4.3l.5 1.3v-7.3l.5 2.8v2.5l.5 .7v-4l.5 -1.1v5.6l.5 1.3v-7.1l.5 1.6v3.8l.5 1.2v-7.1l.5 1.9v3.9l.5 .7v-4.8l.5 -5.4v14.3l.5 .4v-13.2l.5 1.3v9.8l.5 -3.2v-3.9l.5 .5v3.6l.5 6.3v-14.6l.5 4.4v3.7l.5 .5v-4.5l.5 -3.5v12.2l.5 -1.7v-8.1l.5 -11.3v30l.5 5.5v-41.7l.5 15.1v13.3l.5 -2.6v-11.8l.5 -2.3v17.2l.5 3.5v-21.5l.5 4.4v9.3l.5 -.7v-5.7l.5 -.6v5.6l.5 1.2v-7.3l.5 -4.6v16.9l.5 -3.1v-9.3l.5 -1.6v11.9l.5 -1.2v-11.9l.5 -1.8v18.5l.5 -5.6v-9l.5 2.5v4l.5 1.5v-6.7l.5 -.3v7.1l.5 .5v-7.3l.5 -7.6v20.6l.5 -4.3v-11.4l.5 -2.2v17.2l.5 1v-19.5l.5 -89.7v208.1l.5 -104.8v-6.7l.5 -2.7v10.3l.5 -2.6v-5.2l.5 -3.3v11.6l.5 3.6v-18.2l.5 6.3v7l.5 -.8v-7.9l.5 -4.1v17l.5 -3.6v-9.5l.5 -7.6v20.4l.5 -5.5v-5.8l.5 1.4v3.9l.5 4.4v-14.1l.5 4.4v6.5l.5 1.9v-11.7l.5 3.1v5.7l.5 3.4v-11l.5 -.7v13l.5 -5.5v-3.8l.5 -5.6v12.6l.5 -0v-11.1l.5 4.4v3.3l.5 .6v-4.5l.5 -.5v5.7l.5 .6v-6.8l.5 1.9v3.2l.5 3.3v-11l.5 -.2v11.9l.5 1.8v-13.2l.5 -49.1v98l.5 -38.5v-8.2l.5 -50.6v96.8l.5 -39v-7.9l.5 2v4.2l.5 .1v-4.4l.5 -7v16.9l.5 -5.3v-5.6l.5 1.1v4.1l.5 4.5v-13.4l.5 -2.1v15.7l.5 -.7v-12l.5 -2.8v16.1l.5 -3.2v-7.9l.5 1.5v3.9l.5 2.3v-8.1l.5 -1.1v10.7l.5 -2.8v-5.4l.5 -1.9v10l.5 -3.3v-5l.5 .7v5.2l.5 2.7v-10.4l.5 -1.5v14.3l.5 3.2v-19.9l.5 3.1v11.5l.5 -3.8v-4.7l.5 -2.7v8.7l.5 3.7v-17.6l.5 7.5v6.3l.5 .3v-8l.5 1.4v6.2l.5 2.5v-13.6l.5 5.4v4.1l.5 3.8v-13l.5 1.5v11.2l.5 5v-18.4l.5 .5v16l.5 1.8v-22.3l.5 -6.6v44.1l.5 1.2v-48.3l.5 -0v45l.5 -8.1v-37.2l.5 -55.9v159.2l.5 -74.3v-15.7l.5 -92.7v193.3l.5 -81v-23.1l.5 2.8v16.3l.5 -1.3v-12.8l.5 3.2v6.6l.5 3v-12l.5 .7v13.9l.5 -6v-5.6l.5 -3.3v11.5l.5 -1.8v-6.2l.5 -2.3v10.2l.5 6.2v-20.8l.5 5.2v8.2l.5 6.2v-19.6l.5 2.4v18.2l.5 2.4v-26.6l.5 .7v25.6l.5 -2v-20.4l.5 3.7v12.7l.5 3.9v-20.6l.5 -8.9v36l.5 1.5v-37.9l.5 10.9v14.4l.5 9v-29.4l.5 -68.9v181.8l.5 .7v-182.2l.5 66.3v29.7l.5 -7.1v-13l.5 -9.6v36.3l.5 -10.8v-17l.5 -1.4v15.8l.5 1.1v-14.4l.5 -16.1v41.7l.5 86.4v-208.1l.5 -.4v207l.5 -87.8v-32.6l.5 10.4v11.6l.5 2v-13.8l.5 -6.9v25.9l.5 -3.1v-17.8l.5 1.9v11.8l.5 16.6v-43.7l.5 16.2v11.9l.5 3.2v-20.3l.5 -128v274.5l.5 .8v-276.1l.5 130v18.7l.5 1.4v-20.9l.5 -9.4v36l.5 5.9v-39.4l.5 11.6v10.1l.5 3v-15.3l.5 1.5v12l.5 -.6v-9l.5 -1.4v10.1l.5 .8v-12.1l.5 1.3v12.1l.5 4.5v-19l.5 -5.9v22.7l.5 -5.5v-7.4l.5 -1v9.2l.5 -.9v-6.9l.5 -8.1v22.5l.5 -5.6v-10.2l.5 1.1v6.8l.5 3.1v-11.3l.5 .3v7.7l.5 1.4v-9.6l.5 3.1v4.4l.5 1.3v-7.5l.5 1.1v5.4l.5 2.2v-10.2l.5 -6.7v22.5l.5 -7.3v-6.8l.5 -1.8v10.6l.5 24.8v-62l.5 30.3v3.7l.5 6.5v-17.1l.5 -5.4v28.7l.5 -.6v-24.9l.5 -.2v27.1l.5 -9.1v-18.2l.5 .5v20.9l.5 -1.7v-17.3l.5 -.3v16.4l.5 2.5v-21l.5 -19.7v63.1l.5 -20.6v-24.9l.5 .7v24.5l.5 2.9v-27.7l.5 -64.1v104.2l.5 .4v-60.4l.5 9.5v53.9l.5 -10.3v-46.5l.5 -109.8v302l.5 .5v-302.8l.5 118.4v36.8l.5 -1.1v-43.5l.5 4.7v46.6l.5 -13.7v-20.1l.5 -7.3v33.5l.5 14.4v-58.5l.5 -39.6v117.3l.5 -30.2v-39.2l.5 -47.2v118l.5 -21v-62.6l.5 15.4v28.4l.5 10.3v-46.6l.5 11.1v23.5l.5 -2v-21.6l.5 3.4v15.6l.5 -2.7v-8.7l.5 .2v7.8l.5 8.8v-25.3l.5 9.6v7.3l.5 -.1v-6.8l.5 -2.7v10.2l.5 8.7v-24.3l.5 4.3v11l.5 -.2v-9.5l.5 1.3v6.8l.5 21.1v-45.5l.5 18.1v6.5l.5 6.1v-20.4l.5 3.8v13.5l.5 -.5v-12.4l.5 2.9v6.7l.5 2v-12.2l.5 3.1v8.1l.5 1.5v-10l.5 -9.1v25.6l.5 43v-114.7l.5 52.4v15.6l.5 46v-114l.5 52.6v14.2l.5 11.5v-35.1l.5 6.5v17.8l.5 7.1v-32.8l.5 4.2v30.2l.5 -11.6v-9.3l.5 -1.9v11.2l.5 3.9v-16.9l.5 2.9v12.4l.5 4.9v-24.2l.5 5v14.3l.5 -1.2v-12.5l.5 1.2v12l.5 -1.5v-11.5l.5 -.9v13.5l.5 6.4v-26.5l.5 5.5v15.8l.5 11.8v-36.8l.5 9.8v15.3l.5 .5v-16.3l.5 3.3v11.4l.5 2.3v-18.8l.5 -.2v17.7l.5 1.7v-17.7l.5 3.2v11.2l.5 3.1v-17.7l.5 -4v22.1l.5 -3.2v-15.9l.5 4.8v8.9l.5 3.2v-14.1l.5 3.2v8.1l.5 -1.3v-5.4l.5 -1.6v9.1l.5 -1.4v-6.7l.5 -.1v7.9l.5 .6v-10.7l.5 3.5v4.2l.5 -.7v-2.8l.5 -.7v4l.5 -.3v-3.7l.5 -.3v4.3l.5 -.8v-2.6l.5 -2v6.1l.5 -1.5v-3l.5 -.8v4.3l.5 90.5v-167.6l.5 .6v166.7l.5 -90v-4.4l.5 -1.8v8.7l.5 1.7v-13l.5 .2v13.6l.5 -1.9v-9.3l.5 1.4v5.5l.5 3.5v-13.2l.5 4.6v4.3l.5 1.2v-5.9l.5 .6v3.7l.5 .6v-4.4l.5 -.2v5.8l.5 -1.3v-4.5l.5 -5v15.9l.5 -1.3v-14.5l.5 .4v12.8l.5 -2.9v-6.2l.5 -.2v8.4l.5 .5v-10.6l.5 3.5v3.3l.5 -.7v-2.2l.5 -.2v2.7l.5 1.6v-7l.5 2.3v3.9l.5 -.9v-2.8l.5 -.8v3.6l.5 .3v-3.3l.5 -3.6v10.4l.5 -3.6v-3.1l.5 -1.9v6.5l.5 -1.5v-3.4l.5 -2.2v6.6l.5 -.5v-3.6l.5 -5.1v14.8l.5 -4.7v-6.6l.5 -17.6v42.5l.5 -19.9v-3.7l.5 -3.7v13.5l.5 11.3v-40l.5 19.5v2.4l.5 -.1v-2.8l.5 -1.8v6.7l.5 -1.5v-3l.5 -1.5v5.6l.5 .4v-6.5l.5 -1.9v11l.5 -1v-9.1l.5 2.8v3l.5 3.7v-12.3l.5 1.6v11.4l.5 -1.9v-7.2l.5 1.5v3l.5 .8v-5.3l.5 1.3v3.8l.5 26v-59l.5 25.6v10.7l.5 23.4v-59.8l.5 27.4v6.7l.5 1v-8.6l.5 -3.2v17.5l.5 -6.4v-7.1l.5 -1.3v10.4l.5 -2.3v-5.2l.5 -2.8v9.3l.5 3v-16.4l.5 -0v18.2l.5 -3.9v-13.8l.5 2.7v10.7l.5 -2.6v-3.9l.5 -.3v3.4l.5 5.7v-16.3l.5 6.6v6.5l.5 14.4v-51.2l.5 31.4v3.2l.5 .5v-5.3l.5 -29.6v50.7l.5 -12.8v-10.6l.5 2.5v6.2l.5 1.2v-7.7l.5 -1.7v9l.5 -1.1v-5.2l.5 -.8v5.3l.5 .7v-6.5l.5 1.3v4l.5 3.3v-11.5l.5 -1.5v14.3l.5 -2.9v-6.8l.5 1.3v3.8l.5 -.4v-3l.5 -.1v2.8l.5 1.6v-6.7l.5 -1v9.9l.5 -1.5v-6l.5 -3.4v11.1l.5 2.6v-14.3l.5 -.2v12.7l.5 1.4v-13.5l.5 -1.2v15.2l.5 -5v-6.2l.5 .6v5.7l.5 17.3v-41l.5 16.6v9.7l.5 13.7v-40l.5 16.3v8.7l.5 -2.8v-2.9l.5 -1.7v6.5l.5 -2v-2.9l.5 -.8v4.7l.5 1v-7.3l.5 -2.8v11.5l.5 .5v-11l.5 3.6v4.4l.5 1.5v-7.1l.5 .1v5.8l.5 1.8v-8.7l.5 -.8v9.4l.5 -1.6v-4.3l.5 -8.6v20.3l.5 -5.6v-10.2l.5 2.6v6.3l.5 .2v-5.9l.5 -1.3v7.7l.5 3.7v-13.7l.5 2.4v6.6l.5 2.2v-10.5l.5 -.8v12.6l.5 .4v-13.2l.5 4.1v5.4l.5 1.2v-9.5l.5 -2.6v16.9l.5 2v-20.7l.5 4.3v10.6l.5 -1.4v-7.2l.5 .3v6.5l.5 .3v-7l.5 -.3v7.1l.5 -.8v-4.1l.5 -1.1v4.8l.5 3.8v-10.5l.5 2.1v6.5l.5 6.7v-22.7l.5 -2.1v32.4l.5 -7.2v-27.5l.5 .3v31.2l.5 -4.1v-18.8l.5 .4v16.5l.5 3.4v-24.4l.5 -4.7v33.6l.5 -6.4v-22.8l.5 1.2v21l.5 5v-33.6l.5 -9.9v50.2l.5 -8.5v-30.6l.5 7.9v19.7l.5 -.3v-20l.5 -3.5v26.1l.5 -2.5v-18.4l.5 1.7v12.8l.5 1.5v-18.3l.5 -2.4v23l.5 21.5v-61.3l.5 17.2v26.1l.5 -6.8v-13.8l.5 -8v28.8l.5 -6.9v-14.3l.5 -7.2v29l.5 17.2v-60l.5 19.3v18.7l.5 12.3v-39.5l.5 4.9v25.6l.5 -1.2v-21.4l.5 -.3v26.4l.5 -10.7v-10.5l.5 -52.8v141.7l.5 -71.2v-25.7l.5 7v11.2l.5 1.5v-12.3l.5 -1.3v13.9l.5 -2.4v-8.8l.5 .5v8.1l.5 3.2v-15.4l.5 3.1v11.9l.5 -3.8v-8l.5 -.8v11.7l.5 -2.1v-7l.5 -4.1v16.6l.5 -.2v-16.8l.5 4v8.3l.5 .3v-10.7l.5 -32.3v74l.5 -33.4v-5.6l.5 -2.2v9.6l.5 -.4v-7.7l.5 -4.4v14.4l.5 -5.4v-2.4l.5 -.2v3.4l.5 -.1v-3.5l.5 -36.9v74.4l.5 -29.6v-12l.5 2.4v7.5l.5 .5v-9.2l.5 -2.3v11.9l.5 -3.1v-3.4l.5 -2.4v9.6l.5 -3.3v-4.3l.5 -1.7v9.3l.5 -1.1v-8.3l.5 -1.9v9.7l.5 1.5v-11.2l.5 2.6v7l.5 12.6v-32l.5 12.4v7.1l.5 .7v-8.7l.5 .4v8.8l.5 -3.6v-2.9l.5 -2.4v7l.5 -1.7v-3.1l.5 -3.2v9.7l.5 -2.9v-3.9l.5 -1.4v7.6l.5 -1.2v-8.2l.5 2.1v5.5l.5 1v-7.5l.5 -2.4v12.5l.5 -2.5v-7.3l.5 1.3v5l.5 .3v-6.3l.5 -8.4v23.5l.5 -6.1v-10.4l.5 -1.1v12.2l.5 5.6v-24.3l.5 -6.3v37.1l.5 -4.9v-26.1l.5 -0v28.7l.5 -6.3v-18.7l.5 1.5v16l.5 -.8v-14.2l.5 -2.6v17.6l.5 9.4v-29.6l.5 1.2v19.7l.5 .4v-20.2l.5 -6.5v35.9l.5 -4.2v-30.8l.5 -105.9v259.4l.5 -120.6v-33.2l.5 -2.8v37.4l.5 -10.7v-14.7l.5 -7.7v32l.5 -4v-26.1l.5 1.1v27.6l.5 -10.3v-10.9l.5 -9.2v26.7l.5 4.7v-29.2l.5 -2.1v24.5l.5 -4.2v-10.3l.5 1.1v6.1l.5 .6v-7.6l.5 .4v7.7l.5 2.6v-16l.5 2.7v12l.5 -.9v-8.6l.5 .3v8.1l.5 -2.5v-3.4l.5 -27.7v54.1l.5 -23.7v-1.8l.5 -.2v1.6l.5 .4v-1.9M813 608V609.3l.5 -1.5v1.7l.5 0v-1.5l.5 -.1v1.4l.5 2.1v-5l.5 .9v2.6l.5 2.1v-6.7l.5 -.1v6.4l.5 -1.3v-3.3l.5 0v2.8l.5 -.2v-2l.5 .4v1.2l.5 .1v-1.2M960.5 608.1V609.5l.5 -1.6v1.2l.5 .3v-1.8l.5 .3v1.4l.5 .5v-2l.5 -1.6v4.8l.5 -.9v-2.7l.5 .4v1.5l.5 0v-1.3l.5 -.2v1.6l.5 -.2v-1.7" stroke="#ff0000" stroke-width="2.20" fill="none" stroke-linejoin="miter" stroke-miterlimit="1"/>
<path d="M138 640.4L1012 640.4" stroke="#0000ff" stroke-width="4.10" fill="none"/>
<path d="M138 638L1012 638" stroke="#0000ff" stroke-width="0.80" stroke-dasharray="1.0 1.0 1.5 2.0 0.5 1.0 2.0 3.0 0.5 1.0 1.0 3.0 1.0 1.5 1.5 0.5 1.0 1.0 1.5 1.0 3.0 0.5 3.0 0.5" stroke-dashoffset="5" fill="none" opacity="0.55"/>
<path d="M138 642.8L1012 642.8" stroke="#0000ff" stroke-width="0.80" stroke-dasharray="2.0 1.0 3.0 1.0 0.5 1.5 2.0 1.0 1.5 1.0 1.0 1.0 2.0 1.0 1.0 1.0 0.5 0.5 0.5 1.0 1.0 1.0 3.0 2.0" stroke-dashoffset="14" fill="none" opacity="0.55"/>
<path d="M138 672L1012 672" stroke="#008000" stroke-width="4.10" fill="none"/>
<path d="M138 669.6L1012 669.6" stroke="#008000" stroke-width="0.80" stroke-dasharray="1.0 2.0 1.5 3.0 1.0 0.5 0.5 0.5 0.5 0.5 1.0 2.0 1.0 3.0 1.5 3.0 1.0 1.5 2.0 1.0 1.0 1.0 0.5 1.0" stroke-dashoffset="17" fill="none" opacity="0.55"/>
<path d="M138 674.4L1012 674.4" stroke="#008000" stroke-width="0.80" stroke-dasharray="1.5 0.5 1.0 1.5 2.0 2.0 1.5 3.0 1.5 1.0 2.0 1.5 3.0 1.5 1.0 3.0 0.5 2.0 1.5 1.0 1.0 1.0 1.0 2.0" stroke-dashoffset="7" fill="none" opacity="0.55"/>
<path d="M138 703.6L1012 703.6" stroke="#000000" stroke-width="3.91" fill="none"/>
<path d="M138 701.3L1012 701.3" stroke="#000000" stroke-width="0.72" stroke-dasharray="1.0 1.0 2.0 0.5 1.0 1.0 1.0 3.0 0.5 1.5 3.0 0.5 3.0 1.5 2.0 0.5 0.5 0.5 1.0 1.0 1.0 1.0 1.0 2.0" stroke-dashoffset="13" fill="none" opacity="0.55"/>
<path d="M138 705.9L1012 705.9" stroke="#000000" stroke-width="0.72" stroke-dasharray="3.0 0.5 2.0 0.5 3.0 1.5 1.0 3.0 3.0 1.5 0.5 3.0 0.5 1.0 1.0 2.0 1.0 1.0 1.0 1.0 3.0 1.0 3.0 3.0" stroke-dashoffset="5" fill="none" opacity="0.55"/>
<path d="M235 702.9V704l.5 -1.1v1.1l.5 .1v-1l.5 -5.2v11l.5 -4.9v-1l.5 -8.3v17.2l.5 -7.7v-1.2l.5 -6.1v13l.5 -5.8v-1.2l.5 .1v1.2l.5 -.3v-.8M635 703V704.2l.5 -1.5v1.7l.5 -.4v-1l.5 0v.8l.5 .2v-1l.5 -.8v2.6l.5 1v-4.5l.5 1.3v1.7l.5 -0v-1.3l.5 -.2v1.6l.5 -.2v-1.2l.5 -.1v1.2l.5 -.1v-.9" stroke="#000000" stroke-width="2.20" fill="none" stroke-linejoin="miter" stroke-miterlimit="1"/>
<path d="M138 735L1012 735" stroke="#ff0000" stroke-width="4.10" fill="none"/>
<path d="M138 732.6L1012 732.6" stroke="#ff0000" stroke-width="0.80" stroke-dasharray="1.0 1.5 1.0 1.5 1.5 1.0 1.5 0.5 3.0 2.0 2.0 0.5 2.0 0.5 2.0 1.5 1.0 2.0 3.0 1.5 0.5 3.0 1.5 3.0" stroke-dashoffset="12" fill="none" opacity="0.55"/>
<path d="M138 737.4L1012 737.4" stroke="#ff0000" stroke-width="0.80" stroke-dasharray="1.0 0.5 0.5 2.0 2.0 0.5 1.0 1.0 2.0 1.0 1.0 1.0 2.0 1.0 1.5 1.0 1.5 1.0 1.0 1.5 0.5 2.0 1.5 1.5" stroke-dashoffset="3" fill="none" opacity="0.55"/>
<path d="M819.5 734.3V735.8l.5 -1.4v1.2l.5 -.2v-.9l.5 -.5v2l.5 -.3v-1.5l.5 .1v1.1l.5 1.5v-3.7l.5 -1.2v6.1l.5 -2.6v-1.3l.5 -2v5.7l.5 -2v-1.8l.5 -1.7v5.6l.5 -2.5v-1.4l.5 -.7v2.6l.5 1.1v-5.1l.5 1.6v2.4l.5 -.6v-1.2l.5 -.1v1.1l.5 3.1v-6.6l.5 2.1v1.9l.5 1.6v-6.3l.5 .3v6.9l.5 -2.9v-1.4l.5 -.1v1.6l.5 .3v-2.1l.5 .2v1.6l.5 -.2v-1.1l.5 -0v1.4l.5 -.3v-1.3" stroke="#ff0000" stroke-width="2.20" fill="none" stroke-linejoin="miter" stroke-miterlimit="1"/>
<path d="M138 766.5L1012 766.5" stroke="#0000ff" stroke-width="4.10" fill="none"/>
<path d="M138 764.1L1012 764.1" stroke="#0000ff" stroke-width="0.80" stroke-dasharray="1.5 0.5 1.0 3.0 1.0 1.0 1.0 2.0 0.5 3.0 3.0 0.5 1.0 1.0 1.5 3.0 1.5 1.0 1.5 3.0 1.0 1.5 1.0 3.0" stroke-dashoffset="6" fill="none" opacity="0.55"/>
<path d="M138 768.9L1012 768.9" stroke="#0000ff" stroke-width="0.80" stroke-dasharray="1.0 3.0 1.0 1.0 1.0 3.0 1.0 3.0 2.0 1.5 1.5 1.0 3.0 1.5 1.0 1.0 2.0 1.0 1.0 1.5 1.0 0.5 2.0 0.5" stroke-dashoffset="4" fill="none" opacity="0.55"/>
<path d="M138 798L1012 798" stroke="#008000" stroke-width="4.10" fill="none"/>
<path d="M138 795.6L1012 795.6" stroke="#008000" stroke-width="0.80" stroke-dasharray="3.0 1.5 0.5 3.0 3.0 0.5 1.0 1.0 2.0 1.0 1.0 1.0 2.0 1.5 2.0 3.0 1.5 0.5 0.5 1.0 1.0 1.0 1.0 0.5" stroke-dashoffset="1" fill="none" opacity="0.55"/>
<path d="M138 800.4L1012 800.4" stroke="#008000" stroke-width="0.80" stroke-dasharray="1.0 3.0 2.0 3.0 0.5 1.0 2.0 2.0 3.0 1.0 0.5 0.5 1.0 2.0 3.0 0.5 0.5 2.0 1.0 2.0 1.0 1.5 2.0 1.5" stroke-dashoffset="19" fill="none" opacity="0.55"/>
<path d="M231.5 797.4V798.8l.5 -1.5v1.3l.5 .2v-1.5l.5 -.1v1.6l.5 -.1v-1.3l.5 .2v1.3l.5 1.3v-4.7l.5 .9v3.4l.5 2.3v-7.7l.5 2.1v2.6l.5 1.5v-5.4l.5 .9v3.8l.5 -.6v-2.3l.5 .1v2l.5 -.1v-1.8l.5 -2.8v6.9l.5 .1v-6.9l.5 1.7v3.7l.5 -1v-2.2l.5 .3v1.8l.5 .7v-3.4l.5 .7v2.3l.5 1.2v-5.5l.5 1.2v3.7l.5 40.4v-88l.5 44.7v2.5l.5 -.6v-1.8l.5 -.3v2.3l.5 -.1v-2.2l.5 .7v1l.5 0v-1.2l.5 -0v1.4M262.5 797.5V798.5l.5 -1v1l.5 -.1v-1l.5 -.5v2.1l.5 .3v-3l.5 -1.4v6.3l.5 -.9v-4l.5 -.7v4.2l.5 -1v-1.8l.5 .1v1.5l.5 0v-1.2l.5 -.2v1.3l.5 .4v-1.6l.5 -.7v2.6l.5 2.3v-7.3l.5 .8v5.2l.5 1.6v-7.7l.5 -3.1v15.2l.5 3v-21.3l.5 7.3v5.5l.5 9.7v-24.1l.5 1.9v18.1l.5 -1.3v-14.7l.5 -5.6v27.3l.5 -10.8v-6.7l.5 -8.8v24.7l.5 -8.8v-7.6l.5 -2.8v12.8l.5 3.8v-21.5l.5 .6v21.2l.5 -3.9v-12.2l.5 5.2v2.7l.5 .3v-3.6l.5 .7v1.7l.5 -.2v-1.6l.5 .5v1.1l.5 .1v-1.5" stroke="#008000" stroke-width="2.20" fill="none" stroke-linejoin="miter" stroke-miterlimit="1"/>
<path d="M138 828.8L193.5 828.2" stroke="#000000" stroke-width="4.10" fill="none"/>
<path d="M138 826.4L193.5 825.8" stroke="#000000" stroke-width="0.80" stroke-dasharray="1.0 1.5 3.0 3.0 1.5 1.0 0.5 1.0 1.0 1.5 3.0 1.0 2.0 2.0 3.0 0.5 0.5 1.0 0.5 3.0 2.0 0.5 3.0 3.0" stroke-dashoffset="6" fill="none" opacity="0.55"/>
<path d="M138 831.2L193.5 830.6" stroke="#000000" stroke-width="0.80" stroke-dasharray="0.5 2.0 1.0 0.5 1.0 0.5 0.5 0.5 2.0 1.5 3.0 1.5 2.0 2.0 1.0 1.5 0.5 0.5 1.0 1.0 1.0 2.0 1.5 1.0" stroke-dashoffset="13" fill="none" opacity="0.55"/>
</g>
<rect x="138.5" y="48.5" width="874" height="807" fill="none" stroke="#000" stroke-width="1.15"/>
<path d="M132.4 73.50H138M1013 73.50H1018.8M132.4 104.50H138M1013 104.50H1018.8M132.4 136.50H138M1013 136.50H1018.8M132.4 167.50H138M1013 167.50H1018.8M132.4 199.50H138M1013 199.50H1018.8M132.4 230.50H138M1013 230.50H1018.8M132.4 262.50H138M1013 262.50H1018.8M132.4 294.50H138M1013 294.50H1018.8M132.4 325.50H138M1013 325.50H1018.8M132.4 357.50H138M1013 357.50H1018.8M132.4 388.50H138M1013 388.50H1018.8M132.4 420.50H138M1013 420.50H1018.8M132.4 451.50H138M1013 451.50H1018.8M132.4 483.50H138M1013 483.50H1018.8M132.4 514.50H138M1013 514.50H1018.8M132.4 546.50H138M1013 546.50H1018.8M132.4 578.50H138M1013 578.50H1018.8M132.4 609.50H138M1013 609.50H1018.8M132.4 641.50H138M1013 641.50H1018.8M132.4 672.50H138M1013 672.50H1018.8M132.4 704.50H138M1013 704.50H1018.8M132.4 735.50H138M1013 735.50H1018.8M132.4 767.50H138M1013 767.50H1018.8M132.4 798.50H138M1013 798.50H1018.8M132.4 830.50H138M1013 830.50H1018.8M138.5 855V861.5M356.5 855V861.5M575.5 855V861.5M793.5 855V861.5M1012.5 855V861.5" stroke="#000" stroke-width="1.1" fill="none"/>
<text x="126" y="77.9" font-size="13.2" text-anchor="end" textLength="59" lengthAdjust="spacingAndGlyphs">08:00:00</text>
<text x="1024.7" y="77.9" font-size="13.2" textLength="59" lengthAdjust="spacingAndGlyphs">09:00:00</text>
<text x="126" y="109.5" font-size="13.2" text-anchor="end" textLength="59" lengthAdjust="spacingAndGlyphs">09:00:00</text>
<text x="1024.7" y="109.5" font-size="13.2" textLength="59" lengthAdjust="spacingAndGlyphs">10:00:00</text>
<text x="126" y="141.0" font-size="13.2" text-anchor="end" textLength="59" lengthAdjust="spacingAndGlyphs">10:00:00</text>
<text x="1024.7" y="141.0" font-size="13.2" textLength="59" lengthAdjust="spacingAndGlyphs">11:00:00</text>
<text x="126" y="172.6" font-size="13.2" text-anchor="end" textLength="59" lengthAdjust="spacingAndGlyphs">11:00:00</text>
<text x="1024.7" y="172.6" font-size="13.2" textLength="59" lengthAdjust="spacingAndGlyphs">12:00:00</text>
<text x="126" y="204.1" font-size="13.2" text-anchor="end" textLength="59" lengthAdjust="spacingAndGlyphs">12:00:00</text>
<text x="1024.7" y="204.1" font-size="13.2" textLength="59" lengthAdjust="spacingAndGlyphs">13:00:00</text>
<text x="126" y="235.6" font-size="13.2" text-anchor="end" textLength="59" lengthAdjust="spacingAndGlyphs">13:00:00</text>
<text x="1024.7" y="235.6" font-size="13.2" textLength="59" lengthAdjust="spacingAndGlyphs">14:00:00</text>
<text x="126" y="267.2" font-size="13.2" text-anchor="end" textLength="59" lengthAdjust="spacingAndGlyphs">14:00:00</text>
<text x="1024.7" y="267.2" font-size="13.2" textLength="59" lengthAdjust="spacingAndGlyphs">15:00:00</text>
<text x="126" y="298.8" font-size="13.2" text-anchor="end" textLength="59" lengthAdjust="spacingAndGlyphs">15:00:00</text>
<text x="1024.7" y="298.8" font-size="13.2" textLength="59" lengthAdjust="spacingAndGlyphs">16:00:00</text>
<text x="126" y="330.3" font-size="13.2" text-anchor="end" textLength="59" lengthAdjust="spacingAndGlyphs">16:00:00</text>
<text x="1024.7" y="330.3" font-size="13.2" textLength="59" lengthAdjust="spacingAndGlyphs">17:00:00</text>
<text x="126" y="361.8" font-size="13.2" text-anchor="end" textLength="59" lengthAdjust="spacingAndGlyphs">17:00:00</text>
<text x="1024.7" y="361.8" font-size="13.2" textLength="59" lengthAdjust="spacingAndGlyphs">18:00:00</text>
<text x="126" y="393.4" font-size="13.2" text-anchor="end" textLength="59" lengthAdjust="spacingAndGlyphs">18:00:00</text>
<text x="1024.7" y="393.4" font-size="13.2" textLength="59" lengthAdjust="spacingAndGlyphs">19:00:00</text>
<text x="126" y="424.9" font-size="13.2" text-anchor="end" textLength="59" lengthAdjust="spacingAndGlyphs">19:00:00</text>
<text x="1024.7" y="424.9" font-size="13.2" textLength="59" lengthAdjust="spacingAndGlyphs">20:00:00</text>
<text x="126" y="456.5" font-size="13.2" text-anchor="end" textLength="59" lengthAdjust="spacingAndGlyphs">20:00:00</text>
<text x="1024.7" y="456.5" font-size="13.2" textLength="59" lengthAdjust="spacingAndGlyphs">21:00:00</text>
<text x="126" y="488.1" font-size="13.2" text-anchor="end" textLength="59" lengthAdjust="spacingAndGlyphs">21:00:00</text>
<text x="1024.7" y="488.1" font-size="13.2" textLength="59" lengthAdjust="spacingAndGlyphs">22:00:00</text>
<text x="126" y="519.6" font-size="13.2" text-anchor="end" textLength="59" lengthAdjust="spacingAndGlyphs">22:00:00</text>
<text x="1024.7" y="519.6" font-size="13.2" textLength="59" lengthAdjust="spacingAndGlyphs">23:00:00</text>
<text x="126" y="551.2" font-size="13.2" text-anchor="end" textLength="59" lengthAdjust="spacingAndGlyphs">23:00:00</text>
<text x="1024.7" y="551.2" font-size="13.2" textLength="59" lengthAdjust="spacingAndGlyphs">00:00:00</text>
<text x="126" y="582.7" font-size="13.2" text-anchor="end" textLength="59" lengthAdjust="spacingAndGlyphs">00:00:00</text>
<text x="1024.7" y="582.7" font-size="13.2" textLength="59" lengthAdjust="spacingAndGlyphs">01:00:00</text>
<text x="126" y="614.3" font-size="13.2" text-anchor="end" textLength="59" lengthAdjust="spacingAndGlyphs">01:00:00</text>
<text x="1024.7" y="614.3" font-size="13.2" textLength="59" lengthAdjust="spacingAndGlyphs">02:00:00</text>
<text x="126" y="645.8" font-size="13.2" text-anchor="end" textLength="59" lengthAdjust="spacingAndGlyphs">02:00:00</text>
<text x="1024.7" y="645.8" font-size="13.2" textLength="59" lengthAdjust="spacingAndGlyphs">03:00:00</text>
<text x="126" y="677.4" font-size="13.2" text-anchor="end" textLength="59" lengthAdjust="spacingAndGlyphs">03:00:00</text>
<text x="1024.7" y="677.4" font-size="13.2" textLength="59" lengthAdjust="spacingAndGlyphs">04:00:00</text>
<text x="126" y="708.9" font-size="13.2" text-anchor="end" textLength="59" lengthAdjust="spacingAndGlyphs">04:00:00</text>
<text x="1024.7" y="708.9" font-size="13.2" textLength="59" lengthAdjust="spacingAndGlyphs">05:00:00</text>
<text x="126" y="740.5" font-size="13.2" text-anchor="end" textLength="59" lengthAdjust="spacingAndGlyphs">05:00:00</text>
<text x="1024.7" y="740.5" font-size="13.2" textLength="59" lengthAdjust="spacingAndGlyphs">06:00:00</text>
<text x="126" y="772.0" font-size="13.2" text-anchor="end" textLength="59" lengthAdjust="spacingAndGlyphs">06:00:00</text>
<text x="1024.7" y="772.0" font-size="13.2" textLength="59" lengthAdjust="spacingAndGlyphs">07:00:00</text>
<text x="126" y="803.6" font-size="13.2" text-anchor="end" textLength="59" lengthAdjust="spacingAndGlyphs">07:00:00</text>
<text x="1024.7" y="803.6" font-size="13.2" textLength="59" lengthAdjust="spacingAndGlyphs">08:00:00</text>
<text x="126" y="835.1" font-size="13.2" text-anchor="end" textLength="59" lengthAdjust="spacingAndGlyphs">08:00:00</text>
<text x="1024.7" y="835.1" font-size="13.2" textLength="59" lengthAdjust="spacingAndGlyphs">09:00:00</text>
<text x="139.3" y="877" font-size="12.6" text-anchor="middle" textLength="8.6" lengthAdjust="spacingAndGlyphs">0</text>
<text x="357.0" y="877" font-size="12.6" text-anchor="middle" textLength="16.2" lengthAdjust="spacingAndGlyphs">15</text>
<text x="575.5" y="877" font-size="12.6" text-anchor="middle" textLength="16.2" lengthAdjust="spacingAndGlyphs">30</text>
<text x="794.0" y="877" font-size="12.6" text-anchor="middle" textLength="16.2" lengthAdjust="spacingAndGlyphs">45</text>
<text x="1012.5" y="877" font-size="12.6" text-anchor="middle" textLength="16.2" lengthAdjust="spacingAndGlyphs">60</text>
<text x="522" y="896" font-size="13.3" textLength="105.5" lengthAdjust="spacingAndGlyphs">time in minutes</text>
<text transform="translate(53.2,578) rotate(-90)" x="0" y="0" font-size="18.3" textLength="252.5" lengthAdjust="spacingAndGlyphs">UTC (local time = UTC - 08:00)</text>
</svg></body></html>
